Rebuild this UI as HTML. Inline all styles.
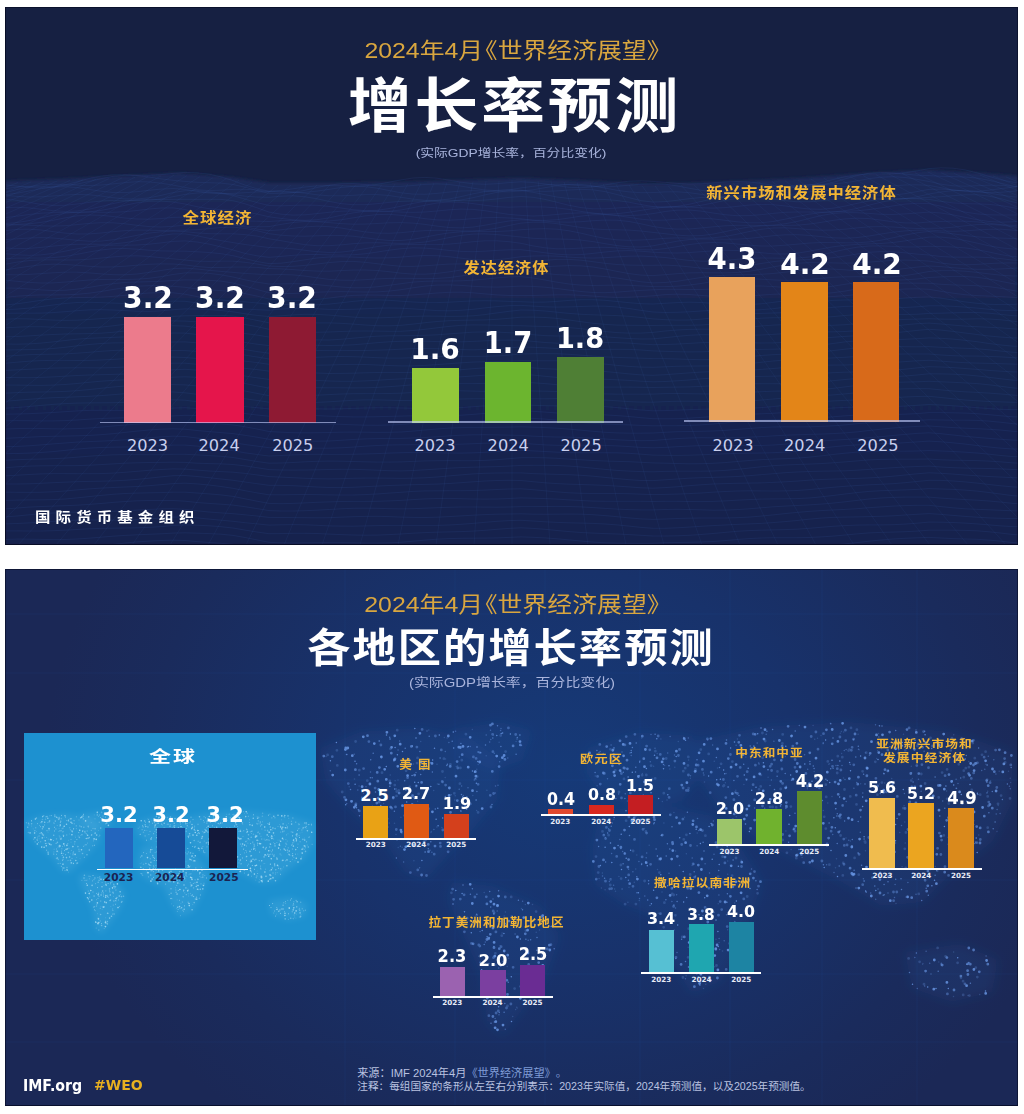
<!DOCTYPE html>
<html><head><meta charset="utf-8"><title>IMF WEO</title>
<style>
html,body{margin:0;padding:0;background:#fff;}
body{width:1024px;height:1114px;position:relative;overflow:hidden;}
.t{position:absolute;white-space:nowrap;}
.r{position:absolute;}
.panel{position:absolute;overflow:hidden;}
#p1{left:5px;top:7px;width:1013px;height:538px;background:#172043;}
#p2{left:5px;top:569px;width:1013px;height:537px;background:#1c2d5e;}
svg.bg{position:absolute;left:0;top:0;display:block;}
.panel::after{content:"";position:absolute;left:0;top:0;right:0;bottom:0;box-shadow:inset 0 0 0 1px rgba(4,8,30,0.55);pointer-events:none;}

</style></head>
<body>
<div class="panel" id="p1"><svg class="bg" id="bg1" width="1013" height="538" viewBox="0 0 1013 538">
<defs>
<linearGradient id="g1" x1="0" y1="0" x2="0" y2="1">
<stop offset="0" stop-color="#1b2a5a"/>
<stop offset="0.15" stop-color="#1a2755"/>
<stop offset="0.4" stop-color="#192550"/>
<stop offset="1" stop-color="#18234d"/>
</linearGradient>
</defs>
<rect width="1013" height="538" fill="#162042"/>
<filter id="bl1" x="-5%" y="-50%" width="110%" height="200%"><feGaussianBlur stdDeviation="1.5"/></filter>
<path d="M0,538 L0,174 L55,172 L115,169 L175,166 L225,170 L265,176 L325,176 L395,175 L455,173 L515,171 L585,174 L645,177 L715,175 L795,171 L865,166 L925,163 L975,166 L1013,169 L1013,538 Z" fill="url(#g1)" filter="url(#bl1)"/>
<g stroke="#4068b8" stroke-opacity="0.16" stroke-width="0.8" fill="none"><polyline points="0,177.8 12,179.1 24,180.4 36,181.0 48,180.2 60,177.9 72,174.8 84,171.5 96,169.1 108,167.9 120,167.7 132,168.1 144,168.3 156,167.7 168,166.4 180,165.4 192,165.8 204,167.2 216,169.9 228,173.6 240,178.1 252,181.8 264,184.1 276,183.4 288,181.8 300,180.0 312,178.9 324,178.6 336,178.8 348,179.1 360,178.7 372,177.4 384,175.2 396,172.9 408,171.0 420,170.4 432,171.2 444,173.1 456,175.2 468,176.8 480,177.3 492,176.7 504,175.6 516,174.8 528,175.5 540,177.0 552,178.8 564,180.3 576,180.7 588,179.9 600,178.0 612,175.8 624,174.2 636,173.8 648,174.4 660,175.3 672,176.4 684,177.1 696,176.8 708,176.0 720,175.0 732,174.4 744,175.0 756,176.4 768,178.3 780,179.7 792,179.9 804,178.4 816,175.7 828,172.5 840,169.7 852,167.9 864,167.0 876,166.9 888,166.7 900,165.7 912,163.9 924,161.6 936,160.8 948,161.2 960,162.9 972,165.8 984,169.4 996,172.8 1008,175.2 1020,175.7"/><polyline points="0,181.6 12,180.1 24,179.3 36,179.3 48,179.3 60,178.7 72,177.1 84,174.5 96,171.7 108,169.4 120,168.2 132,168.6 144,170.0 156,171.9 168,173.3 180,174.4 192,175.3 204,175.7 216,176.1 228,177.5 240,180.2 252,183.5 264,186.4 276,186.7 288,185.6 300,183.3 312,180.5 324,178.2 336,176.7 348,176.6 360,177.5 372,178.7 384,179.4 396,179.4 408,178.5 420,177.4 432,176.9 444,177.5 456,179.1 468,181.2 480,183.0 492,183.6 504,182.9 516,180.9 528,179.3 540,177.9 552,177.3 564,177.7 576,178.7 588,179.6 600,179.9 612,179.3 624,178.2 636,177.2 648,176.9 660,177.2 672,178.9 684,181.2 696,183.3 708,184.6 720,184.4 732,183.2 744,181.6 756,180.3 768,179.8 780,179.9 792,180.2 804,179.8 816,178.2 828,175.4 840,171.9 852,168.6 864,166.2 876,165.4 888,165.9 900,167.1 912,168.2 924,168.6 936,169.3 948,169.6 960,170.0 972,171.1 984,173.3 996,176.2 1008,179.1 1020,180.7"/><polyline points="0,185.7 12,182.6 24,179.7 36,177.8 48,177.2 60,177.5 72,178.2 84,178.5 96,178.0 108,176.9 120,175.6 132,174.7 144,174.9 156,176.2 168,178.1 180,180.4 192,182.7 204,183.6 216,183.2 228,182.4 240,182.3 252,183.0 264,184.6 276,185.1 288,185.5 300,185.3 312,184.1 324,182.4 336,180.5 348,179.4 360,179.6 372,181.2 384,183.5 396,185.8 408,187.1 420,187.3 432,186.4 444,185.1 456,184.0 468,183.7 480,184.1 492,184.7 504,184.8 516,184.0 528,182.8 540,180.7 552,178.7 564,177.4 576,177.5 588,178.8 600,181.1 612,183.3 624,184.9 636,185.7 648,185.6 660,184.9 672,184.8 684,185.7 696,187.3 708,189.1 720,190.1 732,189.6 744,187.8 756,184.9 768,181.9 780,179.5 792,178.1 804,177.5 816,177.3 828,176.9 840,175.8 852,173.9 864,171.7 876,170.2 888,169.7 900,170.5 912,172.4 924,174.5 936,177.2 948,178.8 960,179.2 972,178.7 984,178.2 996,178.4 1008,179.3 1020,180.2"/><polyline points="0,187.7 12,186.2 24,184.0 36,181.7 48,180.1 60,179.7 72,180.6 84,182.4 96,184.2 108,185.5 120,185.6 132,184.7 144,183.3 156,182.1 168,181.5 180,182.4 192,184.4 204,186.1 216,186.7 228,186.4 240,185.7 252,184.9 264,184.8 276,184.2 288,184.8 300,186.2 312,187.8 324,188.8 336,188.8 348,188.3 360,187.6 372,187.6 384,188.5 396,190.3 408,192.1 420,193.3 432,193.4 444,192.0 456,189.6 468,186.8 480,184.6 492,183.3 504,182.9 516,183.2 528,184.1 540,184.4 552,183.9 564,183.0 576,182.4 588,182.8 600,184.6 612,187.5 624,190.7 636,193.6 648,195.1 660,194.6 672,193.3 684,191.7 696,190.5 708,190.1 720,190.2 732,190.2 744,189.7 756,188.1 768,185.5 780,182.4 792,179.8 804,178.0 816,177.5 828,178.3 840,179.5 852,180.4 864,180.5 876,179.9 888,178.9 900,178.0 912,177.8 924,178.4 936,180.7 948,183.0 960,184.3 972,184.3 984,183.2 996,181.6 1008,180.2 1020,179.1"/><polyline points="0,188.4 12,189.4 24,190.0 36,189.8 48,189.0 60,188.0 72,187.4 84,187.8 96,189.0 108,190.7 120,191.9 132,192.0 144,190.8 156,188.4 168,185.6 180,183.7 192,183.7 204,184.6 216,186.0 228,187.6 240,189.2 252,190.0 264,190.3 276,189.2 288,188.8 300,189.8 312,191.8 324,194.4 336,196.6 348,197.7 360,197.7 372,196.7 384,195.4 396,194.4 408,193.9 420,194.1 432,194.4 444,194.2 456,193.0 468,190.7 480,187.9 492,185.3 504,183.6 516,183.4 528,185.3 540,187.7 552,190.0 564,191.5 576,192.2 588,192.3 600,192.5 612,193.5 624,195.2 636,197.6 648,199.6 660,200.1 672,199.4 684,197.3 696,194.5 708,191.8 720,189.8 732,188.7 744,188.6 756,188.8 768,188.8 780,188.0 792,186.6 804,184.8 816,183.5 828,183.2 840,184.1 852,185.7 864,187.3 876,188.4 888,188.2 900,186.7 912,184.6 924,182.4 936,182.1 948,182.8 960,183.9 972,185.0 984,185.6 996,185.3 1008,184.3 1020,182.6"/><polyline points="0,192.0 12,193.4 24,195.4 36,197.4 48,198.4 60,198.3 72,197.0 84,195.4 96,194.0 108,193.4 120,193.4 132,193.5 144,193.3 156,192.0 168,189.7 180,187.4 192,186.0 204,185.5 216,186.3 228,188.6 240,192.1 252,195.6 264,198.5 276,198.8 288,198.4 300,198.1 312,198.3 324,199.4 336,201.0 348,202.7 360,203.6 372,203.3 384,201.6 396,199.2 408,196.4 420,194.3 432,193.3 444,193.2 456,193.6 468,193.7 480,193.1 492,191.9 504,190.4 516,189.5 528,190.3 540,192.4 552,195.3 564,198.3 576,200.6 588,201.8 600,201.8 612,201.0 624,200.2 636,199.9 648,200.1 660,200.2 672,200.3 684,199.8 696,198.3 708,196.0 720,193.4 732,191.3 744,190.3 756,190.7 768,192.0 780,193.6 792,194.8 804,194.8 816,193.8 828,192.4 840,191.2 852,190.7 864,190.9 876,191.7 888,192.1 900,191.6 912,189.8 924,187.0 936,185.0 948,183.6 960,183.3 972,184.2 984,186.0 996,188.1 1008,189.8 1020,190.2"/><polyline points="0,200.6 12,200.3 24,200.9 36,202.2 48,203.7 60,204.4 72,204.0 84,202.2 96,199.5 108,196.6 120,194.2 132,192.9 144,192.4 156,192.5 168,192.4 180,192.3 192,192.4 204,192.3 216,192.4 228,193.7 240,196.8 252,200.8 264,205.1 276,207.2 288,208.1 300,207.8 312,206.6 324,205.3 336,204.2 348,203.9 360,204.1 372,204.5 384,204.2 396,203.0 408,200.7 420,198.2 432,196.0 444,195.0 456,195.3 468,196.6 480,198.3 492,199.7 504,200.2 516,199.8 528,199.9 540,200.0 552,200.9 564,202.4 576,204.4 588,206.1 600,207.0 612,206.7 624,205.3 636,203.4 648,201.6 660,200.0 672,199.6 684,200.0 696,200.8 708,201.1 720,200.6 732,199.4 744,198.1 756,197.4 768,197.7 780,198.9 792,200.7 804,202.0 816,202.3 828,201.2 840,199.1 852,196.4 864,193.9 876,192.4 888,191.7 900,191.6 912,191.2 924,190.3 936,189.7 948,188.7 960,187.8 972,187.7 984,189.1 996,191.7 1008,195.0 1020,197.6"/><polyline points="0,210.6 12,209.2 24,207.5 36,206.2 48,205.6 60,205.5 72,205.5 84,204.9 96,203.4 108,201.1 120,198.3 132,195.8 144,194.3 156,194.1 168,195.0 180,197.0 192,199.7 204,201.7 216,202.7 228,203.5 240,204.9 252,207.0 264,209.8 276,211.4 288,212.8 300,213.3 312,212.7 324,210.9 336,208.3 348,205.9 360,204.4 372,203.9 384,204.4 396,205.1 408,205.4 420,205.0 432,204.0 444,202.8 456,202.1 468,202.4 480,203.7 492,205.6 504,207.4 516,208.4 528,209.0 540,208.5 552,207.4 564,206.3 576,205.9 588,206.3 600,207.3 612,208.2 624,208.5 636,208.0 648,206.6 660,204.5 672,203.2 684,203.0 696,204.1 708,206.0 720,207.7 732,208.7 744,208.6 756,207.7 768,206.4 780,205.3 792,205.0 804,205.0 816,205.2 828,205.0 840,203.7 852,201.4 864,198.2 876,195.2 888,192.9 900,191.7 912,191.7 924,192.4 936,194.4 948,195.9 960,196.6 972,196.9 984,197.4 996,198.6 1008,200.7 1020,203.0"/><polyline points="0,216.5 12,215.6 24,213.6 36,210.9 48,208.3 60,206.2 72,205.2 84,205.0 96,205.3 108,205.3 120,204.7 132,203.5 144,202.0 156,201.0 168,200.9 180,202.5 192,205.7 204,208.9 216,211.4 228,212.9 240,213.9 252,214.2 264,214.5 276,213.7 288,213.5 300,213.9 312,214.2 324,214.0 336,212.8 348,210.9 360,208.9 372,207.6 384,207.3 396,208.3 408,209.9 420,211.7 432,212.9 444,213.2 456,212.6 468,211.6 480,210.7 492,210.5 504,211.0 516,211.8 528,213.1 540,213.4 552,212.7 564,211.0 576,209.1 588,207.8 600,207.6 612,208.6 624,210.3 636,212.2 648,213.3 660,213.1 672,212.3 684,211.5 696,211.2 708,211.9 720,213.3 732,214.8 744,215.8 756,215.8 768,214.5 780,212.2 792,209.7 804,207.2 816,205.6 828,204.8 840,204.4 852,203.8 864,202.6 876,200.9 888,198.9 900,197.1 912,196.3 924,196.6 936,199.2 948,202.3 960,205.1 972,206.9 984,207.8 996,208.0 1008,208.0 1020,207.8"/><polyline points="0,217.4 12,217.3 24,216.8 36,215.4 48,213.3 60,210.9 72,208.9 84,208.0 96,208.3 108,209.5 120,211.0 132,212.0 144,212.2 156,211.6 168,210.4 180,210.1 192,211.2 204,213.0 216,215.2 228,217.3 240,219.1 252,219.8 264,219.6 276,217.4 288,215.5 300,214.5 312,214.7 324,215.6 336,216.6 348,217.2 360,217.1 372,216.5 384,215.8 396,215.6 408,216.1 420,217.4 432,219.1 444,220.5 456,220.9 468,220.1 480,218.2 492,216.0 504,214.0 516,212.8 528,213.3 540,214.2 552,215.0 564,215.2 576,214.7 588,213.7 600,213.1 612,213.2 624,214.5 636,216.8 648,219.5 660,221.2 672,222.1 684,222.0 696,221.0 708,219.8 720,218.8 732,218.3 744,218.3 756,218.5 768,218.1 780,216.8 792,214.5 804,211.5 816,208.6 828,206.5 840,205.6 852,205.7 864,206.4 876,207.3 888,207.5 900,206.9 912,206.0 924,205.1 936,206.0 948,207.9 960,210.3 972,212.7 984,214.5 996,215.2 1008,214.8 1020,213.1"/><polyline points="0,218.3 12,217.8 24,218.2 36,218.8 48,219.1 60,218.7 72,217.6 84,216.4 96,215.7 108,215.8 120,216.8 132,218.3 144,219.6 156,220.0 168,219.3 180,218.1 192,217.4 204,216.7 216,216.8 228,217.8 240,220.0 252,222.1 264,223.7 276,222.8 288,221.3 300,219.9 312,219.2 324,219.7 336,221.0 348,223.0 360,224.9 372,226.1 384,226.3 396,225.7 408,224.5 420,223.6 432,223.3 444,223.5 456,223.9 468,223.9 480,223.0 492,221.1 504,218.5 516,216.1 528,215.2 540,215.4 552,216.7 564,218.6 576,220.5 588,221.9 600,222.6 612,222.8 624,223.1 636,224.0 648,225.4 660,226.7 672,228.1 684,228.9 696,228.6 708,227.1 720,224.7 732,222.1 744,220.0 756,218.9 768,218.5 780,218.4 792,218.2 804,217.1 816,215.4 828,213.4 840,211.9 852,211.2 864,211.6 876,213.1 888,214.8 900,215.9 912,216.0 924,215.0 936,214.5 948,214.1 960,214.2 972,214.9 984,216.2 996,217.6 1008,218.4 1020,217.7"/><polyline points="0,223.7 12,222.4 24,222.2 36,223.0 48,224.6 60,226.1 72,227.0 84,226.9 96,226.0 108,224.7 120,223.6 132,223.1 144,223.2 156,223.5 168,223.4 180,223.1 192,222.7 204,221.6 216,220.5 228,220.1 240,221.4 252,223.7 264,226.7 276,228.2 288,229.0 300,229.2 312,228.8 324,228.4 336,228.5 348,229.2 360,230.7 372,232.3 384,233.5 396,233.5 408,232.3 420,230.1 432,227.8 444,225.9 456,224.8 468,224.5 480,224.6 492,224.5 504,223.9 516,222.7 528,222.0 540,221.7 552,222.2 564,223.8 576,226.2 588,229.0 600,231.4 612,232.8 624,233.3 636,233.0 648,232.3 660,231.3 672,230.9 684,231.1 696,231.2 708,230.8 720,229.5 732,227.2 744,224.6 756,222.3 768,221.0 780,220.8 792,221.6 804,222.6 816,223.2 828,223.0 840,222.2 852,220.9 864,219.8 876,219.6 888,220.0 900,220.9 912,221.5 924,221.3 936,221.2 948,220.2 960,218.8 972,217.6 984,217.3 996,218.1 1008,219.7 1020,220.9"/><polyline points="0,232.6 12,231.8 24,231.0 36,230.6 48,231.0 60,232.1 72,233.3 84,234.2 96,234.1 108,232.8 120,230.7 132,228.3 144,226.1 156,224.8 168,224.2 180,224.6 192,225.9 204,226.7 216,226.8 228,226.8 240,227.6 252,229.1 264,231.8 276,233.7 288,235.8 300,237.7 312,238.7 324,238.7 336,237.9 348,236.7 360,235.9 372,235.7 384,236.1 396,236.4 408,236.1 420,235.0 432,233.0 444,230.6 456,228.4 468,227.1 480,226.9 492,227.6 504,228.8 516,230.0 528,231.3 540,231.8 552,232.0 564,232.3 576,233.1 588,234.6 600,236.7 612,238.6 624,239.8 636,240.0 648,238.8 660,236.5 672,234.2 684,232.6 696,232.0 708,232.1 720,232.3 732,232.2 744,231.4 756,230.1 768,228.7 780,227.8 792,227.7 804,228.4 816,229.6 828,230.8 840,231.2 852,230.6 864,229.0 876,227.0 888,225.2 900,223.9 912,223.2 924,223.0 936,223.9 948,224.3 960,223.9 972,223.0 984,222.3 996,222.2 1008,223.2 1020,224.7"/><polyline points="0,240.9 12,241.6 24,241.4 36,240.4 48,239.1 60,238.0 72,237.3 84,237.2 96,237.3 108,236.9 120,235.7 132,233.6 144,231.1 156,228.6 168,226.9 180,226.9 192,228.8 204,231.3 216,233.6 228,235.6 240,237.5 252,239.0 264,240.5 276,240.9 288,241.8 300,243.3 312,244.7 324,245.5 336,245.1 348,243.7 360,241.7 372,239.6 384,238.1 396,237.5 408,237.4 420,237.6 432,237.6 444,237.1 456,236.0 468,234.7 480,233.8 492,233.8 504,234.7 516,236.3 528,238.9 540,240.8 552,241.8 564,241.7 576,241.1 588,240.4 600,240.3 612,240.9 624,241.8 636,242.7 648,242.9 660,241.6 672,239.7 684,237.6 696,236.1 708,235.5 720,235.9 732,237.0 744,238.2 756,239.0 768,239.0 780,238.2 792,237.2 804,236.1 816,235.5 828,235.6 840,235.8 852,235.8 864,234.9 876,233.2 888,230.8 900,228.1 912,225.8 924,224.4 936,225.3 948,226.8 960,228.5 972,229.8 984,230.6 996,231.1 1008,231.5 1020,232.0"/><polyline points="0,246.7 12,247.8 24,248.3 36,247.9 48,246.4 60,244.2 72,241.8 84,239.8 96,238.6 108,238.2 120,238.2 132,238.0 144,237.2 156,235.9 168,234.4 180,233.9 192,235.0 204,237.1 216,239.9 228,243.0 240,246.4 252,248.8 264,250.3 276,249.4 288,248.3 300,247.6 312,247.5 324,247.9 336,248.1 348,247.8 360,246.8 372,245.1 384,243.2 396,241.7 408,240.8 420,241.1 432,242.1 444,243.4 456,244.4 468,244.7 480,244.2 492,243.4 504,242.8 516,242.7 528,244.1 540,245.8 552,247.2 564,247.9 576,247.6 588,246.4 600,245.0 612,243.9 624,243.6 636,244.2 648,245.2 660,245.8 672,246.0 684,245.6 696,244.7 708,243.9 720,243.4 732,243.5 744,244.5 756,245.7 768,246.8 780,247.0 792,246.2 804,244.3 816,242.0 828,239.8 840,238.3 852,237.4 864,236.9 876,236.5 888,235.5 900,233.9 912,231.9 924,230.1 936,230.1 948,231.3 960,233.5 972,236.1 984,238.8 996,240.8 1008,242.0 1020,242.0"/><polyline points="0,251.7 12,251.2 24,251.1 36,251.1 48,250.6 60,249.4 72,247.3 84,245.0 96,243.0 108,241.7 120,241.5 132,242.2 144,243.2 156,243.9 168,244.1 180,244.2 192,244.8 204,245.5 216,246.7 228,248.7 240,251.6 252,254.5 264,256.6 276,256.2 288,254.7 300,252.8 312,251.0 324,250.0 336,249.7 348,250.1 360,250.7 372,251.0 384,250.8 396,250.1 408,249.1 420,248.5 432,248.7 444,249.7 456,251.2 468,252.5 480,253.1 492,252.7 504,251.4 516,249.7 528,249.0 540,248.8 552,249.2 564,250.1 576,250.8 588,251.1 600,250.7 612,249.9 624,249.2 636,249.1 648,249.7 660,250.5 672,252.0 684,253.4 696,254.2 708,254.3 720,253.5 732,252.3 744,251.4 756,251.0 768,251.1 780,251.3 792,251.1 804,250.0 816,247.8 828,245.1 840,242.4 852,240.2 864,239.0 876,238.9 888,239.4 900,239.9 912,239.9 924,239.3 936,239.5 948,240.0 960,240.9 972,242.6 984,245.0 996,247.6 1008,249.6 1020,250.2"/><polyline points="0,257.3 12,255.1 24,253.6 36,252.9 48,252.8 60,253.0 72,252.9 84,252.2 96,251.1 108,249.9 120,249.0 132,248.8 144,249.5 156,250.7 168,251.8 180,253.0 192,254.2 204,254.4 216,254.2 228,254.2 240,255.3 252,257.0 264,259.1 276,259.5 288,259.3 300,258.4 312,257.0 324,255.6 336,254.6 348,254.4 360,255.3 372,256.7 384,258.2 396,259.3 408,259.4 420,258.8 432,257.9 444,257.1 456,256.9 468,257.2 480,257.7 492,257.8 504,257.2 516,255.8 528,254.6 540,253.3 552,252.4 564,252.4 576,253.2 588,254.7 600,256.3 612,257.5 624,258.1 636,258.3 648,258.3 660,258.1 672,258.7 684,259.8 696,261.1 708,261.9 720,261.9 732,260.6 744,258.7 756,256.5 768,254.7 780,253.5 792,253.0 804,252.5 816,251.9 828,250.7 840,249.0 852,247.0 864,245.3 876,244.6 888,244.8 900,245.8 912,247.1 924,248.0 936,249.5 948,250.1 960,250.2 972,250.1 984,250.6 996,251.6 1008,253.1 1020,254.0"/><polyline points="0,262.9 12,261.1 24,259.3 36,257.8 48,257.2 60,257.5 72,258.3 84,259.3 96,260.0 108,259.9 120,259.2 132,258.2 144,257.3 156,256.9 168,257.0 180,257.9 192,259.5 204,260.5 216,260.5 228,260.1 240,260.1 252,260.4 264,261.6 276,261.9 288,262.6 300,263.5 312,264.1 324,264.2 336,263.6 348,263.1 360,263.0 372,263.5 384,264.7 396,266.2 408,267.1 420,267.2 432,266.4 444,264.9 456,263.0 468,261.4 480,260.4 492,260.0 504,259.9 516,259.8 528,260.0 540,259.7 552,259.1 564,258.6 576,258.9 588,260.0 600,262.0 612,264.4 624,266.6 636,268.1 648,268.6 660,267.7 672,266.7 684,265.9 696,265.7 708,265.8 720,265.9 732,265.5 744,264.3 756,262.3 768,260.0 780,257.8 792,256.3 804,255.6 816,255.6 828,255.9 840,256.2 852,255.9 864,255.1 876,254.2 888,253.4 900,253.1 912,253.4 924,254.1 936,256.0 948,257.4 960,257.8 972,257.4 984,256.6 996,256.0 1008,255.9 1020,256.0"/><polyline points="0,267.7 12,267.8 24,267.4 36,266.6 48,265.8 60,265.2 72,265.2 84,265.9 96,266.9 108,267.7 120,267.8 132,267.0 144,265.4 156,263.5 168,261.7 180,261.1 192,262.0 204,263.3 216,264.4 228,265.4 240,266.4 252,267.1 264,267.8 276,267.5 288,267.9 300,269.1 312,270.8 324,272.4 336,273.2 348,273.3 360,272.7 372,271.9 384,271.4 396,271.3 408,271.4 420,271.6 432,271.4 444,270.6 456,269.0 468,266.9 480,264.9 492,263.5 504,262.9 516,263.3 528,264.9 540,266.5 552,267.6 564,268.2 576,268.4 588,268.7 600,269.5 612,271.0 624,272.9 636,274.8 648,275.9 660,275.5 672,274.3 684,272.4 696,270.5 708,269.1 720,268.2 732,267.8 744,267.7 756,267.3 768,266.5 780,265.2 792,263.8 804,262.5 816,261.9 828,262.1 840,262.8 852,263.7 864,264.1 876,263.9 888,263.0 900,261.5 912,260.1 924,259.0 936,259.6 948,260.7 960,261.7 972,262.3 984,262.3 996,261.9 1008,261.3 1020,260.6"/><polyline points="0,273.2 12,274.3 24,275.4 36,276.0 48,275.9 60,275.1 72,274.0 84,273.0 96,272.5 108,272.4 120,272.5 132,272.2 144,271.3 156,269.7 168,267.5 180,265.9 192,265.8 204,266.4 216,267.8 228,270.0 240,272.8 252,275.2 264,277.0 276,276.9 288,276.7 300,276.8 312,277.6 324,278.8 336,280.0 348,280.8 360,280.7 372,279.8 384,278.3 396,276.7 408,275.1 420,274.3 432,274.0 444,274.0 456,273.8 468,273.2 480,272.1 492,270.9 504,269.9 516,269.6 528,271.0 540,273.0 552,275.2 564,277.0 576,278.1 588,278.5 600,278.3 612,278.1 624,278.3 636,278.9 648,279.6 660,279.6 672,279.2 684,278.1 696,276.5 708,274.6 720,273.0 732,271.9 744,271.7 756,272.2 768,272.9 780,273.4 792,273.3 804,272.5 816,271.3 828,270.3 840,269.8 852,269.7 864,269.9 876,270.2 888,269.8 900,268.6 912,266.7 924,264.5 936,263.6 948,263.6 960,264.2 972,265.4 984,266.9 996,268.2 1008,269.0 1020,268.9"/><polyline points="0,281.0 12,281.2 24,282.0 36,282.9 48,283.5 60,283.3 72,282.1 84,280.4 96,278.4 108,276.7 120,275.5 132,275.0 144,274.7 156,274.3 168,273.5 180,272.9 192,273.0 204,273.3 216,274.1 228,276.0 240,279.1 252,282.5 264,285.7 276,286.5 288,286.5 300,285.9 312,285.2 324,284.8 336,284.6 348,284.8 360,285.0 372,284.9 384,284.1 396,282.7 408,280.8 420,279.1 432,278.1 444,277.9 456,278.4 468,279.3 480,279.9 492,280.1 504,279.7 516,279.1 528,279.4 540,280.2 552,281.5 564,283.1 576,284.5 588,285.5 600,285.7 612,285.1 624,284.2 636,283.4 648,282.8 660,282.3 672,282.3 684,282.5 696,282.5 708,282.0 720,281.1 732,279.9 744,279.1 756,279.0 768,279.5 780,280.5 792,281.3 804,281.4 816,280.7 828,279.2 840,277.3 852,275.6 864,274.2 876,273.6 888,273.2 900,272.8 912,272.0 924,270.5 936,269.9 948,269.4 960,269.5 972,270.3 984,272.0 996,274.4 1008,276.7 1020,278.1"/><polyline points="0,290.3 12,289.2 24,288.4 36,287.9 48,287.9 60,287.8 72,287.3 84,286.2 96,284.5 108,282.5 120,280.6 132,279.2 144,278.7 156,278.8 168,279.3 180,280.3 192,281.9 204,282.9 216,283.6 228,284.6 240,286.6 252,289.1 264,292.0 276,293.1 288,293.7 300,293.4 312,292.5 324,291.1 336,289.5 348,288.4 360,288.0 372,288.1 384,288.4 396,288.5 408,287.9 420,287.0 432,286.0 444,285.3 456,285.2 468,285.8 480,286.9 492,287.9 504,288.5 516,288.5 528,288.5 540,288.2 552,287.8 564,287.8 576,288.3 588,289.1 600,289.9 612,290.4 624,290.2 636,289.6 648,288.8 660,287.6 672,287.2 684,287.5 696,288.4 708,289.4 720,289.9 732,289.7 744,289.0 756,288.1 768,287.3 780,286.9 792,287.0 804,287.0 816,286.7 828,285.7 840,284.1 852,281.8 864,279.4 876,277.6 888,276.5 900,276.1 912,276.2 924,276.3 936,277.3 948,277.9 960,278.3 972,278.7 984,279.7 996,281.3 1008,283.5 1020,285.3"/><polyline points="0,298.0 12,296.8 24,295.1 36,293.3 48,291.9 60,291.0 72,290.6 84,290.4 96,290.1 108,289.4 120,288.3 132,287.0 144,286.0 156,285.6 168,285.8 180,287.2 192,289.6 204,291.7 216,293.0 228,293.9 240,294.9 252,295.9 264,297.3 276,297.4 288,297.6 300,297.9 312,297.8 324,297.1 336,295.8 348,294.4 360,293.3 372,292.9 384,293.3 396,294.2 408,295.0 420,295.6 432,295.6 444,295.2 456,294.5 468,293.9 480,293.7 492,293.9 504,294.4 516,294.7 528,295.2 540,295.1 552,294.4 564,293.4 576,292.7 588,292.7 600,293.3 612,294.5 624,295.7 636,296.7 648,297.0 660,296.3 672,295.6 684,295.2 696,295.5 708,296.3 720,297.2 732,297.7 744,297.6 756,296.8 768,295.4 780,293.7 792,292.2 804,290.9 816,290.1 828,289.5 840,288.7 852,287.6 864,286.0 876,284.4 888,282.9 900,282.0 912,281.8 924,282.3 936,284.3 948,286.2 960,287.7 972,288.6 984,289.1 996,289.6 1008,290.3 1020,290.9"/><polyline points="0,302.6 12,302.1 24,301.1 36,299.6 48,298.0 60,296.5 72,295.5 84,295.3 96,295.6 108,296.1 120,296.5 132,296.3 144,295.7 156,294.9 168,294.1 180,294.3 192,295.9 204,297.7 216,299.4 228,300.7 240,302.0 252,302.7 264,303.2 276,302.1 288,301.4 300,301.4 312,301.8 324,302.4 336,302.5 348,302.3 360,301.8 372,301.2 384,301.0 396,301.2 408,301.9 420,302.8 432,303.6 444,303.8 456,303.3 468,302.3 480,300.9 492,299.6 504,298.7 516,298.4 528,299.1 540,299.8 552,300.1 564,299.9 576,299.5 588,299.1 600,299.2 612,300.0 624,301.5 636,303.4 648,305.0 660,305.5 672,305.3 684,304.8 696,304.0 708,303.4 720,303.1 732,303.0 744,303.0 756,302.7 768,301.7 780,300.2 792,298.3 804,296.2 816,294.4 828,293.4 840,293.0 852,292.9 864,292.8 876,292.6 888,292.0 900,291.1 912,290.3 924,289.9 936,291.2 948,293.0 960,294.9 972,296.3 984,297.3 996,297.6 1008,297.4 1020,296.6"/><polyline points="0,306.3 12,306.2 24,306.2 36,306.1 48,305.6 60,304.7 72,303.7 84,302.9 96,302.7 108,303.0 120,303.6 132,304.2 144,304.4 156,303.9 168,302.7 180,301.9 192,302.1 204,302.6 216,303.5 228,304.8 240,306.8 252,308.4 264,309.6 276,308.8 288,307.9 300,307.3 312,307.4 324,308.1 336,309.1 348,310.1 360,310.8 372,310.9 384,310.5 396,310.0 408,309.4 420,309.1 432,309.2 444,309.4 456,309.3 468,308.8 480,307.6 492,305.9 504,304.3 516,303.0 528,303.2 540,304.0 552,305.2 564,306.4 576,307.3 588,307.8 600,308.2 612,308.6 624,309.3 636,310.5 648,311.9 660,312.7 672,313.1 684,313.0 696,312.2 708,310.9 720,309.3 732,307.9 744,306.9 756,306.4 768,306.0 780,305.6 792,304.7 804,303.3 816,301.7 828,300.3 840,299.4 852,299.2 864,299.5 876,300.1 888,300.6 900,300.5 912,299.8 924,298.8 936,298.8 948,299.3 960,300.1 972,301.1 984,302.3 996,303.3 1008,303.6 1020,303.0"/><polyline points="0,312.3 12,311.7 24,311.9 36,312.5 48,313.1 60,313.4 72,313.2 84,312.5 96,311.6 108,310.8 120,310.3 132,310.2 144,310.2 156,310.0 168,309.4 180,308.8 192,308.6 204,308.4 216,308.4 228,309.1 240,311.1 252,313.4 264,315.8 276,316.4 288,316.4 300,316.1 312,315.9 324,315.9 336,316.3 348,317.1 360,318.0 372,318.7 384,318.8 396,318.3 408,317.1 420,315.7 432,314.5 444,313.7 456,313.3 468,313.1 480,312.9 492,312.3 504,311.3 516,310.2 528,310.1 540,310.5 552,311.4 564,313.0 576,314.7 588,316.3 600,317.4 612,318.1 624,318.3 636,318.4 648,318.5 660,318.3 672,318.3 684,318.3 696,318.0 708,317.2 720,315.8 732,314.0 744,312.4 756,311.2 768,310.7 780,310.7 792,311.0 804,310.9 816,310.5 828,309.6 840,308.5 852,307.6 864,306.9 876,307.0 888,307.3 900,307.5 912,307.3 924,306.4 936,306.2 948,305.8 960,305.5 972,305.5 984,306.2 996,307.4 1008,308.7 1020,309.3"/><polyline points="0,320.9 12,320.2 24,319.7 36,319.7 48,320.2 60,320.7 72,321.0 84,320.8 96,320.1 108,318.8 120,317.3 132,315.9 144,314.9 156,314.3 168,313.9 180,314.1 192,314.8 204,315.3 216,315.5 228,316.0 240,317.5 252,319.6 264,322.3 276,323.6 288,324.6 300,325.2 312,325.3 324,325.0 336,324.5 348,324.1 360,324.0 372,324.1 384,324.3 396,324.3 408,323.5 420,322.3 432,320.8 444,319.4 456,318.3 468,317.9 480,318.0 492,318.3 504,318.6 516,318.7 528,319.2 540,319.5 552,319.9 564,320.6 576,321.7 588,323.1 600,324.5 612,325.6 624,326.1 636,326.1 648,325.4 660,324.0 672,323.0 684,322.4 696,322.2 708,322.2 720,321.9 732,321.1 744,320.1 756,319.0 768,318.1 780,317.6 792,317.8 804,318.1 816,318.3 828,318.3 840,317.7 852,316.6 864,315.1 876,313.9 888,313.0 900,312.4 912,312.1 924,311.7 936,312.1 948,312.3 960,312.1 972,311.8 984,312.0 996,312.8 1008,314.2 1020,315.4"/><polyline points="0,329.8 12,329.5 24,328.9 36,328.1 48,327.5 60,327.0 72,326.8 84,326.6 96,326.2 108,325.3 120,324.0 132,322.4 144,320.8 156,319.5 168,318.7 180,319.1 192,320.7 204,322.3 216,323.6 228,324.8 240,326.5 252,328.1 264,330.0 276,330.7 288,331.5 300,332.4 312,332.9 324,333.0 336,332.3 348,331.2 360,330.1 372,329.2 384,328.8 396,328.7 408,328.6 420,328.3 432,327.8 444,326.9 456,326.0 468,325.2 480,324.9 492,325.1 504,325.7 516,326.4 528,327.7 540,328.6 552,329.0 564,329.0 576,329.0 588,329.2 600,329.8 612,330.7 624,331.5 636,332.0 648,331.9 660,330.7 672,329.4 684,328.3 696,327.7 708,327.7 720,327.9 732,328.2 744,328.3 756,328.0 768,327.4 780,326.6 792,325.9 804,325.3 816,325.0 828,324.8 840,324.5 852,323.7 864,322.4 876,320.9 888,319.3 900,317.8 912,316.7 924,316.1 936,317.0 948,318.1 960,319.1 972,319.7 984,320.3 996,320.9 1008,321.8 1020,322.6"/><polyline points="0,337.0 12,337.2 24,336.9 36,336.1 48,334.9 60,333.5 72,332.2 84,331.3 96,330.8 108,330.4 120,329.9 132,329.2 144,328.2 156,327.0 168,326.0 180,326.1 192,327.5 204,329.3 216,331.3 228,333.2 240,335.4 252,337.2 264,338.6 276,338.3 288,338.0 300,338.0 312,338.3 324,338.5 336,338.3 348,337.8 360,336.8 372,335.7 384,334.8 396,334.3 408,334.0 420,334.2 432,334.6 444,334.8 456,334.8 468,334.4 480,333.8 492,333.3 504,333.1 516,333.2 528,334.4 540,335.5 552,336.2 564,336.4 576,336.2 588,335.8 600,335.5 612,335.6 624,336.1 636,337.0 648,337.7 660,337.5 672,337.1 684,336.4 696,335.7 708,335.3 720,335.2 732,335.3 744,335.7 756,336.0 768,335.9 780,335.3 792,334.3 804,332.9 816,331.4 828,330.3 840,329.4 852,328.7 864,328.0 876,327.2 888,326.0 900,324.7 912,323.4 924,322.3 936,323.1 948,324.4 960,326.0 972,327.5 984,329.0 996,330.1 1008,330.9 1020,331.1"/><polyline points="0,343.0 12,342.8 24,342.6 36,342.3 48,341.5 60,340.3 72,338.8 84,337.5 96,336.5 108,335.9 120,335.8 132,335.9 144,335.9 156,335.6 168,335.0 180,334.9 192,335.8 204,336.9 216,338.3 228,340.1 240,342.5 252,344.6 264,346.2 276,345.7 288,344.9 300,344.0 312,343.5 324,343.4 336,343.4 348,343.5 360,343.5 372,343.2 384,342.8 396,342.2 408,341.6 420,341.5 432,341.7 444,342.2 456,342.6 468,342.8 480,342.5 492,341.8 504,340.9 516,340.0 528,340.3 540,340.8 552,341.5 564,342.1 576,342.5 588,342.5 600,342.4 612,342.3 624,342.4 636,343.0 648,343.9 660,344.3 672,344.7 684,344.9 696,344.8 708,344.4 720,343.7 732,343.0 744,342.6 756,342.4 768,342.2 780,341.9 792,341.3 804,339.9 816,338.2 828,336.5 840,334.9 852,333.8 864,333.1 876,332.9 888,332.7 900,332.3 912,331.7 924,330.9 936,331.3 948,332.1 960,333.3 972,334.7 984,336.5 996,338.0 1008,339.2 1020,339.3"/><polyline points="0,349.3 12,348.4 24,347.7 36,347.4 48,347.2 60,346.9 72,346.2 84,345.3 96,344.3 108,343.5 120,343.1 132,343.0 144,343.2 156,343.4 168,343.4 180,343.6 192,344.4 204,344.9 216,345.4 228,346.3 240,348.1 252,350.0 264,352.0 276,352.0 288,351.6 300,351.0 312,350.3 324,349.8 336,349.5 348,349.7 360,350.1 372,350.7 384,351.1 396,351.1 408,350.7 420,350.1 432,349.6 444,349.3 456,349.3 468,349.4 480,349.3 492,348.9 504,348.1 516,347.0 528,346.7 540,346.6 552,346.7 564,347.3 576,348.2 588,349.1 600,349.9 612,350.4 624,350.8 636,351.2 648,351.6 660,351.6 672,352.0 684,352.4 696,352.7 708,352.6 720,352.0 732,350.9 744,349.7 756,348.5 768,347.7 780,347.1 792,346.7 804,345.9 816,344.9 828,343.6 840,342.2 852,340.8 864,339.8 876,339.5 888,339.5 900,339.7 912,339.8 924,339.6 936,340.3 948,340.8 960,341.3 972,341.8 984,342.8 996,344.1 1008,345.3 1020,345.8"/><polyline points="0,356.3 12,355.2 24,354.2 36,353.6 48,353.4 60,353.4 72,353.5 84,353.4 96,353.0 108,352.4 120,351.7 132,351.0 144,350.5 156,350.2 168,350.1 180,350.5 192,351.5 204,352.2 216,352.5 228,353.0 240,354.1 252,355.6 264,357.3 276,357.7 288,358.1 300,358.2 312,358.2 324,358.0 336,357.6 348,357.4 360,357.5 372,358.0 384,358.5 396,358.9 408,358.9 420,358.4 432,357.6 444,356.7 456,355.8 468,355.1 480,354.7 492,354.5 504,354.1 516,353.7 528,353.8 540,353.8 552,353.8 564,354.1 576,354.8 588,355.8 600,357.1 612,358.4 624,359.4 636,360.1 648,360.3 660,359.8 672,359.3 684,359.1 696,359.0 708,358.9 720,358.6 732,357.8 744,356.7 756,355.3 768,354.0 780,353.0 792,352.3 804,351.8 816,351.4 828,350.9 840,350.3 852,349.4 864,348.4 876,347.7 888,347.2 900,347.0 912,347.0 924,347.0 936,348.0 948,348.7 960,349.0 972,349.1 984,349.4 996,349.9 1008,350.7 1020,351.1"/><polyline points="0,363.4 12,362.9 24,362.3 36,361.7 48,361.1 60,360.9 72,360.8 84,360.8 96,360.9 108,360.6 120,360.0 132,359.1 144,358.1 156,357.0 168,356.2 180,356.2 192,357.3 204,358.3 216,359.2 228,360.0 240,361.3 252,362.6 264,364.1 276,364.3 288,364.8 300,365.4 312,366.0 324,366.5 336,366.4 348,366.2 360,365.8 372,365.5 384,365.4 396,365.5 408,365.4 420,365.2 432,364.7 444,363.8 456,362.7 468,361.7 480,360.8 492,360.2 504,360.0 516,360.1 528,360.9 540,361.7 552,362.2 564,362.5 576,362.9 588,363.6 600,364.5 612,365.7 624,366.9 636,367.9 648,368.3 660,367.7 672,366.8 684,365.9 696,365.1 708,364.6 720,364.2 732,363.7 744,363.2 756,362.4 768,361.5 780,360.5 792,359.6 804,358.8 816,358.3 828,358.1 840,358.0 852,357.6 864,357.0 876,356.4 888,355.5 900,354.6 912,353.8 924,353.3 936,354.1 948,355.0 960,355.7 972,356.1 984,356.4 996,356.7 1008,357.1 1020,357.3"/><polyline points="0,370.4 12,370.6 24,370.7 36,370.4 48,369.9 60,369.2 72,368.5 84,368.0 96,367.7 108,367.4 120,367.0 132,366.4 144,365.4 156,364.1 168,362.8 180,362.3 192,363.1 204,364.2 216,365.5 228,367.0 240,369.0 252,370.8 264,372.4 276,372.5 288,372.5 300,372.8 312,373.4 324,374.0 336,374.3 348,374.3 360,373.9 372,373.3 384,372.5 396,371.9 408,371.3 420,370.9 432,370.6 444,370.3 456,369.8 468,369.0 480,368.2 492,367.5 504,367.0 516,367.0 528,368.1 540,369.3 552,370.4 564,371.2 576,371.7 588,372.0 600,372.3 612,372.8 624,373.4 636,374.2 648,374.8 660,374.5 672,373.8 684,373.0 696,371.9 708,371.0 720,370.3 732,369.7 744,369.5 756,369.4 768,369.2 780,368.8 792,368.2 804,367.3 816,366.4 828,365.7 840,365.2 852,364.9 864,364.5 876,364.0 888,363.3 900,362.2 912,360.9 924,359.7 936,360.0 948,360.6 960,361.5 972,362.4 984,363.4 996,364.2 1008,364.9 1020,365.0"/><polyline points="0,378.0 12,378.1 24,378.3 36,378.4 48,378.1 60,377.5 72,376.5 84,375.3 96,374.2 108,373.4 120,372.8 132,372.3 144,371.8 156,371.1 168,370.2 180,369.8 192,370.3 204,371.2 216,372.3 228,374.0 240,376.5 252,378.9 264,381.1 276,381.3 288,381.1 300,380.9 312,380.7 324,380.8 336,380.8 348,380.9 360,380.8 372,380.4 384,379.7 396,378.8 408,377.8 420,377.0 432,376.6 444,376.5 456,376.6 468,376.6 480,376.4 492,376.0 504,375.5 516,375.1 528,375.8 540,376.6 552,377.7 564,378.7 576,379.5 588,379.9 600,380.1 612,380.1 624,380.1 636,380.3 648,380.5 660,380.3 672,380.1 684,379.9 696,379.4 708,378.8 720,378.0 732,377.2 744,376.8 756,376.7 768,376.7 780,376.8 792,376.7 804,376.0 816,375.0 828,373.7 840,372.5 852,371.5 864,370.7 876,370.2 888,369.7 900,369.0 912,368.0 924,366.8 936,366.9 948,367.2 960,367.8 972,368.9 984,370.3 996,371.8 1008,373.2 1020,373.7"/><polyline points="0,386.2 12,385.6 24,385.2 36,385.0 48,384.8 60,384.4 72,383.7 84,382.6 96,381.3 108,380.0 120,379.0 132,378.3 144,378.0 156,377.8 168,377.6 180,377.9 192,378.9 204,379.7 216,380.6 228,381.9 240,384.0 252,386.4 264,388.7 276,389.2 288,389.2 300,388.8 312,388.2 324,387.6 336,387.0 348,386.7 360,386.6 372,386.6 384,386.5 396,386.2 408,385.5 420,384.8 432,384.1 444,383.8 456,383.8 468,384.1 480,384.4 492,384.5 504,384.3 516,383.8 528,384.0 540,384.2 552,384.5 564,385.1 576,385.7 588,386.4 600,386.9 612,387.2 624,387.2 636,387.2 648,387.1 660,386.6 672,386.5 684,386.7 696,386.9 708,387.0 720,386.7 732,386.1 744,385.3 756,384.7 768,384.2 780,384.0 792,383.8 804,383.4 816,382.6 828,381.4 840,379.9 852,378.4 864,377.0 876,376.1 888,375.5 900,375.1 912,374.8 924,374.3 936,374.8 948,375.3 960,375.9 972,376.6 984,377.8 996,379.3 1008,380.9 1020,381.9"/><polyline points="0,394.3 12,393.3 24,392.3 36,391.4 48,390.7 60,390.3 72,389.8 84,389.3 96,388.6 108,387.7 120,386.7 132,385.9 144,385.3 156,385.0 168,385.0 180,385.8 192,387.3 204,388.5 216,389.4 228,390.3 240,391.8 252,393.4 264,395.2 276,395.6 288,395.7 300,395.7 312,395.4 324,394.8 336,394.0 348,393.3 360,392.9 372,392.9 384,393.2 396,393.5 408,393.6 420,393.4 432,393.0 444,392.5 456,392.0 468,391.7 480,391.7 492,391.8 504,391.7 516,391.5 528,391.8 540,391.8 552,391.6 564,391.5 576,391.7 588,392.2 600,393.0 612,393.8 624,394.6 636,395.1 648,395.2 660,394.6 672,394.3 684,394.2 696,394.4 708,394.7 720,394.9 732,394.6 744,394.0 756,393.1 768,392.0 780,391.0 792,390.2 804,389.4 816,388.7 828,387.9 840,386.9 852,385.7 864,384.3 876,383.1 888,382.3 900,381.8 912,381.6 924,381.7 936,382.9 948,384.0 960,384.8 972,385.4 984,386.1 996,387.0 1008,388.1 1020,388.8"/><polyline points="0,401.2 12,400.5 24,399.5 36,398.4 48,397.4 60,396.6 72,396.1 84,395.9 96,395.8 108,395.7 120,395.3 132,394.7 144,394.0 156,393.3 168,392.8 180,393.2 192,394.7 204,396.1 216,397.2 228,398.2 240,399.6 252,400.7 264,401.9 276,401.6 288,401.5 300,401.7 312,401.9 324,402.0 336,401.8 348,401.4 360,401.0 372,400.7 384,400.7 396,401.0 408,401.3 420,401.6 432,401.6 444,401.2 456,400.6 468,399.7 480,398.9 492,398.3 504,397.9 516,397.7 528,398.3 540,398.7 552,398.9 564,398.8 576,398.8 588,399.0 600,399.6 612,400.6 624,401.8 636,403.0 648,403.8 660,403.6 672,403.2 684,402.7 696,402.3 708,402.0 720,401.9 732,401.7 744,401.3 756,400.6 768,399.6 780,398.3 792,397.0 804,395.7 816,394.7 828,393.9 840,393.4 852,392.9 864,392.2 876,391.5 888,390.8 900,390.0 912,389.5 924,389.3 936,390.5 948,391.8 960,393.0 972,393.8 984,394.5 996,394.9 1008,395.3 1020,395.3"/><polyline points="0,407.2 12,407.0 24,406.7 36,406.1 48,405.5 60,404.7 72,403.9 84,403.4 96,403.3 108,403.4 120,403.4 132,403.3 144,402.8 156,402.1 168,401.1 180,400.7 192,401.5 204,402.4 216,403.5 228,404.8 240,406.5 252,408.0 264,409.2 276,408.8 288,408.4 300,408.3 312,408.6 324,409.2 336,409.6 348,409.9 360,409.9 372,409.7 384,409.4 396,409.1 408,408.8 420,408.7 432,408.7 444,408.6 456,408.2 468,407.4 480,406.4 492,405.3 504,404.3 516,403.8 528,404.3 540,405.1 552,406.0 564,406.6 576,407.1 588,407.5 600,407.9 612,408.6 624,409.5 636,410.7 648,411.7 660,411.8 672,411.7 684,411.2 696,410.4 708,409.5 720,408.7 732,407.9 744,407.3 756,406.8 768,406.3 780,405.5 792,404.5 804,403.3 816,402.0 828,401.0 840,400.4 852,400.1 864,400.0 876,399.9 888,399.7 900,399.1 912,398.3 924,397.5 936,398.0 948,398.8 960,399.7 972,400.7 984,401.6 996,402.3 1008,402.7 1020,402.4"/><polyline points="0,413.8 12,413.6 24,413.7 36,413.9 48,413.9 60,413.6 72,413.0 84,412.2 96,411.5 108,411.1 120,410.8 132,410.6 144,410.3 156,409.8 168,408.9 180,408.3 192,408.6 204,408.9 216,409.6 228,410.8 240,412.8 252,414.9 264,416.9 276,417.0 288,416.8 300,416.6 312,416.6 324,416.9 336,417.3 348,417.8 360,418.2 372,418.3 384,418.0 396,417.5 408,416.5 420,415.7 432,415.1 444,414.7 456,414.4 468,414.1 480,413.5 492,412.8 504,411.9 516,411.1 528,411.4 540,412.1 552,413.2 564,414.3 576,415.5 588,416.4 600,417.0 612,417.5 624,417.9 636,418.4 648,418.8 660,418.7 672,418.7 684,418.4 696,417.9 708,417.0 720,415.9 732,414.6 744,413.6 756,413.0 768,412.6 780,412.5 792,412.2 804,411.6 816,410.7 828,409.8 840,408.8 852,408.1 864,407.6 876,407.6 888,407.5 900,407.2 912,406.6 924,405.6 936,405.6 948,405.8 960,406.1 972,406.7 984,407.7 996,408.8 1008,409.8 1020,410.0"/><polyline points="0,422.1 12,421.6 24,421.4 36,421.5 48,421.8 60,421.9 72,421.6 84,421.0 96,420.1 108,419.0 120,418.0 132,417.1 144,416.5 156,416.1 168,415.5 180,415.5 192,416.1 204,416.5 216,417.0 228,417.9 240,419.8 252,422.0 264,424.5 276,425.2 288,425.7 300,425.8 312,425.7 324,425.5 336,425.2 348,425.1 360,425.2 372,425.4 384,425.3 396,425.0 408,424.1 420,423.0 432,422.0 444,421.1 456,420.6 468,420.4 480,420.4 492,420.3 504,420.1 516,419.8 528,420.2 540,420.6 552,421.2 564,422.1 576,423.2 588,424.3 600,425.3 612,425.9 624,426.2 636,426.2 648,426.0 660,425.3 672,424.7 684,424.5 696,424.3 708,424.0 720,423.4 732,422.4 744,421.5 756,420.6 768,420.0 780,419.8 792,419.9 804,419.8 816,419.4 828,418.8 840,417.9 852,416.7 864,415.6 876,414.8 888,414.3 900,413.9 912,413.4 924,412.8 936,413.0 948,413.2 960,413.2 972,413.4 984,414.1 996,415.3 1008,416.7 1020,417.6"/><polyline points="0,431.3 12,430.8 24,430.2 36,429.6 48,429.3 60,429.1 72,428.8 84,428.4 96,427.7 108,426.7 120,425.4 132,424.1 144,423.0 156,422.2 168,421.8 180,422.2 192,423.5 204,424.6 216,425.6 228,426.6 240,428.3 252,430.2 264,432.3 276,433.0 288,433.6 300,434.1 312,434.2 324,434.0 336,433.3 348,432.5 360,431.9 372,431.6 384,431.4 396,431.4 408,431.0 420,430.5 432,429.8 444,428.9 456,428.2 468,427.8 480,427.7 492,427.9 504,428.2 516,428.4 528,429.2 540,429.7 552,430.0 564,430.2 576,430.6 588,431.2 600,432.0 612,432.8 624,433.4 636,433.7 648,433.5 660,432.5 672,431.6 684,431.0 696,430.7 708,430.8 720,430.8 732,430.6 744,430.2 756,429.6 768,428.9 780,428.2 792,427.8 804,427.4 816,427.1 828,426.6 840,425.9 852,424.9 864,423.5 876,422.2 888,421.0 900,420.1 912,419.4 924,419.0 936,419.8 948,420.6 960,421.2 972,421.7 984,422.3 996,423.1 1008,424.3 1020,425.2"/><polyline points="0,439.7 12,439.4 24,438.8 36,437.9 48,436.9 60,436.0 72,435.1 84,434.6 96,434.1 108,433.6 120,432.8 132,431.9 144,430.8 156,429.9 168,429.2 180,429.5 192,431.0 204,432.6 216,434.2 228,435.7 240,437.5 252,439.1 264,440.7 276,440.7 288,440.7 300,440.9 312,441.2 324,441.2 336,440.8 348,440.1 360,439.2 372,438.5 384,438.0 396,437.8 408,437.7 420,437.8 432,437.8 444,437.6 456,437.2 468,436.7 480,436.2 492,436.0 504,435.9 516,436.1 528,437.1 540,437.9 552,438.3 564,438.4 576,438.2 588,438.2 600,438.4 612,438.9 624,439.6 636,440.4 648,440.8 660,440.4 672,439.7 684,439.1 696,438.6 708,438.4 720,438.5 732,438.6 744,438.6 756,438.5 768,438.0 780,437.2 792,436.2 804,435.0 816,434.0 828,433.2 840,432.5 852,431.7 864,430.7 876,429.7 888,428.5 900,427.4 912,426.4 924,425.8 936,426.7 948,428.0 960,429.3 972,430.4 984,431.4 996,432.3 1008,433.1 1020,433.5"/><polyline points="0,446.7 12,446.5 24,446.1 36,445.5 48,444.6 60,443.4 72,442.1 84,441.1 96,440.5 108,440.2 120,440.0 132,439.8 144,439.4 156,438.8 168,438.1 180,438.1 192,439.1 204,440.5 216,442.0 228,443.7 240,445.8 252,447.5 264,449.0 276,448.5 288,447.9 300,447.5 312,447.3 324,447.4 336,447.4 348,447.3 360,447.0 372,446.6 384,446.1 396,445.7 408,445.4 420,445.4 432,445.7 444,446.0 456,446.1 468,445.8 480,445.3 492,444.6 504,443.8 516,443.3 528,443.9 540,444.5 552,445.2 564,445.6 576,445.7 588,445.7 600,445.7 612,445.8 624,446.3 636,447.2 648,448.1 660,448.3 672,448.4 684,448.2 696,447.8 708,447.3 720,446.8 732,446.4 744,446.2 756,446.0 768,445.7 780,445.1 792,444.2 804,442.8 816,441.2 828,439.8 840,438.7 852,437.9 864,437.3 876,436.9 888,436.4 900,435.7 912,434.9 924,434.1 936,434.8 948,435.8 960,437.1 972,438.5 984,440.0 996,441.2 1008,442.0 1020,442.0"/><polyline points="0,453.3 12,452.7 24,452.3 36,452.1 48,451.7 60,451.1 72,450.2 84,449.2 96,448.4 108,447.8 120,447.6 132,447.6 144,447.7 156,447.7 168,447.3 180,447.3 192,447.9 204,448.6 216,449.3 228,450.5 240,452.5 252,454.5 264,456.2 276,456.0 288,455.5 300,454.8 312,454.3 324,454.1 336,454.2 348,454.5 360,454.8 372,455.1 384,455.1 396,454.9 408,454.4 420,453.9 432,453.7 444,453.6 456,453.7 468,453.7 480,453.4 492,452.7 504,451.7 516,450.7 528,450.6 540,450.8 552,451.3 564,452.1 576,452.8 588,453.5 600,454.0 612,454.4 624,454.7 636,455.3 648,455.9 660,456.2 672,456.5 684,456.8 696,456.7 708,456.3 720,455.6 732,454.5 744,453.5 756,452.7 768,452.1 780,451.7 792,451.1 804,450.2 816,448.9 828,447.5 840,446.2 852,445.1 864,444.4 876,444.2 888,444.2 900,444.2 912,444.0 924,443.5 936,444.0 948,444.5 960,445.2 972,446.0 984,447.2 996,448.5 1008,449.6 1020,449.8"/><polyline points="0,460.8 12,459.8 24,459.1 36,458.8 48,458.7 60,458.7 72,458.6 84,458.2 96,457.6 108,456.9 120,456.2 132,455.8 144,455.5 156,455.4 168,455.2 180,455.4 192,456.2 204,456.6 216,456.9 228,457.5 240,458.9 252,460.7 264,462.6 276,463.0 288,463.1 300,463.0 312,462.8 324,462.5 336,462.3 348,462.3 360,462.7 372,463.2 384,463.7 396,463.9 408,463.5 420,462.8 432,462.0 444,461.2 456,460.6 468,460.2 480,459.9 492,459.6 504,459.1 516,458.4 528,458.3 540,458.3 552,458.5 564,459.1 576,460.0 588,461.2 600,462.4 612,463.4 624,464.1 636,464.6 648,464.8 660,464.4 672,464.2 684,464.2 696,464.2 708,464.0 720,463.4 732,462.4 744,461.1 756,459.8 768,458.7 780,458.0 792,457.5 804,457.1 816,456.6 828,455.8 840,454.9 852,453.9 864,452.9 876,452.4 888,452.2 900,452.2 912,452.2 924,452.0 936,452.8 948,453.2 960,453.4 972,453.6 984,454.1 996,454.9 1008,455.9 1020,456.4"/><polyline points="0,468.9 12,468.2 24,467.5 36,466.9 48,466.6 60,466.6 72,466.7 84,466.7 96,466.6 108,466.1 120,465.3 132,464.3 144,463.3 156,462.5 168,461.9 180,462.1 192,463.1 204,464.0 216,464.6 228,465.2 240,466.4 252,467.9 264,469.6 276,470.1 288,470.7 300,471.3 312,471.7 324,471.9 336,471.7 348,471.3 360,471.1 372,471.1 384,471.2 396,471.4 408,471.2 420,470.8 432,470.0 444,468.9 456,467.9 468,466.9 480,466.3 492,466.0 504,465.9 516,465.9 528,466.6 540,467.0 552,467.4 564,467.7 576,468.3 588,469.2 600,470.4 612,471.6 624,472.7 636,473.5 648,473.6 660,472.8 672,472.0 684,471.2 696,470.7 708,470.4 720,470.0 732,469.5 744,468.7 756,467.7 768,466.7 780,465.7 792,465.0 804,464.5 816,464.2 828,464.0 840,463.8 852,463.2 864,462.4 876,461.5 888,460.7 900,460.0 912,459.5 924,459.1 936,460.0 948,460.7 960,461.1 972,461.3 984,461.5 996,461.9 1008,462.5 1020,462.9"/><polyline points="0,477.0 12,477.0 24,476.8 36,476.3 48,475.7 60,475.2 72,474.7 84,474.4 96,474.2 108,473.9 120,473.3 132,472.4 144,471.2 156,469.9 168,468.7 180,468.5 192,469.5 204,470.7 216,472.0 228,473.3 240,475.0 252,476.7 264,478.3 276,478.4 288,478.7 300,479.3 312,480.0 324,480.5 336,480.6 348,480.3 360,479.7 372,479.1 384,478.5 396,478.1 408,477.7 420,477.4 432,477.1 444,476.5 456,475.7 468,474.8 480,474.0 492,473.5 504,473.3 516,473.5 528,474.7 540,475.8 552,476.6 564,477.2 576,477.5 588,477.9 600,478.4 612,479.1 624,479.9 636,480.8 648,481.2 660,480.6 672,479.8 684,478.7 696,477.8 708,477.0 720,476.6 732,476.3 744,476.1 756,475.9 768,475.4 780,474.8 792,474.1 804,473.2 816,472.5 828,472.1 840,471.8 852,471.4 864,470.9 876,470.2 888,469.2 900,468.0 912,466.8 924,465.8 936,466.3 948,467.1 960,468.0 972,468.8 984,469.5 996,470.1 1008,470.7 1020,470.9"/><polyline points="0,485.1 12,485.3 24,485.4 36,485.3 48,484.8 60,484.0 72,482.9 84,481.9 96,481.1 108,480.5 120,480.0 132,479.5 144,478.7 156,477.7 168,476.6 180,476.2 192,476.9 204,478.0 216,479.5 228,481.3 240,483.7 252,485.9 264,487.8 276,487.8 288,487.6 300,487.5 312,487.6 324,487.9 336,488.0 348,488.0 360,487.6 372,487.0 384,486.1 396,485.3 408,484.4 420,483.9 432,483.8 444,483.7 456,483.7 468,483.5 480,483.1 492,482.5 504,482.0 516,481.8 528,482.7 540,483.8 552,484.9 564,485.8 576,486.3 588,486.5 600,486.5 612,486.5 624,486.7 636,487.2 648,487.6 660,487.4 672,487.1 684,486.6 696,486.0 708,485.2 720,484.5 732,484.0 744,483.8 756,483.9 768,484.0 780,483.9 792,483.5 804,482.6 816,481.4 828,480.3 840,479.3 852,478.5 864,477.8 876,477.3 888,476.7 900,475.7 912,474.5 924,473.3 936,473.4 948,474.0 960,474.9 972,476.1 984,477.5 996,478.8 1008,479.9 1020,480.3"/><polyline points="0,493.4 12,493.1 24,492.9 36,492.8 48,492.6 60,492.0 72,490.9 84,489.6 96,488.4 108,487.3 120,486.5 132,486.1 144,485.8 156,485.6 168,485.2 180,485.2 192,486.0 204,486.9 216,487.9 228,489.4 240,491.8 252,494.2 264,496.4 276,496.7 288,496.4 300,495.9 312,495.3 324,494.9 336,494.5 348,494.4 360,494.4 372,494.3 384,493.9 396,493.4 408,492.6 420,491.9 432,491.5 444,491.4 456,491.7 468,492.0 480,492.1 492,492.0 504,491.5 516,490.9 528,491.2 540,491.6 552,492.1 564,492.9 576,493.5 588,494.1 600,494.3 612,494.3 624,494.3 636,494.3 648,494.5 660,494.3 672,494.3 684,494.5 696,494.6 708,494.4 720,493.9 732,493.2 744,492.6 756,492.1 768,491.9 780,491.8 792,491.6 804,491.0 816,489.9 828,488.5 840,487.0 852,485.6 864,484.4 876,483.7 888,483.3 900,482.9 912,482.4 924,481.6 936,482.0 948,482.4 960,483.1 972,484.1 984,485.5 996,487.1 1008,488.7 1020,489.5"/><polyline points="0,502.0 12,501.0 24,500.1 36,499.5 48,499.1 60,498.7 72,498.2 84,497.4 96,496.5 108,495.4 120,494.5 132,493.8 144,493.5 156,493.5 168,493.5 180,494.2 192,495.5 204,496.4 216,497.2 228,498.1 240,499.7 252,501.6 264,503.6 276,504.0 288,504.0 300,503.7 312,503.2 324,502.5 336,501.8 348,501.3 360,501.2 372,501.3 384,501.7 396,501.9 408,501.7 420,501.2 432,500.7 444,500.3 456,500.0 468,500.0 480,500.1 492,500.2 504,500.0 516,499.6 528,499.6 540,499.5 552,499.4 564,499.5 576,499.9 588,500.6 600,501.4 612,502.1 624,502.6 636,502.9 648,502.9 660,502.5 672,502.3 684,502.5 696,502.8 708,503.2 720,503.1 732,502.6 744,501.8 756,500.8 768,499.8 780,499.1 792,498.5 804,497.9 816,497.1 828,496.1 840,494.8 852,493.4 864,492.0 876,491.0 888,490.4 900,490.1 912,490.1 924,490.1 936,491.1 948,491.9 960,492.6 972,493.2 984,494.0 996,495.1 1008,496.4 1020,497.2"/><polyline points="0,509.9 12,509.0 24,507.8 36,506.8 48,506.0 60,505.4 72,505.1 84,505.0 96,504.8 108,504.4 120,503.8 132,503.1 144,502.4 156,501.9 168,501.7 180,502.3 192,503.8 204,505.0 216,505.9 228,506.7 240,507.8 252,509.0 264,510.4 276,510.5 288,510.6 300,510.7 312,510.8 324,510.7 336,510.2 348,509.7 360,509.4 372,509.3 384,509.6 396,510.1 408,510.4 420,510.5 432,510.2 444,509.6 456,508.9 468,508.2 480,507.6 492,507.2 504,507.0 516,506.8 528,507.2 540,507.3 552,507.2 564,507.1 576,507.2 588,507.7 600,508.6 612,509.7 624,510.9 636,511.9 648,512.4 660,512.0 672,511.5 684,511.2 696,511.0 708,511.0 720,511.0 732,510.7 744,510.1 756,509.1 768,507.9 780,506.6 792,505.4 804,504.4 816,503.6 828,503.0 840,502.4 852,501.7 864,500.7 876,499.9 888,499.1 900,498.6 912,498.3 924,498.3 936,499.6 948,500.8 960,501.8 972,502.3 984,502.8 996,503.3 1008,503.8 1020,504.1"/><polyline points="0,516.9 12,516.5 24,515.9 36,515.2 48,514.4 60,513.7 72,513.1 84,512.9 96,513.0 108,513.1 120,513.0 132,512.6 144,511.9 156,511.0 168,510.1 180,509.9 192,510.9 204,512.1 216,513.2 228,514.3 240,515.7 252,516.9 264,518.1 276,517.8 288,517.6 300,517.8 312,518.3 324,518.9 336,519.1 348,519.2 360,518.9 372,518.6 384,518.4 396,518.4 408,518.4 420,518.4 432,518.4 444,518.0 456,517.3 468,516.4 480,515.3 492,514.3 504,513.6 516,513.3 528,514.0 540,514.8 552,515.4 564,515.8 576,516.1 588,516.4 600,517.0 612,517.9 624,519.1 636,520.4 648,521.3 660,521.3 672,520.8 684,520.1 696,519.3 708,518.6 720,518.0 732,517.4 744,516.9 756,516.4 768,515.6 780,514.6 792,513.5 804,512.2 816,511.1 828,510.4 840,510.1 852,509.9 864,509.6 876,509.3 888,508.8 900,508.0 912,507.3 924,506.6 936,507.4 948,508.4 960,509.4 972,510.2 984,510.9 996,511.3 1008,511.6 1020,511.3"/><polyline points="0,523.9 12,523.9 24,524.0 36,524.0 48,523.7 60,523.2 72,522.5 84,521.8 96,521.4 108,521.2 120,521.0 132,520.8 144,520.4 156,519.6 168,518.4 180,517.8 192,518.2 204,518.8 216,519.7 228,521.0 240,523.1 252,525.0 264,526.7 276,526.6 288,526.3 300,526.3 312,526.5 324,527.1 336,527.6 348,528.0 360,528.2 372,528.1 384,527.6 396,527.0 408,526.2 420,525.6 432,525.2 444,524.9 456,524.6 468,524.1 480,523.3 492,522.3 504,521.4 516,520.8 528,521.4 540,522.3 552,523.5 564,524.6 576,525.5 588,526.1 600,526.6 612,527.0 624,527.6 636,528.3 648,529.0 660,529.0 672,528.8 684,528.3 696,527.5 708,526.5 720,525.4 732,524.3 744,523.6 756,523.2 768,522.9 780,522.6 792,522.2 804,521.3 816,520.3 828,519.3 840,518.6 852,518.1 864,517.9 876,517.9 888,517.7 900,517.1 912,516.2 924,515.1 936,515.2 948,515.5 960,516.1 972,516.9 984,517.9 996,518.9 1008,519.6 1020,519.6"/><polyline points="0,532.4 12,532.1 24,532.2 36,532.4 48,532.6 60,532.5 72,532.0 84,531.2 96,530.2 108,529.2 120,528.4 132,527.8 144,527.3 156,526.8 168,526.1 180,525.8 192,526.2 204,526.6 216,527.2 228,528.4 240,530.5 252,532.9 264,535.3 276,535.9 288,536.0 300,535.9 312,535.8 324,535.7 336,535.7 348,535.9 360,536.1 372,536.1 384,535.9 396,535.3 408,534.2 420,533.1 432,532.2 444,531.6 456,531.3 468,531.2 480,531.1 492,530.9 504,530.4 516,529.9 528,530.3 540,530.9 552,531.8 564,532.9 576,534.0 588,535.1 600,535.8 612,536.2 624,536.3 636,536.4 648,536.3 660,535.8 672,535.5 684,535.3 696,535.0 708,534.5 720,533.6 732,532.5 744,531.6 756,531.0 768,530.7 780,530.7 792,530.7 804,530.5 816,529.9 828,529.1 840,528.0 852,526.9 864,525.9 876,525.4 888,525.1 900,524.7 912,524.1 924,523.2 936,523.2 948,523.2 960,523.4 972,523.8 984,524.8 996,526.1 1008,527.5 1020,528.3"/><polyline points="0,542.1 12,541.5 24,541.0 36,540.7 48,540.6 60,540.5 72,540.2 84,539.6 96,538.6 108,537.4 120,536.1 132,534.9 144,534.1 156,533.5 168,533.2 180,533.5 192,534.6 204,535.5 216,536.3 228,537.3 240,539.2 252,541.3 264,543.7 276,544.5 288,545.0 300,545.2 312,545.1 324,544.6 336,544.0 348,543.4 360,543.0 372,542.9 384,542.8 396,542.7 408,542.1 420,541.3 432,540.4 444,539.6 456,539.1 468,538.9 480,539.1 492,539.4 504,539.6 516,539.6 528,540.1 540,540.4 552,540.7 564,541.2 576,541.8 588,542.6 600,543.4 612,544.1 624,544.4 636,544.5 648,544.1 660,543.2 672,542.5 684,542.2 696,542.1 708,542.2 720,542.1 732,541.7 744,541.0 756,540.3 768,539.7 780,539.2 792,539.0 804,538.8 816,538.5 828,537.9 840,536.9 852,535.6 864,534.2 876,533.0 888,532.0 900,531.3 912,530.8 924,530.4 936,531.0 948,531.6 960,532.0 972,532.3 984,533.1 996,534.2 1008,535.6 1020,536.7"/><polyline points="0,551.4 12,550.9 24,550.1 36,549.1 48,548.3 60,547.6 72,547.0 84,546.5 96,546.0 108,545.2 120,544.2 132,543.1 144,542.1 156,541.3 168,540.8 180,541.4 192,543.0 204,544.6 216,545.9 228,547.1 240,548.8 252,550.4 264,552.1 276,552.4 288,552.6 300,552.9 312,553.0 324,552.8 336,552.2 348,551.3 360,550.5 372,549.9 384,549.7 396,549.7 408,549.7 420,549.7 432,549.5 444,549.0 456,548.5 468,548.0 480,547.7 492,547.7 504,547.9 516,548.2 528,549.0 540,549.5 552,549.6 564,549.6 576,549.5 588,549.6 600,550.1 612,550.8 624,551.6 636,552.2 648,552.4 660,551.7 672,551.0 684,550.4 696,550.2 708,550.3 720,550.5 732,550.6 744,550.5 756,550.0 768,549.3 780,548.4 792,547.5 804,546.6 816,545.8 828,545.1 840,544.4 852,543.5 864,542.2 876,541.0 888,539.8 900,538.7 912,538.0 924,537.6 936,538.7 948,539.9 960,541.1 972,541.9 984,542.7 996,543.6 1008,544.5 1020,545.1"/></g>
<g stroke="#4068b8" stroke-opacity="0.12" stroke-width="0.8"><line x1="-13" y1="176.0" x2="-1013" y2="538"/><line x1="0" y1="176.0" x2="-975" y2="538"/><line x1="13" y1="175.5" x2="-937" y2="538"/><line x1="26" y1="175.1" x2="-899" y2="538"/><line x1="39" y1="174.6" x2="-861" y2="538"/><line x1="52" y1="174.1" x2="-823" y2="538"/><line x1="65" y1="173.5" x2="-785" y2="538"/><line x1="78" y1="172.8" x2="-747" y2="538"/><line x1="91" y1="172.2" x2="-709" y2="538"/><line x1="104" y1="171.6" x2="-671" y2="538"/><line x1="117" y1="170.9" x2="-633" y2="538"/><line x1="130" y1="170.2" x2="-595" y2="538"/><line x1="143" y1="169.6" x2="-557" y2="538"/><line x1="156" y1="168.9" x2="-519" y2="538"/><line x1="169" y1="168.3" x2="-481" y2="538"/><line x1="182" y1="168.6" x2="-443" y2="538"/><line x1="195" y1="169.6" x2="-405" y2="538"/><line x1="208" y1="170.6" x2="-367" y2="538"/><line x1="221" y1="171.7" x2="-329" y2="538"/><line x1="234" y1="173.3" x2="-291" y2="538"/><line x1="247" y1="175.3" x2="-253" y2="538"/><line x1="260" y1="177.2" x2="-215" y2="538"/><line x1="273" y1="178.0" x2="-177" y2="538"/><line x1="286" y1="178.0" x2="-139" y2="538"/><line x1="299" y1="178.0" x2="-101" y2="538"/><line x1="312" y1="178.0" x2="-63" y2="538"/><line x1="325" y1="178.0" x2="-25" y2="538"/><line x1="338" y1="177.8" x2="13" y2="538"/><line x1="351" y1="177.6" x2="51" y2="538"/><line x1="364" y1="177.4" x2="89" y2="538"/><line x1="377" y1="177.3" x2="127" y2="538"/><line x1="390" y1="177.1" x2="165" y2="538"/><line x1="403" y1="176.7" x2="203" y2="538"/><line x1="416" y1="176.3" x2="241" y2="538"/><line x1="429" y1="175.9" x2="279" y2="538"/><line x1="442" y1="175.4" x2="317" y2="538"/><line x1="455" y1="175.0" x2="355" y2="538"/><line x1="468" y1="174.6" x2="393" y2="538"/><line x1="481" y1="174.1" x2="431" y2="538"/><line x1="494" y1="173.7" x2="469" y2="538"/><line x1="507" y1="173.3" x2="507" y2="538"/><line x1="520" y1="173.2" x2="545" y2="538"/><line x1="533" y1="173.8" x2="583" y2="538"/><line x1="546" y1="174.3" x2="621" y2="538"/><line x1="559" y1="174.9" x2="659" y2="538"/><line x1="572" y1="175.4" x2="697" y2="538"/><line x1="585" y1="176.0" x2="735" y2="538"/><line x1="598" y1="176.7" x2="773" y2="538"/><line x1="611" y1="177.3" x2="811" y2="538"/><line x1="624" y1="177.9" x2="849" y2="538"/><line x1="637" y1="178.6" x2="887" y2="538"/><line x1="650" y1="178.9" x2="925" y2="538"/><line x1="663" y1="178.5" x2="963" y2="538"/><line x1="676" y1="178.1" x2="1001" y2="538"/><line x1="689" y1="177.7" x2="1039" y2="538"/><line x1="702" y1="177.4" x2="1077" y2="538"/><line x1="715" y1="177.0" x2="1115" y2="538"/><line x1="728" y1="176.3" x2="1153" y2="538"/><line x1="741" y1="175.7" x2="1191" y2="538"/><line x1="754" y1="175.1" x2="1229" y2="538"/><line x1="767" y1="174.4" x2="1267" y2="538"/><line x1="780" y1="173.8" x2="1305" y2="538"/><line x1="793" y1="173.1" x2="1343" y2="538"/><line x1="806" y1="172.2" x2="1381" y2="538"/><line x1="819" y1="171.3" x2="1419" y2="538"/><line x1="832" y1="170.4" x2="1457" y2="538"/><line x1="845" y1="169.4" x2="1495" y2="538"/><line x1="858" y1="168.5" x2="1533" y2="538"/><line x1="871" y1="167.7" x2="1571" y2="538"/><line x1="884" y1="167.1" x2="1609" y2="538"/><line x1="897" y1="166.4" x2="1647" y2="538"/><line x1="910" y1="165.8" x2="1685" y2="538"/><line x1="923" y1="165.1" x2="1723" y2="538"/><line x1="936" y1="165.7" x2="1761" y2="538"/><line x1="949" y1="166.4" x2="1799" y2="538"/><line x1="962" y1="167.2" x2="1837" y2="538"/><line x1="975" y1="168.0" x2="1875" y2="538"/><line x1="988" y1="169.0" x2="1913" y2="538"/><line x1="1001" y1="170.1" x2="1951" y2="538"/><line x1="1014" y1="171.0" x2="1989" y2="538"/><line x1="1027" y1="171.0" x2="2027" y2="538"/></g>
<rect x="0" y="537" width="1013" height="1" fill="#0d1432"/>
<rect x="0" y="0" width="1" height="538" fill="#0d1432"/>
</svg></div>
<div class="panel" id="p2"><svg class="bg" id="bg2" width="1013" height="537" viewBox="0 0 1013 537">
<defs>
<radialGradient id="g2" gradientUnits="userSpaceOnUse" cx="560" cy="200" r="520" gradientTransform="translate(560 200) scale(1 0.85) translate(-560 -200)">
<stop offset="0" stop-color="#163a78"/>
<stop offset="0.45" stop-color="#18326b"/>
<stop offset="0.8" stop-color="#1a2b5c"/>
<stop offset="1" stop-color="#1b2856"/>
</radialGradient>
</defs>
<rect width="1013" height="537" fill="url(#g2)"/>
<g stroke="#2d57a6" stroke-opacity="0.12" stroke-width="1"><line x1="340" y1="0" x2="340" y2="537"/><line x1="450" y1="0" x2="450" y2="537"/><line x1="540" y1="0" x2="540" y2="537"/><line x1="635" y1="0" x2="635" y2="537"/><line x1="725" y1="0" x2="725" y2="537"/><line x1="817" y1="0" x2="817" y2="537"/><line x1="912" y1="0" x2="912" y2="537"/><line x1="0" y1="45" x2="1013" y2="45"/><line x1="0" y1="104" x2="1013" y2="104"/><line x1="0" y1="211" x2="1013" y2="211"/><line x1="0" y1="311" x2="1013" y2="311"/><line x1="0" y1="405" x2="1013" y2="405"/><line x1="0" y1="473" x2="1013" y2="473"/></g>
<filter id="bl2"><feGaussianBlur stdDeviation="0.45"/></filter>
<filter id="bl3" x="-10%" y="-10%" width="120%" height="120%"><feGaussianBlur stdDeviation="6"/></filter>
<g fill="#3f78d0" fill-opacity="0.10" filter="url(#bl3)"><polygon points="315.0,179.0 355.0,163.0 415.0,159.0 465.0,169.0 495.0,191.0 492.0,231.0 467.0,261.0 440.0,289.0 420.0,311.0 400.0,303.0 380.0,273.0 347.0,243.0 321.0,213.0"/><polygon points="447.0,161.0 495.0,153.0 527.0,162.0 517.0,191.0 487.0,201.0 457.0,187.0"/><polygon points="447.0,313.0 487.0,317.0 535.0,337.0 555.0,367.0 541.0,406.0 517.0,441.0 497.0,467.0 482.0,451.0 477.0,407.0 457.0,363.0 444.0,333.0"/><polygon points="583.0,179.0 635.0,163.0 687.0,167.0 697.0,201.0 677.0,231.0 635.0,237.0 597.0,227.0 581.0,203.0"/><polygon points="595.0,243.0 655.0,237.0 707.0,247.0 737.0,281.0 757.0,313.0 741.0,361.0 717.0,411.0 687.0,425.0 667.0,393.0 647.0,346.0 620.0,336.0 591.0,316.0 587.0,281.0"/><polygon points="687.0,173.0 755.0,158.0 845.0,153.0 945.0,163.0 1007.0,183.0 1007.0,233.0 987.0,273.0 947.0,303.0 917.0,333.0 877.0,337.0 837.0,313.0 797.0,293.0 757.0,273.0 717.0,243.0 697.0,213.0"/><polygon points="900.0,383.0 955.0,375.0 993.0,391.0 987.0,423.0 947.0,433.0 907.0,419.0"/></g>
<g filter="url(#bl2)"><g stroke="#6a9ae8" stroke-linecap="round" fill="none"><path d="M479.2 323.4h0M442.1 169.1h0M822.8 233.9h0M830.5 298.7h0M1003.5 202.2h0M873.5 164.5h0M928.5 282.5h0M657.4 232.6h0M670.6 281.9h0M891.0 334.6h0M899.9 176.8h0M845.4 272.0h0M610.5 322.2h0M681.4 284.7h0M719.8 267.9h0M644.1 215.8h0M874.7 157.1h0M519.1 381.3h0M381.3 270.4h0M412.6 232.3h0M874.0 307.5h0M653.3 344.3h0M481.2 186.8h0M440.5 190.1h0M831.5 289.8h0M993.2 236.5h0M687.1 296.5h0M385.3 205.9h0M455.1 268.0h0M720.4 213.7h0M962.9 426.5h0M802.4 219.8h0M436.9 258.5h0M520.4 335.4h0M692.2 263.9h0M644.2 276.2h0M763.1 208.2h0M451.3 197.5h0M373.2 244.4h0M871.6 189.4h0M960.9 266.9h0M630.7 300.0h0M378.6 234.4h0M670.9 316.4h0M382.2 221.2h0M662.0 231.1h0M389.5 254.2h0M664.9 200.0h0M925.3 300.7h0M431.9 257.9h0M594.1 309.5h0M855.6 214.7h0M500.4 343.0h0M781.2 216.9h0M900.2 274.1h0M639.5 259.4h0M412.0 261.1h0M699.5 213.0h0M872.6 181.7h0M948.7 165.8h0M652.5 300.5h0M797.1 288.5h0M713.2 334.7h0M969.0 251.8h0M1005.6 213.6h0M721.4 204.5h0M714.1 373.5h0M467.4 160.6h0M823.7 195.3h0M393.0 211.0h0M967.2 287.3h0M899.3 185.6h0M637.4 204.6h0M948.6 383.0h0M711.0 370.2h0M361.4 250.7h0M679.5 248.2h0M596.4 319.0h0M968.4 228.3h0M753.0 224.3h0M963.8 192.4h0M388.7 192.3h0M899.1 236.7h0M868.7 297.9h0M453.7 256.6h0M354.1 217.1h0M344.2 217.8h0M700.8 415.3h0M786.4 165.9h0M838.7 163.1h0M608.8 250.6h0M502.2 397.6h0M722.6 360.8h0M488.5 166.2h0M949.6 280.8h0M668.9 243.5h0M648.6 197.2h0M970.4 272.7h0M709.7 397.8h0M982.3 223.5h0M898.5 165.2h0M432.0 195.3h0M644.9 241.7h0M919.8 310.4h0M933.8 392.9h0M864.6 257.2h0M473.2 195.5h0M767.6 233.1h0M659.2 370.0h0M452.5 196.9h0M600.1 320.8h0M722.7 305.2h0M497.1 364.0h0M612.8 188.9h0M882.6 297.0h0M391.0 265.4h0M927.2 241.6h0M894.8 263.5h0M657.0 322.9h0M498.1 423.6h0M402.6 262.7h0M869.5 231.5h0M798.6 270.7h0M487.5 412.2h0M818.1 174.8h0M634.3 331.4h0M950.4 285.5h0M321.1 187.4h0M915.7 263.6h0M992.0 262.6h0M962.3 262.2h0M613.9 307.6h0M681.1 406.7h0M404.1 239.2h0M879.7 213.9h0M423.8 161.0h0M669.3 360.9h0M942.9 275.2h0M824.6 194.8h0M699.0 358.5h0M732.4 170.0h0M786.1 280.5h0M1005.2 209.2h0M397.2 278.2h0M622.9 333.2h0M979.1 247.3h0M358.5 224.4h0M738.9 215.6h0M426.3 262.6h0M736.1 291.3h0M982.7 222.2h0M906.7 203.7h0M402.7 222.9h0M780.9 261.9h0M512.1 439.1h0M864.7 299.1h0M709.3 192.2h0M904.2 190.7h0M534.5 360.9h0M725.9 316.1h0M795.1 222.9h0M467.8 226.5h0M376.0 250.3h0M390.1 211.7h0M527.5 335.4h0M729.5 357.8h0M907.4 209.5h0M383.3 258.1h0M994.2 202.3h0M874.2 214.9h0M897.1 297.8h0M636.7 169.1h0M897.1 173.6h0M876.6 179.8h0M827.0 227.4h0M622.4 232.1h0M900.8 327.9h0M511.7 438.2h0M449.8 231.0h0M904.5 178.7h0M769.2 253.6h0M731.2 247.8h0M974.7 425.4h0M531.2 363.3h0M808.1 156.5h0M841.0 268.9h0M722.7 292.1h0M507.7 447.6h0M471.6 241.4h0M958.0 188.3h0M804.9 231.5h0M717.5 382.1h0M471.8 200.2h0M624.0 318.3h0M917.6 395.3h0M495.0 376.7h0M419.6 226.3h0M503.6 389.2h0M673.3 172.4h0M718.1 239.8h0M609.6 319.9h0M825.4 154.3h0M910.1 295.3h0M511.1 172.4h0M440.2 208.4h0M499.2 346.9h0M349.5 209.9h0M809.2 202.4h0M784.6 276.0h0M426.0 263.5h0M494.1 173.3h0M740.8 188.1h0M432.4 215.0h0M384.3 253.9h0M948.5 427.6h0M655.9 169.9h0M597.4 303.9h0M408.5 194.9h0M860.3 183.8h0M683.6 190.9h0M639.3 229.8h0M631.8 285.9h0M629.3 313.2h0M395.9 248.2h0M683.2 378.2h0M888.1 244.2h0M853.1 165.3h0M730.8 221.2h0M899.8 253.0h0M516.5 339.4h0M780.4 187.4h0M917.5 256.1h0M419.6 244.5h0M450.2 226.7h0M396.9 264.5h0M838.5 209.0h0M590.9 310.8h0M930.3 297.6h0M812.5 169.2h0M860.5 281.7h0M836.4 162.5h0M951.7 219.5h0M836.6 184.5h0M729.6 334.1h0M980.8 195.3h0M415.7 172.5h0M854.2 180.8h0M460.1 236.7h0M901.6 189.1h0M393.2 278.4h0M669.8 198.3h0M973.8 266.0h0M652.2 184.4h0M592.1 216.8h0M685.4 209.3h0M816.0 166.6h0M408.9 291.7h0M818.3 241.6h0M868.2 256.5h0M598.8 265.5h0M481.9 221.2h0M985.5 211.7h0M473.6 387.3h0M837.2 236.3h0M809.7 170.2h0M439.4 168.4h0M428.7 221.4h0M886.7 209.5h0M659.1 372.7h0M659.6 196.5h0M658.9 254.1h0M941.6 222.0h0M906.3 197.2h0M698.5 419.5h0M917.9 394.6h0M835.3 164.2h0M738.6 184.1h0M510.6 440.4h0M712.5 199.1h0M605.8 309.8h0M590.3 207.1h0" stroke-width="1.5" stroke-opacity="0.25"/><path d="M983.3 187.3h0M690.7 306.9h0M361.0 217.8h0M992.1 240.6h0M594.5 254.2h0M369.0 230.8h0M636.7 294.6h0M763.1 233.3h0M484.7 173.1h0M523.2 371.3h0M365.5 203.1h0M516.5 176.5h0M853.5 180.2h0M879.8 272.1h0M603.6 259.8h0M740.7 359.3h0M493.0 216.3h0M459.0 347.7h0M512.0 170.0h0M398.6 293.1h0M498.0 392.6h0M981.9 224.0h0M634.9 191.9h0M639.8 327.1h0M485.8 170.5h0M913.5 210.2h0M821.6 295.7h0M645.0 336.4h0M716.2 258.0h0M349.2 185.2h0M613.7 224.9h0M951.1 210.2h0M902.9 313.4h0M845.2 195.6h0M481.2 166.1h0M595.2 182.6h0M896.5 256.4h0M411.0 203.5h0M700.1 294.8h0M698.3 350.0h0M620.3 224.8h0M990.9 205.0h0M916.1 222.2h0M937.7 232.1h0M714.6 380.5h0M749.1 177.6h0M492.2 342.1h0M496.0 159.4h0M598.2 184.6h0M428.9 260.4h0M490.5 217.1h0M514.6 358.6h0M463.0 218.8h0M864.4 186.3h0M863.6 221.7h0M890.5 274.1h0M926.0 404.9h0M867.7 296.7h0M909.6 181.0h0M617.0 183.0h0M988.8 190.8h0M969.4 274.6h0M909.8 388.4h0M488.0 329.9h0M662.7 184.0h0M873.8 168.0h0M641.7 284.1h0M757.7 230.7h0M816.3 267.5h0M634.5 329.5h0M601.8 244.8h0M848.9 219.3h0M674.5 296.4h0M745.7 189.2h0M325.3 201.7h0M495.5 385.4h0M389.0 191.1h0M623.6 300.2h0M669.5 186.1h0M646.0 165.5h0M440.3 182.5h0M899.4 224.5h0M698.9 206.0h0M489.3 184.2h0M476.0 183.8h0M1004.4 217.2h0M650.0 179.2h0M873.0 320.1h0M797.8 224.0h0M768.9 172.2h0M782.1 238.2h0M500.3 460.2h0M925.8 257.4h0M955.7 296.4h0M488.5 418.4h0M979.8 200.3h0M582.8 186.6h0M627.9 302.7h0M883.0 323.9h0M916.9 170.1h0M490.8 412.9h0M484.5 368.5h0M754.1 195.0h0M341.7 234.4h0M742.0 184.2h0M919.7 416.9h0M480.3 373.1h0M948.9 272.4h0M392.0 270.9h0M490.3 223.9h0M886.4 238.7h0M915.2 263.0h0M634.3 206.5h0M962.0 259.7h0M522.0 383.9h0M456.9 249.6h0M597.5 307.1h0M670.5 339.1h0M517.6 332.3h0M439.1 239.5h0M456.6 217.1h0M906.3 288.8h0M704.5 304.0h0M664.0 304.2h0M450.0 239.4h0M865.7 323.9h0M829.0 303.6h0M608.6 316.3h0M917.3 187.0h0M720.6 312.6h0M394.6 172.1h0M731.1 176.2h0M787.1 166.3h0M746.5 300.0h0M426.9 283.2h0M698.4 204.1h0M454.4 188.0h0M875.4 287.4h0M495.6 161.6h0M446.1 225.7h0M858.4 309.8h0M475.1 362.5h0M671.6 325.8h0M936.3 394.2h0M799.6 185.8h0M851.7 213.5h0M485.5 161.2h0M490.8 396.0h0M839.3 181.5h0M680.4 409.7h0M827.7 265.6h0M527.8 424.4h0M625.0 183.9h0M968.8 255.5h0M841.2 232.5h0M606.1 176.1h0M502.8 189.0h0M766.4 211.0h0M911.0 325.2h0M379.9 222.8h0M692.5 249.5h0M494.0 445.8h0M470.4 209.4h0M709.0 285.3h0M708.4 252.0h0M889.5 328.6h0M443.9 173.6h0M465.3 177.5h0M702.7 171.1h0M831.0 196.5h0M765.0 216.4h0M953.0 214.5h0M693.6 261.5h0M687.2 289.1h0M606.6 284.5h0M672.0 383.6h0M692.1 276.7h0M995.1 244.4h0M875.3 276.5h0M494.6 192.7h0M466.9 357.0h0M602.5 209.8h0M923.3 185.0h0M425.0 281.2h0M395.4 277.2h0M645.3 345.3h0M617.6 282.6h0M822.0 277.3h0M976.7 201.4h0M698.0 346.6h0M981.1 387.1h0M841.1 180.4h0M729.8 352.4h0M691.8 405.0h0M837.0 196.6h0M1005.3 219.7h0M749.6 239.0h0M753.7 194.0h0M484.0 394.6h0M688.9 295.1h0M685.5 206.8h0M600.4 268.5h0M808.9 224.4h0M903.6 220.4h0M393.1 180.9h0M633.9 292.4h0M469.3 210.9h0M919.1 182.3h0M490.1 449.6h0M626.2 186.6h0M491.9 418.2h0M391.1 220.1h0M422.0 161.9h0M641.2 288.7h0M911.0 161.0h0M752.2 174.1h0M619.6 284.1h0M797.5 206.5h0M878.7 204.3h0M991.2 244.9h0M450.6 162.2h0M870.7 330.2h0M970.8 273.8h0M414.6 298.7h0M840.0 210.6h0M754.5 184.8h0M510.1 365.1h0M870.5 155.7h0M946.8 227.5h0M645.3 192.8h0M721.5 345.7h0M920.8 292.6h0M707.6 176.1h0M890.1 315.4h0M407.7 240.8h0M752.0 258.7h0M843.8 271.3h0M617.1 320.0h0M614.8 270.6h0M352.8 220.9h0M341.4 185.5h0M728.6 340.5h0M408.0 260.9h0M802.7 200.3h0M665.1 167.4h0M714.1 369.5h0M912.3 419.5h0M719.2 371.7h0M683.3 169.0h0M759.7 239.3h0M855.3 263.3h0M678.7 168.4h0M440.8 228.7h0M857.8 224.0h0M458.4 226.5h0M377.7 267.6h0M924.7 394.2h0M731.5 354.7h0M761.2 165.2h0M713.9 325.9h0M493.7 398.9h0M454.2 220.3h0M968.6 244.3h0M666.9 332.6h0M693.9 408.6h0M794.3 156.4h0M758.2 224.9h0M643.5 230.7h0M604.4 312.6h0M423.7 220.2h0M594.0 183.4h0M921.1 382.3h0M961.8 251.8h0M607.4 253.9h0M456.0 242.4h0" stroke-width="1.5" stroke-opacity="0.43"/><path d="M767.6 160.6h0M465.4 325.3h0M966.1 279.4h0M650.1 165.2h0M865.5 296.6h0M487.0 235.6h0M745.2 176.9h0M354.5 246.7h0M606.2 257.2h0M793.8 280.6h0M495.9 177.4h0M440.3 227.5h0M834.2 297.1h0M761.9 162.3h0M602.6 263.9h0M610.9 229.6h0M860.0 215.1h0M883.4 201.5h0M503.3 413.3h0M456.5 225.4h0M495.8 397.2h0M676.6 370.2h0M471.7 345.2h0M493.8 355.0h0M972.8 225.5h0M672.1 332.5h0M973.6 179.1h0M733.8 254.5h0M615.8 202.7h0M692.0 190.7h0M690.3 379.9h0M1006.2 198.5h0M817.4 231.6h0M772.1 207.3h0M643.6 314.7h0M615.9 279.6h0M771.0 261.4h0M825.7 199.7h0M911.4 384.1h0M877.7 232.3h0M866.5 292.3h0M987.3 222.4h0M875.3 224.6h0M897.2 176.5h0M623.4 311.3h0M965.1 285.6h0M639.7 241.6h0M499.8 434.6h0M661.2 287.0h0M890.7 310.3h0M525.6 370.8h0M877.0 157.1h0M493.6 321.8h0M939.8 239.3h0M831.9 247.1h0M896.0 309.8h0M874.5 174.4h0M341.9 185.6h0M500.3 354.4h0M458.0 316.0h0M882.3 279.9h0M943.4 268.3h0M406.0 238.0h0M467.4 319.7h0M752.1 320.6h0M887.8 292.5h0M884.9 177.8h0M788.2 260.8h0M408.2 228.2h0M990.1 253.1h0M425.2 193.7h0M904.5 403.4h0M353.3 240.7h0M662.4 274.8h0M471.9 325.2h0M664.8 280.1h0M618.3 203.2h0M354.1 205.9h0M853.2 252.6h0M856.6 296.2h0M858.6 205.3h0M809.1 199.6h0M365.7 190.8h0M414.9 182.6h0M591.9 181.5h0M399.7 211.7h0M859.1 270.0h0M531.8 381.2h0M632.0 323.7h0M916.7 331.5h0M640.6 293.0h0M981.9 213.2h0M549.2 379.7h0M619.9 229.4h0M808.3 197.0h0M738.3 364.6h0M499.1 443.3h0M517.5 340.7h0M757.7 264.0h0M636.6 295.5h0M947.2 211.9h0M492.5 156.7h0M959.0 190.6h0M590.1 203.5h0M668.9 335.9h0M828.1 199.2h0M813.7 206.3h0M832.3 244.7h0M748.8 177.1h0M630.5 202.9h0M769.5 220.6h0M599.6 309.3h0M710.7 318.9h0M345.5 220.5h0M453.8 354.5h0M424.2 167.2h0M960.7 265.2h0M513.4 331.3h0M879.2 325.7h0M590.6 195.2h0M790.2 161.9h0M660.9 330.7h0M934.8 246.9h0M822.3 211.6h0M441.8 196.4h0M658.5 195.5h0M486.0 454.3h0M430.3 240.1h0M839.6 252.0h0M868.2 274.9h0M425.8 272.8h0M698.1 273.3h0M708.9 343.2h0M670.8 389.5h0M890.7 161.6h0M953.2 267.7h0M490.5 415.1h0M869.0 296.1h0M512.3 168.4h0M930.1 306.2h0M433.9 215.2h0M997.4 230.6h0M851.0 319.1h0M471.9 222.5h0M495.2 352.4h0M721.5 171.1h0M356.9 228.3h0M384.7 168.3h0M656.2 266.6h0M896.5 320.5h0M874.4 156.7h0M694.9 416.3h0M955.7 209.0h0M648.7 254.8h0M722.4 324.8h0M680.5 392.4h0M923.3 326.3h0M462.5 178.0h0M744.4 312.1h0M878.2 326.2h0M626.2 181.5h0M479.2 375.5h0M356.8 220.9h0M442.4 195.2h0M983.9 243.8h0M919.7 162.2h0M728.9 211.6h0M627.4 178.4h0M488.9 377.6h0M780.2 204.5h0M855.7 248.1h0M535.7 383.3h0M520.9 370.2h0M376.2 187.5h0M657.0 354.7h0M893.7 180.8h0M447.2 172.3h0M786.5 211.2h0M728.1 290.9h0M631.2 173.9h0M368.8 262.6h0M593.6 277.6h0M875.7 243.2h0M944.9 170.4h0M379.9 226.8h0M642.7 330.9h0M804.9 192.6h0M818.2 174.1h0M618.1 294.8h0M965.4 414.2h0M667.0 257.8h0M879.1 315.4h0M750.9 311.8h0M614.3 187.9h0M485.7 337.9h0M790.0 244.2h0M834.9 262.0h0M849.1 301.2h0M656.0 361.6h0M389.4 242.2h0M869.8 317.1h0M525.3 407.6h0M455.9 174.5h0M848.4 170.7h0M714.5 198.6h0M423.3 279.7h0M631.8 307.8h0M368.2 184.3h0M876.8 288.8h0M391.4 289.1h0M697.9 398.9h0M735.2 183.6h0M370.5 223.0h0M444.8 259.9h0M365.4 208.8h0M682.4 243.3h0M738.7 195.3h0M951.2 219.3h0M875.2 178.3h0M820.9 210.2h0M490.1 409.1h0M708.1 319.8h0M480.5 176.0h0M461.6 240.2h0M832.9 196.4h0M484.7 322.4h0M427.4 203.0h0M400.2 179.2h0M532.0 368.5h0M609.0 178.7h0M649.3 253.7h0M624.5 266.4h0M850.8 187.9h0M493.8 327.2h0M930.1 207.9h0M933.2 402.2h0M769.2 255.2h0M477.6 401.5h0M415.7 205.4h0M651.1 279.9h0M511.1 185.2h0M815.8 262.3h0M828.0 169.1h0M351.6 194.7h0M908.1 212.9h0M824.1 253.9h0M1002.4 215.1h0M404.7 244.5h0M783.6 273.2h0M630.8 198.2h0M892.1 249.5h0M689.2 302.7h0M435.1 188.9h0M487.8 169.1h0M832.2 274.4h0M699.0 282.0h0M825.8 154.8h0M455.8 241.7h0M609.2 248.5h0M853.3 177.3h0M494.3 443.4h0M489.4 453.0h0M926.7 179.4h0M921.2 319.3h0M367.2 208.8h0M730.8 223.7h0M713.7 301.5h0M377.2 259.6h0M643.6 311.7h0M988.2 259.8h0M818.4 295.7h0M733.9 226.5h0M711.4 188.6h0M847.3 270.6h0M961.3 186.6h0M722.2 277.6h0M883.0 312.7h0M600.6 292.9h0" stroke-width="1.5" stroke-opacity="0.62"/><path d="M634.6 193.1h0M733.4 297.2h0M469.5 202.9h0M429.5 179.2h0M820.6 170.9h0M662.7 316.8h0M855.6 186.9h0M972.4 224.3h0M857.6 228.0h0M752.7 164.7h0M475.1 393.2h0M498.9 364.5h0M642.5 234.5h0M427.6 191.0h0M879.0 204.7h0M457.6 227.9h0M461.8 228.1h0M529.1 414.8h0M658.5 199.7h0M964.9 247.9h0M648.6 321.2h0M496.2 164.6h0M963.9 262.6h0M972.2 283.6h0M448.7 179.1h0M889.7 190.5h0M664.0 196.8h0M715.9 258.5h0M819.2 298.5h0M644.7 233.8h0M472.8 192.4h0M629.1 242.4h0M639.1 236.1h0M964.8 248.4h0M381.3 197.6h0M659.9 313.5h0M642.0 229.7h0M965.0 215.6h0M922.1 291.8h0M628.0 251.5h0M620.8 308.6h0M448.3 163.0h0M719.8 204.8h0M731.4 332.0h0M834.8 191.9h0M746.7 221.2h0M907.5 415.2h0M498.9 350.4h0M385.0 170.0h0M546.1 357.4h0M890.6 255.4h0M444.4 232.4h0M785.6 206.0h0M723.1 217.9h0M844.6 193.5h0M409.7 213.3h0M757.6 272.5h0M982.1 195.9h0M706.1 254.4h0M375.5 262.9h0M459.8 238.0h0M784.0 255.2h0M921.2 256.8h0M744.4 262.4h0M381.5 166.0h0M397.5 182.6h0M717.2 276.4h0M384.9 217.2h0M432.8 239.2h0M910.0 171.3h0M754.2 263.8h0M751.0 218.2h0M695.4 274.6h0M403.9 251.2h0M433.1 256.8h0M725.6 178.9h0M956.3 225.4h0M703.6 206.9h0M409.8 159.6h0M799.8 194.9h0M411.0 169.0h0M467.5 201.9h0M776.0 258.8h0M805.2 284.7h0M671.2 187.4h0M711.7 210.7h0M413.3 213.5h0M860.6 322.1h0M903.7 259.1h0M653.6 229.5h0M963.9 393.4h0M382.3 230.1h0M491.5 401.9h0M594.8 193.0h0M834.6 227.9h0M873.0 190.4h0M939.4 257.5h0M466.3 363.8h0M773.6 179.8h0M340.7 235.7h0M859.1 311.9h0M694.0 345.7h0M824.7 213.4h0M772.6 274.1h0M651.8 169.7h0M652.4 286.9h0M940.9 216.9h0M434.3 166.1h0M616.2 265.2h0M931.7 301.0h0M832.5 307.4h0M473.1 183.0h0M721.9 333.3h0M680.5 171.2h0M729.1 363.2h0M890.5 271.8h0M633.4 323.8h0M909.8 292.3h0M683.8 373.8h0M420.1 283.0h0M886.1 263.2h0M711.0 351.1h0M861.2 323.1h0M515.4 370.0h0M758.5 252.4h0M450.8 321.6h0M761.5 259.0h0M402.2 276.5h0M980.5 422.0h0M505.4 164.9h0M619.7 245.9h0M948.7 216.0h0M459.5 342.8h0M490.0 424.2h0M740.5 255.0h0M961.7 232.2h0M403.7 220.7h0M476.5 400.8h0M683.5 397.9h0M953.7 295.5h0M743.2 199.3h0M904.9 244.8h0M471.4 214.3h0M686.3 367.0h0M642.3 296.7h0M926.9 316.7h0M914.7 253.6h0M374.2 171.9h0M351.5 238.8h0M691.2 260.3h0M624.3 257.5h0M646.0 223.7h0M425.8 217.6h0M389.7 219.9h0M668.6 317.1h0M961.8 395.2h0M437.7 248.9h0M805.0 194.9h0M776.1 235.5h0M482.1 367.7h0M701.4 383.7h0M910.9 306.8h0M971.2 269.0h0M827.0 191.3h0M325.4 191.8h0M714.2 295.4h0M392.4 185.8h0M441.3 250.1h0M641.2 253.7h0M666.9 350.9h0M497.6 164.0h0M401.9 225.8h0M898.3 220.4h0M712.9 362.6h0M431.1 250.2h0M929.5 311.3h0M875.0 244.8h0M859.1 267.7h0M331.4 173.6h0M890.7 180.6h0M693.2 408.0h0M655.8 305.8h0M463.4 177.5h0M401.7 233.1h0M931.4 172.1h0M699.8 313.9h0M667.3 319.1h0M616.5 300.4h0M621.0 241.7h0M646.4 334.7h0M830.3 258.7h0M448.0 335.1h0M506.5 452.6h0M678.6 332.9h0M739.3 205.9h0M845.5 201.8h0M826.0 281.6h0M674.7 268.8h0M870.8 321.6h0M922.7 418.1h0M729.5 172.9h0M797.5 237.1h0M637.2 234.4h0M799.4 266.8h0M375.8 236.6h0M641.4 199.6h0M707.2 290.2h0M672.7 356.1h0M960.2 190.1h0M699.7 328.7h0M411.5 216.7h0M758.4 193.8h0M908.7 276.1h0M943.3 419.4h0M869.9 275.3h0M600.1 278.3h0M920.1 165.7h0M745.0 319.6h0M684.9 264.4h0M373.9 221.4h0M853.1 283.9h0M952.6 248.9h0M407.4 177.1h0M457.1 324.5h0M472.0 178.0h0M407.1 206.4h0M847.0 277.1h0M715.4 210.2h0M621.2 289.2h0M613.1 276.5h0M952.7 388.8h0M506.3 407.7h0M662.8 225.7h0M605.5 274.0h0M931.0 419.5h0M713.3 377.6h0M681.7 328.4h0M775.5 237.1h0M477.2 361.4h0M807.0 212.2h0M471.1 231.1h0M718.7 237.3h0M904.3 262.7h0M493.6 437.8h0M638.2 226.3h0M948.8 280.4h0M828.9 248.7h0M904.1 260.6h0M857.6 237.6h0M606.8 293.6h0M685.5 338.9h0M350.1 215.2h0M626.2 183.4h0M763.0 200.8h0M488.9 345.1h0M501.3 355.9h0M781.5 218.3h0M690.9 202.1h0M475.1 183.8h0M415.3 246.7h0M623.1 208.1h0M678.2 302.6h0M959.0 258.9h0M830.8 239.8h0M350.0 192.3h0M491.8 166.4h0M780.9 238.9h0M718.6 200.9h0M884.4 275.6h0M595.4 296.4h0M625.6 281.2h0M627.3 203.3h0M447.5 265.2h0M923.4 239.3h0M409.4 229.4h0M629.6 222.2h0M416.9 291.5h0M784.7 246.5h0M514.9 166.0h0M756.0 158.9h0M906.0 262.4h0M401.4 236.2h0M460.0 236.9h0M780.8 177.3h0M462.0 258.7h0M741.6 210.7h0M614.1 195.4h0M649.5 186.2h0M704.1 257.5h0M390.1 178.6h0M897.2 173.6h0M695.5 411.5h0" stroke-width="1.5" stroke-opacity="0.80"/><path d="M460.9 165.2h0M456.8 191.2h0M952.6 393.8h0M900.8 299.0h0M646.1 196.7h0M500.2 409.3h0M495.7 166.5h0M331.9 181.3h0M683.6 219.2h0M943.8 234.5h0M771.2 238.3h0M591.0 287.6h0M677.2 367.9h0M660.3 365.3h0M977.0 185.8h0M537.3 386.7h0M754.1 220.3h0M597.5 262.4h0M531.1 342.6h0M969.8 189.2h0M757.4 164.0h0M886.3 222.2h0M859.9 272.7h0M903.6 389.4h0M713.9 233.6h0M963.9 198.2h0M861.2 183.7h0M683.1 388.3h0M474.6 183.4h0M900.9 263.5h0M606.5 244.3h0M822.8 192.4h0M506.8 347.4h0M637.1 206.2h0M337.2 223.0h0M785.9 237.6h0M640.9 262.4h0M934.8 183.5h0M680.2 199.2h0M918.4 245.1h0M966.8 220.8h0M496.8 366.7h0M712.1 278.1h0M700.4 266.7h0M374.8 259.3h0M354.3 201.2h0M964.4 426.6h0M993.0 234.8h0M947.0 169.2h0M967.8 174.0h0M533.9 400.2h0M621.1 251.7h0M835.3 248.8h0M350.6 172.5h0M661.2 189.5h0M647.0 210.2h0M765.1 237.8h0M906.2 211.6h0M845.3 227.4h0M377.0 203.7h0M942.1 229.8h0M958.8 208.2h0M730.3 223.4h0M471.7 346.3h0M950.9 187.3h0M838.2 293.9h0M777.7 270.9h0M996.1 226.6h0M677.9 408.5h0M1005.0 229.4h0M913.8 324.9h0M898.3 239.2h0M837.3 188.2h0M658.8 224.2h0M707.4 359.4h0M925.5 168.8h0M945.4 241.1h0M752.4 183.2h0M683.7 359.7h0M630.9 335.1h0M932.6 378.9h0M839.5 220.5h0M949.2 192.4h0M650.2 209.4h0M437.8 213.1h0M332.3 196.4h0M982.7 227.4h0M605.3 316.0h0M899.8 279.8h0M837.8 306.4h0M686.1 401.1h0M401.1 201.8h0M900.3 181.4h0M703.7 184.9h0M605.5 310.5h0M809.5 228.7h0M528.0 351.9h0M391.7 222.5h0M490.4 384.3h0M724.0 282.0h0M449.3 224.3h0M757.6 188.8h0M438.9 189.7h0M958.2 425.9h0M610.3 201.4h0M1000.2 193.5h0M742.2 327.5h0M982.7 258.7h0M916.3 205.0h0M959.7 173.1h0M879.9 259.8h0M620.1 335.2h0M691.8 359.2h0M630.8 246.6h0M958.1 412.2h0M654.4 303.6h0M824.4 295.7h0M843.6 181.6h0M716.1 194.8h0M980.6 182.7h0M862.0 206.4h0M413.6 224.8h0M619.0 209.9h0M769.1 257.2h0M502.5 436.9h0M473.1 243.4h0M791.3 289.2h0M920.1 214.5h0M975.2 225.7h0M719.0 216.5h0M711.5 396.5h0M851.9 160.7h0M912.4 176.9h0M713.0 274.8h0M650.4 182.2h0M690.5 200.5h0M772.5 202.5h0M455.4 198.9h0M872.4 225.7h0M820.8 215.7h0M717.6 287.7h0M437.5 202.5h0M718.4 217.1h0M685.2 305.5h0M639.6 312.0h0M322.6 185.9h0M616.1 309.6h0M832.2 204.0h0M958.8 201.7h0M392.2 161.2h0M896.0 189.0h0M970.8 398.7h0M374.9 263.2h0M615.9 296.0h0M832.8 187.2h0M454.9 214.7h0M667.2 325.0h0M404.7 217.9h0M767.6 237.9h0M851.5 235.4h0M777.7 165.4h0M445.4 195.5h0M695.8 180.6h0M470.5 209.9h0M846.0 158.9h0M970.7 194.5h0M914.6 392.8h0M509.6 419.6h0M724.3 314.6h0M593.2 303.6h0M678.3 202.2h0M603.7 251.1h0M953.8 195.3h0M412.0 194.1h0M384.8 211.9h0M464.1 232.2h0M781.9 283.8h0M844.4 180.6h0M472.6 351.7h0M472.2 207.6h0M605.4 180.3h0M588.4 292.8h0M731.0 289.0h0M853.8 305.7h0M695.0 412.8h0M393.7 221.5h0M614.0 223.0h0M668.7 326.0h0M857.6 202.3h0M876.9 213.6h0M835.6 266.5h0M760.2 172.0h0M860.3 273.5h0M506.2 327.9h0M945.7 181.4h0M682.9 196.4h0M520.9 361.6h0M815.1 251.9h0M659.4 333.7h0M694.7 317.4h0M603.6 266.2h0M933.7 228.5h0M919.0 415.2h0M755.7 217.4h0M727.4 192.6h0M870.3 192.8h0M982.1 210.6h0M809.4 268.3h0M741.4 210.3h0M972.3 408.1h0M820.8 259.6h0M936.3 395.6h0M389.8 216.1h0M733.7 370.3h0M657.0 315.4h0M391.5 226.9h0M914.4 278.6h0M654.2 290.2h0M362.3 211.7h0M446.4 323.8h0M755.9 205.9h0M937.1 203.6h0M683.3 187.9h0M775.7 220.0h0M713.2 307.7h0M960.8 199.2h0M641.3 206.0h0M956.0 408.8h0M942.1 200.4h0M500.6 182.6h0M678.8 270.4h0M727.7 377.6h0M872.0 294.2h0M908.1 263.1h0M412.5 188.9h0M404.6 246.2h0M849.6 288.9h0M777.4 174.5h0M874.4 238.8h0M926.7 247.5h0M468.2 354.2h0M704.8 412.2h0M821.2 227.9h0M796.9 266.5h0M628.1 282.0h0M819.2 247.8h0M670.4 346.3h0M385.5 179.8h0M727.1 306.6h0M893.6 191.8h0M440.2 259.6h0M932.2 301.8h0M658.7 358.3h0M608.5 180.1h0M422.0 265.5h0M752.6 324.3h0M493.4 351.7h0M681.4 265.8h0M938.8 266.4h0M940.6 387.3h0" stroke-width="2.8" stroke-opacity="0.25"/><path d="M604.7 319.8h0M669.9 192.1h0M473.1 215.3h0M604.5 261.5h0M799.4 224.8h0M896.8 176.8h0M628.0 317.3h0M940.6 188.5h0M487.9 182.7h0M834.9 168.0h0M683.4 206.0h0M697.4 200.4h0M777.7 265.5h0M488.5 388.7h0M655.7 289.3h0M485.3 226.3h0M490.9 362.9h0M815.0 259.2h0M904.1 158.9h0M447.6 320.1h0M882.8 181.1h0M660.4 377.3h0M488.6 224.5h0M440.6 216.1h0M763.1 268.8h0M742.2 202.7h0M637.1 287.9h0M685.5 276.5h0M453.5 348.1h0M716.7 340.6h0M600.5 312.2h0M943.6 306.4h0M429.2 285.2h0M948.3 282.2h0M676.7 275.5h0M386.8 239.2h0M748.2 165.0h0M861.8 206.9h0M757.5 237.0h0M664.1 228.4h0M459.4 362.8h0M705.2 223.7h0M934.4 264.1h0M391.3 260.5h0M827.5 197.3h0M846.4 181.3h0M738.8 329.9h0M966.6 277.7h0M874.5 284.1h0M605.9 189.2h0M411.2 217.0h0M806.2 167.5h0M718.3 237.1h0M493.3 441.9h0M599.4 204.5h0M374.0 233.2h0M697.4 261.6h0M683.1 221.5h0M523.7 395.5h0M766.2 273.8h0M702.4 169.9h0M857.7 315.7h0M505.9 435.0h0M854.1 285.3h0M927.6 177.0h0M606.6 319.6h0M489.0 343.7h0M668.6 337.4h0M802.8 284.3h0M935.9 285.5h0M923.0 185.5h0M704.4 408.2h0M491.1 444.0h0M626.1 220.1h0M462.1 349.2h0M501.5 439.0h0M503.4 158.9h0M688.1 295.0h0M591.3 310.1h0M681.4 221.4h0M710.8 380.5h0M1005.8 195.9h0M375.9 176.0h0M645.6 295.3h0M900.0 239.5h0M527.9 402.7h0M736.5 297.5h0M623.7 305.9h0M765.2 197.3h0M868.1 289.7h0M966.3 209.4h0M465.3 234.9h0M802.2 243.4h0M810.9 209.1h0M545.9 375.7h0M822.1 275.0h0M753.5 317.2h0M769.4 190.8h0M840.4 161.2h0M964.9 172.1h0M835.9 201.0h0M873.0 174.4h0M436.3 180.9h0M629.9 165.3h0M920.0 285.3h0M902.9 260.5h0M595.3 215.1h0M388.2 229.1h0M999.6 189.6h0M487.6 165.3h0M486.0 238.0h0M842.1 276.0h0M435.2 274.1h0M722.2 357.6h0M483.9 446.7h0M916.9 195.7h0M772.9 271.9h0M985.1 213.7h0M664.3 219.7h0M405.4 303.6h0M665.3 245.8h0M872.6 217.0h0M979.1 188.2h0M957.4 242.6h0M735.2 198.4h0M508.1 398.3h0M621.2 167.6h0M818.5 164.7h0M839.0 295.3h0M749.7 230.9h0M904.8 232.9h0M777.6 214.4h0M370.1 254.8h0M673.4 186.5h0M655.3 185.4h0M700.1 338.4h0M619.9 175.9h0M913.2 174.9h0M902.6 288.3h0M402.6 208.7h0M593.9 297.5h0M851.2 226.2h0M888.5 323.0h0M918.6 162.6h0M682.8 319.4h0M863.8 268.5h0M542.2 380.0h0M968.4 171.3h0M766.6 201.5h0M469.9 328.0h0M601.4 258.4h0M594.8 175.4h0M840.7 171.7h0M975.3 270.5h0M948.7 282.4h0M848.6 170.2h0M800.9 204.5h0M917.7 178.3h0M488.3 420.5h0M790.1 190.5h0M674.5 180.4h0M742.9 346.7h0M452.8 199.0h0M718.4 210.5h0M629.5 270.4h0M666.8 319.5h0M460.4 254.5h0M339.5 228.3h0M776.9 200.0h0M415.5 237.4h0M370.1 219.1h0M399.8 246.6h0M728.7 339.2h0M641.6 177.1h0M837.7 236.5h0M876.2 291.6h0M826.1 262.2h0M848.8 195.8h0M644.8 180.8h0M346.3 232.3h0M870.9 209.3h0M711.0 273.6h0M923.9 184.6h0M390.5 237.9h0M748.1 215.7h0M481.3 327.8h0M757.6 251.3h0M677.9 250.1h0M616.5 228.9h0M327.3 187.7h0M838.8 270.1h0M766.6 195.2h0M500.3 328.0h0M655.4 344.7h0M420.8 270.4h0M893.5 184.1h0M653.2 167.0h0M875.7 281.8h0M705.8 387.5h0M867.4 308.8h0M924.5 265.9h0M847.1 178.3h0M592.6 207.4h0M749.5 302.6h0M609.3 187.2h0M936.6 271.1h0M724.8 374.4h0M638.0 260.3h0M611.7 287.4h0M923.5 198.7h0M411.9 178.1h0M940.1 206.7h0M671.0 388.3h0M678.1 219.0h0M421.5 306.5h0M471.1 189.4h0M891.8 323.0h0M790.0 198.3h0M787.8 177.1h0M907.7 239.6h0M435.5 277.4h0M657.7 310.2h0M990.6 181.1h0M711.4 315.4h0M798.7 293.7h0M376.6 242.4h0M719.9 293.9h0M816.9 292.0h0M468.4 187.9h0M920.1 311.3h0M810.9 163.0h0M734.5 166.3h0M885.8 235.2h0M483.6 369.9h0M814.4 218.9h0M790.0 262.2h0M376.8 221.6h0M881.4 222.9h0M496.1 377.7h0M689.7 308.2h0M991.8 218.5h0M447.9 251.6h0M600.6 269.6h0M732.4 224.5h0M892.3 227.4h0M888.6 331.7h0M968.7 203.9h0M488.2 341.9h0M726.5 314.3h0M720.8 228.6h0M693.1 196.2h0M725.4 185.5h0M358.6 199.6h0M702.6 373.7h0M598.8 266.2h0M792.3 285.9h0M660.0 352.6h0M905.8 219.8h0M713.5 346.2h0M972.4 193.8h0M459.1 325.8h0M417.1 160.4h0M623.9 247.9h0M746.6 179.3h0M703.9 319.2h0M957.3 234.6h0M839.3 276.4h0M869.0 282.8h0M616.4 204.6h0M641.6 264.1h0M363.9 172.6h0M443.1 282.8h0M519.0 424.6h0M448.6 330.3h0M715.2 332.6h0M625.3 223.9h0M423.4 239.7h0M466.5 374.4h0M798.5 249.6h0M940.0 297.7h0M728.9 230.7h0M813.0 180.2h0M412.8 300.9h0M510.7 165.5h0M732.5 207.3h0M437.8 261.0h0M983.8 233.1h0M343.3 214.6h0M983.5 236.9h0M473.8 376.0h0M419.0 272.8h0M417.8 248.4h0M354.3 241.9h0M959.9 414.8h0M942.4 424.9h0M430.4 167.0h0M350.9 234.9h0M811.0 245.1h0M932.6 279.3h0M631.3 253.2h0M731.0 379.1h0M455.3 330.1h0M971.7 273.7h0M536.1 348.0h0M437.2 212.5h0M878.3 274.4h0M911.8 196.6h0M750.4 196.2h0M474.8 377.0h0M721.2 400.4h0M832.3 199.7h0" stroke-width="2.8" stroke-opacity="0.43"/><path d="M745.2 304.8h0M367.5 238.1h0M456.2 263.9h0M830.1 213.1h0M877.0 185.7h0M406.4 177.4h0M423.5 282.7h0M975.0 274.0h0M494.1 197.6h0M657.2 266.1h0M362.5 166.7h0M430.0 277.1h0M941.7 251.3h0M494.3 379.7h0M777.1 177.2h0M882.9 201.9h0M834.5 247.1h0M718.9 313.4h0M422.7 245.0h0M749.6 251.1h0M515.9 417.4h0M884.6 163.1h0M974.3 402.8h0M502.5 425.4h0M852.8 215.2h0M445.2 197.4h0M651.9 328.8h0M371.8 234.1h0M968.5 196.0h0M804.8 293.3h0M485.5 156.2h0M672.3 287.3h0M769.8 242.6h0M855.5 241.1h0M667.7 274.8h0M492.5 336.8h0M913.8 204.6h0M403.8 190.4h0M815.7 241.3h0M809.4 269.3h0M671.5 248.6h0M684.1 373.4h0M922.8 316.8h0M941.9 388.6h0M702.1 349.4h0M373.1 229.2h0M965.3 395.2h0M688.1 251.8h0M909.3 180.2h0M691.2 196.0h0M909.8 217.9h0M407.9 259.9h0M826.9 258.3h0M629.2 248.9h0M989.3 202.7h0M372.2 203.4h0M994.4 180.8h0M944.0 205.6h0M874.9 310.6h0M1006.4 186.5h0M979.3 247.2h0M921.7 322.2h0M963.6 204.6h0M423.3 275.4h0M533.7 393.6h0M705.9 169.6h0M1000.1 183.7h0M792.3 194.5h0M956.7 170.0h0M649.5 250.7h0M524.8 406.4h0M388.3 228.3h0M827.2 174.8h0M906.8 217.8h0M755.5 312.7h0M598.5 290.9h0M504.0 352.1h0M970.5 194.5h0M619.8 284.6h0M781.3 233.6h0M601.7 177.6h0M417.9 268.5h0M544.3 376.2h0M906.7 328.7h0M515.3 175.9h0M622.4 199.8h0M720.0 288.1h0M920.6 402.1h0M456.5 351.4h0M987.3 239.2h0M937.2 396.1h0M802.5 217.0h0M487.9 447.5h0M679.3 367.9h0M809.6 246.1h0M949.0 421.0h0M727.8 251.0h0M618.9 198.9h0M721.0 174.4h0M723.3 189.6h0M933.2 175.3h0M967.4 279.2h0M750.1 165.3h0M833.7 263.1h0M318.8 187.1h0M847.9 305.9h0M748.4 309.1h0M390.0 189.8h0M982.8 395.2h0M615.9 278.2h0M939.7 303.2h0M917.6 262.9h0M608.6 185.6h0M452.3 231.6h0M691.5 257.9h0M962.8 394.8h0M741.7 246.3h0M658.3 189.8h0M910.9 234.0h0M783.1 157.3h0M394.1 224.1h0M876.9 277.3h0M483.6 369.2h0M706.2 203.2h0M963.8 379.0h0M407.5 226.6h0M487.3 202.4h0M623.6 290.6h0M460.0 248.6h0M385.6 238.1h0M482.1 410.3h0M962.9 405.5h0M833.2 225.3h0M968.6 381.0h0M615.0 171.8h0M865.2 184.3h0M481.9 370.5h0M791.9 174.3h0M615.2 215.3h0M622.9 298.1h0M961.0 276.2h0M445.5 243.3h0M489.0 378.7h0M729.2 244.9h0M494.5 432.1h0M487.4 154.9h0M733.8 173.3h0M971.7 257.6h0M624.7 314.7h0M902.0 160.6h0M619.5 261.1h0M853.4 208.2h0M784.6 266.8h0M887.8 214.6h0M707.3 256.0h0M955.9 407.1h0M667.5 273.4h0M501.9 411.3h0M485.3 365.3h0M726.2 274.7h0M875.0 324.0h0M676.1 395.4h0M482.3 429.2h0M835.4 245.8h0M776.3 191.3h0M639.4 212.9h0M984.9 235.5h0M745.6 259.4h0M637.1 240.6h0M804.8 183.8h0M962.6 401.7h0M789.1 259.8h0M894.2 245.3h0M499.9 190.4h0M933.4 216.5h0M983.2 216.7h0M619.4 199.2h0M796.4 285.4h0M386.3 184.2h0M955.0 188.3h0M382.0 249.8h0M861.9 199.0h0M452.1 192.6h0M416.6 306.0h0M775.8 212.3h0M372.8 212.2h0M409.7 206.1h0M588.3 292.3h0M689.4 417.7h0M520.3 364.8h0M622.0 191.2h0M702.8 353.0h0M481.9 334.9h0M806.9 262.7h0M652.0 188.8h0M418.0 258.9h0M649.0 248.2h0M607.4 196.8h0M811.9 252.4h0M416.6 213.4h0M738.0 185.7h0M457.2 185.7h0M682.3 317.9h0M638.8 189.7h0M591.9 271.1h0M954.6 290.2h0M922.8 297.6h0M905.8 204.5h0M350.4 200.7h0M931.8 285.3h0M712.2 215.2h0M781.4 237.2h0M727.9 317.8h0M794.5 224.1h0M468.1 374.8h0M637.3 167.2h0M508.1 176.9h0M823.6 269.1h0M372.0 255.0h0M883.6 307.6h0M850.0 165.0h0M922.9 302.0h0M346.7 232.3h0M693.9 323.6h0M693.3 296.1h0M712.4 409.0h0M725.4 327.3h0M743.7 310.6h0M845.1 299.2h0M676.8 216.1h0M598.3 204.0h0M983.4 262.9h0M880.0 200.7h0M975.2 258.9h0M821.4 160.8h0M920.3 248.8h0M374.4 198.6h0M981.7 211.6h0" stroke-width="2.8" stroke-opacity="0.62"/><path d="M358.3 167.8h0M800.0 158.1h0M400.9 220.2h0M870.9 269.4h0M967.1 172.1h0M463.2 198.2h0M804.4 214.7h0M489.8 387.2h0M696.9 290.0h0M399.5 280.6h0M961.6 416.7h0M455.8 257.3h0M890.7 172.5h0M769.1 271.2h0M389.8 166.8h0M696.7 349.2h0M835.2 211.4h0M837.6 154.3h0M327.7 206.1h0M811.0 189.2h0M758.2 221.8h0M980.6 191.8h0M685.8 319.6h0M618.6 186.8h0M674.5 254.2h0M515.0 172.6h0M902.6 327.9h0M502.7 386.2h0M695.6 260.7h0M915.9 217.1h0M697.4 342.0h0M853.8 319.1h0M679.2 169.6h0M418.4 200.0h0M941.9 413.4h0M815.1 211.3h0M786.5 167.1h0M710.8 379.7h0M465.2 315.3h0M625.0 174.4h0M369.8 246.1h0M396.3 262.8h0M491.7 187.1h0M749.1 207.9h0M969.0 242.9h0M922.3 290.1h0M721.2 239.4h0M467.5 221.7h0M695.8 370.7h0M791.5 286.4h0M494.4 421.9h0M522.6 361.2h0M954.6 222.9h0M866.5 172.7h0M402.6 206.6h0M451.0 207.2h0M389.4 190.9h0M490.1 458.8h0M726.1 198.2h0M881.1 278.3h0M416.1 192.9h0M934.3 176.5h0M340.9 230.8h0M839.1 229.6h0M854.6 270.1h0M713.4 216.1h0M969.1 201.6h0M811.8 217.5h0M735.9 176.3h0M730.9 312.8h0M618.2 175.4h0M444.1 226.5h0M493.5 327.1h0M474.7 193.0h0M361.6 254.6h0M635.4 251.2h0M734.6 234.2h0M977.6 238.5h0M488.0 359.0h0M397.5 236.7h0M726.2 296.8h0M861.5 298.1h0M695.9 405.2h0M615.1 201.6h0M765.2 230.4h0M833.5 214.9h0M453.8 178.2h0M458.0 177.4h0M470.9 207.2h0M818.3 254.3h0M810.7 230.2h0M369.2 240.1h0M340.4 180.6h0M731.1 195.6h0M515.3 429.3h0M640.4 180.5h0M723.1 381.1h0M774.4 171.5h0M340.3 201.0h0M791.7 202.5h0M584.5 183.9h0M928.2 227.0h0M712.9 400.9h0M968.9 400.5h0M477.2 239.6h0M939.3 220.2h0M723.2 284.1h0M928.8 420.2h0M452.6 262.3h0M935.1 216.4h0M759.0 170.1h0M822.3 203.2h0M485.8 332.6h0M866.3 327.0h0M523.3 334.1h0M518.8 348.6h0M340.8 179.0h0M712.5 179.9h0M357.1 217.7h0M489.1 373.4h0M489.0 335.2h0M860.0 189.0h0M890.6 179.7h0M671.4 182.2h0M790.7 257.1h0M641.2 293.7h0M882.8 216.5h0M392.8 197.3h0M754.7 204.8h0M934.0 241.2h0M499.1 186.5h0M965.7 194.5h0M844.3 209.6h0M827.2 160.5h0M646.1 230.2h0M946.6 212.5h0M427.4 242.8h0M862.3 199.3h0M830.6 234.2h0M758.9 197.6h0M913.4 238.9h0M877.5 165.8h0M422.7 236.8h0M700.2 395.7h0M694.6 414.5h0M467.3 334.5h0M492.5 336.4h0M490.8 452.7h0M492.5 460.8h0M720.1 333.0h0M400.8 277.8h0M987.5 200.0h0M443.3 167.0h0M885.3 331.7h0M414.9 164.3h0M991.1 222.0h0M696.4 300.5h0M843.5 249.2h0M655.4 290.1h0M626.8 251.8h0M712.1 376.0h0M465.2 168.3h0M875.1 304.1h0M832.9 172.4h0M736.8 293.2h0M936.0 267.2h0M628.7 243.3h0M981.6 391.5h0M405.8 195.3h0M699.2 175.4h0M609.5 279.1h0M929.3 391.0h0M952.0 190.6h0M666.7 290.1h0M499.2 382.0h0M878.5 223.2h0M665.1 326.4h0M607.8 181.3h0M744.0 236.8h0M497.4 188.7h0M765.8 249.9h0M544.8 381.0h0M807.4 292.0h0M914.0 274.7h0M787.9 210.2h0M385.2 214.2h0M444.4 219.0h0M809.2 224.0h0M917.6 260.6h0M408.8 276.0h0M687.8 255.5h0M547.9 357.1h0M846.8 278.0h0M692.0 363.5h0M798.8 266.0h0M871.5 165.9h0M407.2 235.7h0M889.3 282.9h0M964.6 206.3h0M840.8 286.5h0M702.2 326.8h0M801.7 268.9h0M639.5 197.7h0M386.6 178.3h0M427.0 194.4h0M741.9 240.1h0M482.4 388.2h0M522.9 384.0h0M379.7 200.3h0M512.4 368.0h0M847.1 250.7h0M698.5 192.2h0M861.2 231.8h0M455.3 178.5h0M633.4 207.5h0M679.0 194.4h0M681.9 213.7h0M849.0 305.2h0M395.9 261.1h0M632.4 310.1h0M489.3 408.4h0M498.0 456.1h0M846.8 304.5h0M878.7 221.2h0M381.3 210.4h0M608.9 203.2h0M657.1 192.9h0M736.1 323.8h0M938.7 165.1h0M349.3 238.3h0M342.8 179.0h0M381.9 163.3h0M350.7 236.6h0M537.7 346.7h0M667.8 281.6h0M765.7 254.9h0M609.6 206.6h0M998.9 194.9h0M727.4 224.7h0M395.2 175.2h0M470.3 202.7h0M911.3 163.4h0M920.8 173.8h0M372.1 242.0h0M537.8 396.4h0M690.1 202.4h0M980.7 424.4h0M997.8 202.9h0M739.3 250.1h0M780.7 218.8h0M943.7 248.7h0M680.6 273.7h0M373.8 220.5h0M364.9 215.0h0M760.0 160.7h0M879.0 239.7h0M369.3 174.6h0M873.8 183.6h0M931.4 314.7h0M347.3 186.7h0M795.1 198.0h0M694.1 183.8h0M376.4 188.0h0M709.8 386.6h0M705.4 411.3h0" stroke-width="2.8" stroke-opacity="0.80"/></g></g>
<rect x="19" y="164" width="292" height="207" fill="#1d91d0"/>
<filter id="bl4" x="-10%" y="-10%" width="120%" height="120%"><feGaussianBlur stdDeviation="3"/></filter>
<g fill="#bfe8fb" fill-opacity="0.10" filter="url(#bl4)"><polygon points="20.8,252.7 37.4,246.5 62.3,244.9 83.1,248.8 95.5,257.3 94.3,272.9 83.9,284.5 72.7,295.4 64.4,303.9 56.1,300.8 47.8,289.2 34.1,277.5 23.3,265.9"/><polygon points="75.6,245.7 95.5,242.6 108.8,246.1 104.7,257.3 92.2,261.2 79.8,255.8"/><polygon points="75.6,304.7 92.2,306.2 112.1,314.0 120.4,325.6 114.6,340.8 104.7,354.3 96.4,364.4 90.1,358.2 88.1,341.1 79.8,324.1 74.4,312.4"/><polygon points="132.1,252.7 153.6,246.5 175.2,248.0 179.4,261.2 171.1,272.9 153.6,275.2 137.9,271.3 131.2,262.0"/><polygon points="137.0,277.5 161.9,275.2 183.5,279.1 196.0,292.3 204.3,304.7 197.6,323.3 187.7,342.7 175.2,348.1 166.9,335.7 158.6,317.5 147.4,313.6 135.4,305.8 133.7,292.3"/><polygon points="175.2,250.4 203.4,244.5 240.8,242.6 282.3,246.5 308.0,254.2 308.0,273.6 299.7,289.2 283.1,300.8 270.7,312.4 254.1,314.0 237.5,304.7 220.9,296.9 204.3,289.2 187.7,277.5 179.4,265.9"/><polygon points="263.6,331.8 286.4,328.7 302.2,334.9 299.7,347.4 283.1,351.2 266.5,345.8"/></g>
<g stroke="#a6dcf6" stroke-linecap="round" fill="none"><path d="M79.7 276.1h0M287.5 290.3h0M177.6 293.9h0M209.2 283.7h0M294.8 259.3h0M291.3 345.1h0M34.2 269.8h0M293.3 254.6h0M223.2 285.6h0M151.2 272.6h0M184.6 289.5h0M49.7 254.7h0M221.0 295.0h0M295.9 290.5h0M75.4 266.4h0M187.8 335.5h0M155.3 288.6h0M304.6 255.5h0M144.6 256.0h0M171.4 339.3h0M141.9 261.4h0M238.8 279.4h0M294.5 255.4h0M177.6 258.4h0M290.9 349.1h0M55.0 269.9h0M274.4 271.2h0M273.0 271.1h0M287.8 336.3h0M283.0 264.8h0M291.8 338.3h0M43.0 263.2h0M70.2 267.1h0M154.0 248.4h0M149.1 288.7h0M213.1 280.1h0M97.2 340.3h0M134.7 258.1h0M267.7 280.9h0M58.2 265.6h0M215.5 262.0h0M235.4 295.0h0M253.4 271.4h0M208.5 277.8h0M31.5 262.6h0M181.0 292.8h0M146.8 251.9h0M231.6 263.3h0M247.7 273.9h0M185.5 297.0h0M232.2 243.6h0M218.2 266.8h0M180.8 311.9h0M64.3 265.0h0M275.4 258.0h0M272.4 303.7h0M53.7 262.6h0M62.4 291.7h0M54.4 278.5h0M252.1 302.0h0M182.5 251.2h0M135.2 294.6h0M63.5 303.1h0M239.5 301.3h0M168.3 271.7h0M165.5 313.0h0M237.8 255.6h0M53.3 277.8h0M105.8 337.4h0M295.0 264.0h0M82.1 311.1h0M142.9 249.8h0M62.0 300.0h0M103.7 344.3h0M224.4 284.9h0M115.6 325.6h0M260.5 279.8h0M275.7 256.7h0M295.2 343.1h0M172.9 266.7h0M38.1 257.5h0M174.7 311.7h0M250.8 311.2h0M276.4 250.8h0M174.5 302.9h0M197.8 315.9h0M278.6 298.0h0M92.6 344.7h0M269.3 266.3h0M146.8 278.2h0M267.4 299.5h0M149.2 258.9h0M259.8 294.6h0M115.3 322.9h0M167.7 283.2h0M89.2 245.9h0M73.4 282.2h0M84.2 280.2h0M199.9 260.8h0M166.7 334.9h0M239.7 244.3h0M187.8 302.0h0M28.2 259.9h0M230.6 255.6h0M174.4 314.7h0M197.1 262.1h0M95.9 337.3h0M52.9 278.7h0M236.9 262.3h0M183.6 327.0h0M175.9 334.3h0M84.6 323.8h0M54.1 259.6h0M252.3 273.3h0M53.2 250.2h0M279.9 248.7h0M208.6 286.3h0M253.2 254.2h0M195.2 272.8h0M222.2 262.0h0M279.0 279.9h0M228.0 263.9h0M173.2 248.5h0M99.3 357.2h0M190.2 313.9h0M147.1 311.0h0M74.8 256.4h0M299.3 269.1h0M75.1 289.7h0M141.4 301.4h0M65.3 284.8h0M70.5 268.5h0M199.1 315.3h0M32.9 267.7h0M83.3 258.4h0M274.7 255.5h0M69.2 251.9h0M276.1 301.1h0M108.4 327.4h0M294.1 254.9h0M42.3 283.0h0M93.6 261.4h0M102.9 326.8h0M93.1 325.9h0M297.0 263.2h0M26.6 257.1h0M292.8 285.1h0M242.0 271.4h0M221.8 245.3h0M148.2 291.4h0M86.2 253.7h0M164.0 300.8h0M83.0 330.0h0M136.7 294.0h0M277.0 299.9h0M148.5 288.5h0M44.7 246.8h0M211.7 264.3h0M268.6 264.8h0M63.6 271.3h0M283.6 254.4h0M206.6 251.1h0M241.0 288.1h0M289.5 348.0h0M278.1 258.0h0M53.0 283.0h0M100.7 348.8h0M290.0 291.8h0M155.0 266.9h0M296.0 345.6h0M207.2 252.0h0M268.5 273.6h0M271.7 345.1h0M167.2 329.8h0M298.5 276.8h0M172.2 330.9h0M254.7 310.6h0M98.9 316.4h0M183.9 258.0h0M79.5 311.4h0M183.9 305.8h0M63.4 291.5h0M44.0 253.7h0M224.2 245.0h0M258.9 294.6h0M196.4 298.4h0M105.2 248.2h0M71.7 288.4h0M301.5 259.1h0M273.5 297.2h0M152.2 283.6h0M66.0 273.2h0" stroke-width="0.9" stroke-opacity="0.30"/><path d="M246.6 307.2h0M198.7 308.1h0M260.4 300.2h0M63.9 252.3h0M213.9 245.3h0M84.4 309.8h0M269.2 285.6h0M57.4 277.4h0M96.9 249.3h0M270.8 303.7h0M107.5 340.0h0M169.6 283.0h0M265.9 278.0h0M34.7 256.4h0M178.6 322.6h0M102.7 326.2h0M268.8 344.0h0M38.0 266.4h0M150.1 283.6h0M276.1 286.1h0M76.9 311.4h0M189.8 313.9h0M289.1 346.0h0M222.8 259.0h0M246.3 264.5h0M85.2 307.6h0M199.2 272.1h0M186.1 304.8h0M170.6 318.8h0M61.7 251.5h0M294.6 339.3h0M181.5 300.1h0M168.7 336.8h0M271.9 273.5h0M96.4 323.9h0M187.4 325.5h0M174.7 285.6h0M78.9 258.5h0M48.9 283.0h0M232.6 257.5h0M276.6 260.6h0M238.5 242.7h0M224.4 270.7h0M217.6 284.3h0M270.3 305.1h0M280.4 277.3h0M205.9 259.9h0M73.2 267.0h0M175.6 346.7h0M136.1 298.4h0M57.3 263.0h0M259.7 286.5h0M293.0 275.1h0M289.1 338.5h0M302.2 276.1h0M83.7 330.7h0M155.3 262.2h0M29.8 263.4h0M32.7 269.0h0M261.2 286.7h0M264.6 271.2h0M233.6 262.3h0M175.5 295.8h0M242.9 274.2h0M258.5 278.1h0M281.7 256.2h0M228.9 266.0h0M166.2 291.9h0M177.5 281.9h0M66.3 281.4h0M182.9 320.1h0M49.1 280.2h0M157.2 260.0h0M82.5 274.1h0M296.7 288.1h0M141.4 284.5h0M227.6 270.5h0M42.8 253.6h0M90.0 249.8h0M284.6 285.7h0M197.9 277.5h0M157.6 255.9h0M199.0 314.2h0M153.9 274.5h0M267.2 261.1h0M281.4 265.9h0M81.5 285.8h0M170.4 300.1h0M145.8 296.5h0M224.1 245.3h0M186.1 326.2h0M224.9 279.6h0M134.9 265.5h0M143.5 250.5h0M211.3 280.4h0M183.2 324.8h0M218.1 289.2h0M282.2 272.1h0M288.9 288.3h0M143.9 265.5h0M58.6 284.6h0M52.2 256.6h0M283.3 350.4h0M181.9 307.5h0M133.2 259.3h0M218.1 274.3h0M99.2 359.6h0M35.5 257.5h0M245.4 301.5h0M156.8 260.9h0M160.0 296.3h0M33.5 273.5h0M268.7 270.0h0M66.6 265.8h0M199.8 306.5h0M221.7 258.6h0M90.4 341.7h0M172.3 342.4h0M166.1 269.0h0M69.7 275.0h0M228.9 245.2h0M265.1 281.8h0M173.3 305.6h0M239.5 304.1h0M194.2 281.5h0M179.8 323.9h0M256.9 260.0h0M249.7 277.4h0M256.0 267.3h0M227.9 245.5h0M282.8 331.4h0M197.6 307.8h0M150.9 296.5h0M191.3 316.0h0M35.7 257.9h0M252.2 247.8h0M259.1 270.1h0M66.9 265.7h0M244.8 270.8h0M161.0 269.4h0M43.2 270.1h0M233.3 290.6h0M271.3 340.5h0M264.9 245.2h0M164.3 265.0h0M41.7 268.4h0M91.2 359.1h0M168.2 289.1h0M196.1 308.5h0M185.3 324.4h0M59.0 275.0h0M273.0 257.5h0M94.0 267.7h0M98.6 325.8h0M234.9 292.0h0M214.6 255.0h0M178.4 342.6h0M135.8 304.4h0M207.2 265.9h0M303.9 268.5h0M68.4 260.6h0M39.1 268.2h0M186.8 287.7h0M88.4 271.9h0M189.6 259.0h0M68.7 282.6h0M205.1 258.7h0M194.9 307.4h0M71.3 259.7h0M54.2 266.9h0M56.4 269.1h0M91.6 330.7h0M280.7 334.3h0M244.4 250.8h0M280.9 270.6h0M74.0 251.0h0M61.5 255.4h0M185.6 252.3h0M160.6 273.8h0M149.9 262.5h0M97.1 313.5h0M212.1 278.9h0M103.7 328.4h0M238.0 267.4h0M287.6 266.8h0M257.4 252.8h0M164.0 284.2h0M197.6 308.5h0M93.5 247.3h0M239.4 283.9h0M265.8 268.2h0M188.0 301.5h0M160.0 294.3h0M188.2 292.1h0M283.8 249.3h0" stroke-width="0.9" stroke-opacity="0.48"/><path d="M48.6 271.6h0M298.0 279.2h0M81.5 264.9h0M148.4 296.9h0M297.9 259.7h0M111.0 331.9h0M291.4 269.9h0M140.6 253.2h0M262.3 261.3h0M57.1 259.7h0M51.5 280.0h0M114.3 337.4h0M294.1 340.2h0M307.1 275.3h0M203.6 270.0h0M182.7 254.7h0M182.3 321.6h0M200.0 260.3h0M241.6 283.1h0M171.0 293.5h0M265.0 301.7h0M274.6 274.4h0M165.6 271.8h0M55.2 294.4h0M162.8 298.0h0M234.7 302.7h0M160.3 276.5h0M24.0 255.9h0M105.8 330.8h0M30.1 272.9h0M265.3 294.9h0M185.9 315.8h0M81.0 311.4h0M26.7 252.1h0M93.0 329.4h0M98.0 247.1h0M175.6 255.1h0M63.4 250.8h0M246.4 303.0h0M279.5 342.7h0M255.5 299.2h0M288.2 276.6h0M151.4 291.5h0M292.0 267.6h0M272.2 340.7h0M40.3 274.6h0M286.3 252.3h0M86.8 265.5h0M290.9 265.8h0M196.0 314.9h0M214.0 292.3h0M78.9 258.0h0M292.6 278.5h0M278.2 270.7h0M304.2 267.9h0M288.5 334.6h0M51.6 285.3h0M105.4 314.8h0M291.2 272.4h0M71.3 247.8h0M202.0 277.9h0M192.8 264.5h0M90.7 314.7h0M100.9 321.9h0M107.9 341.4h0M200.6 248.8h0M160.3 282.3h0M110.7 331.5h0M38.8 246.6h0M287.1 275.5h0M88.7 338.1h0M255.1 254.8h0M37.7 259.8h0M263.6 267.4h0M77.5 262.6h0M231.7 294.2h0M104.4 321.8h0M32.5 254.6h0M248.9 278.0h0M53.1 294.6h0M149.0 298.0h0M306.4 255.2h0M213.8 281.2h0M245.2 292.7h0M156.3 267.9h0M235.3 285.5h0M242.4 296.8h0M293.9 255.7h0M138.6 283.6h0M26.5 251.6h0M283.2 278.9h0M199.9 283.7h0M269.4 342.0h0M290.5 285.2h0M250.4 281.2h0M173.9 306.7h0M222.3 266.5h0M167.3 267.4h0M78.7 277.3h0M194.5 264.6h0M39.6 256.0h0M286.7 276.3h0M286.5 329.7h0M266.9 248.9h0M110.6 335.3h0M173.1 340.5h0M179.1 285.4h0M55.0 257.2h0M241.7 263.6h0M198.4 251.6h0M282.4 257.8h0M300.5 341.2h0M286.2 262.9h0M299.1 280.3h0M207.5 256.8h0M76.5 247.7h0M183.6 321.1h0M163.7 250.4h0M298.5 258.8h0M275.6 280.8h0M67.0 289.4h0M144.1 295.8h0M280.5 332.6h0M241.4 277.0h0M66.0 270.4h0M100.7 254.8h0M180.6 253.1h0M190.1 261.6h0M172.8 280.6h0M187.7 277.5h0M189.7 257.2h0M260.9 286.2h0M205.1 281.6h0M263.1 312.4h0M135.5 265.3h0M198.9 283.3h0M71.9 270.5h0M262.9 254.6h0M244.3 253.6h0M95.4 248.5h0M107.7 345.1h0M108.2 336.1h0M246.4 280.3h0M295.1 344.3h0M271.4 340.3h0M28.8 270.2h0M234.0 293.9h0M69.0 251.6h0M87.4 311.9h0M255.7 297.1h0M135.7 288.1h0M59.5 276.8h0M252.9 263.7h0M279.4 280.3h0M162.9 261.1h0M171.8 316.4h0M86.2 261.4h0M94.4 246.0h0M187.0 316.1h0M54.7 261.9h0M271.8 338.5h0M89.0 310.7h0M197.9 262.7h0M143.4 307.9h0M257.5 308.1h0M137.1 260.7h0M95.2 339.3h0M84.8 328.1h0M188.4 327.4h0M217.5 253.9h0M301.3 257.4h0M230.7 280.4h0M83.2 322.1h0M193.6 261.5h0M69.2 254.8h0M163.4 270.7h0M88.0 323.0h0M79.3 288.3h0M145.0 262.4h0M167.1 251.5h0M188.9 288.5h0M245.5 287.0h0M306.5 256.0h0M226.0 269.9h0M230.6 250.7h0M91.6 324.4h0M253.2 263.0h0M213.2 278.0h0M60.4 248.1h0M56.6 282.2h0M174.4 331.3h0M263.0 262.2h0M247.2 262.1h0M228.1 270.4h0M188.0 250.6h0M63.0 251.7h0M92.2 245.2h0M176.5 288.9h0M113.6 331.0h0M252.7 304.5h0M169.6 296.5h0M175.5 307.3h0M56.9 279.8h0M188.8 327.6h0M271.8 288.6h0M275.8 263.1h0M183.3 283.0h0M296.9 261.0h0M94.2 253.2h0M240.9 281.5h0M91.8 335.9h0M161.5 298.4h0M288.9 332.8h0M44.1 261.0h0M243.3 247.3h0M219.5 260.8h0M188.3 314.5h0M74.9 257.2h0M295.4 348.1h0M206.8 286.4h0M168.6 257.1h0M211.0 276.7h0" stroke-width="0.9" stroke-opacity="0.67"/><path d="M267.7 334.6h0M227.3 293.3h0M160.1 278.8h0M145.6 293.2h0M285.4 331.1h0M143.4 295.1h0M158.9 282.0h0M211.6 269.9h0M78.5 245.3h0M149.5 289.4h0M60.7 285.7h0M264.5 278.0h0M117.0 332.4h0M230.4 252.6h0M174.9 302.4h0M105.5 250.1h0M205.4 252.3h0M157.5 251.9h0M107.6 319.3h0M303.3 255.6h0M161.3 265.4h0M254.2 291.7h0M183.4 268.6h0M252.4 276.1h0M89.6 340.9h0M137.6 256.8h0M250.4 266.3h0M155.4 246.9h0M250.1 268.0h0M56.3 297.3h0M172.9 313.4h0M108.2 324.2h0M73.8 263.6h0M226.6 271.9h0M168.7 252.3h0M209.1 264.2h0M159.6 278.6h0M201.6 309.0h0M245.7 274.6h0M157.0 290.3h0M68.4 294.6h0M181.3 259.4h0M150.3 255.9h0M210.6 271.2h0M247.3 296.5h0M287.7 266.9h0M62.0 298.4h0M195.3 326.0h0M158.7 249.1h0M295.8 333.2h0M254.7 283.1h0M255.6 257.0h0M270.7 347.1h0M182.7 321.6h0M41.7 281.2h0M149.3 253.7h0M263.5 246.2h0M56.6 246.4h0M139.8 261.4h0M158.9 281.0h0M57.4 291.3h0M180.2 252.9h0M246.2 291.7h0M216.5 258.8h0M50.9 260.0h0M237.6 289.0h0M160.7 315.1h0M266.0 338.6h0M198.5 282.0h0M182.1 284.9h0M62.8 274.8h0M246.7 262.3h0M98.7 327.2h0M90.5 352.8h0M170.2 262.1h0M81.5 314.6h0M287.2 342.8h0M194.5 279.8h0M103.1 314.5h0M251.9 307.0h0M158.1 276.9h0M294.5 268.5h0M167.0 262.8h0M165.0 293.7h0M175.0 277.6h0M292.4 261.4h0M209.1 289.4h0M301.7 272.8h0M156.6 255.1h0M275.5 344.4h0M100.7 352.2h0M54.2 248.3h0M97.9 338.0h0M291.1 331.4h0M59.6 281.6h0M158.0 272.5h0M171.8 325.1h0M264.2 285.8h0M264.6 336.5h0M241.5 260.2h0M173.5 296.3h0M236.9 277.1h0M287.9 249.0h0M183.1 333.2h0M267.5 281.1h0M147.0 280.6h0M273.4 299.3h0M231.7 246.0h0M265.3 295.4h0M260.6 307.2h0M249.8 279.4h0M185.7 308.6h0M227.5 261.7h0M156.4 306.3h0M209.7 251.9h0M148.7 264.7h0M46.2 246.6h0M100.3 248.1h0M83.6 329.7h0M217.7 250.0h0M173.2 321.5h0M146.7 268.6h0M208.2 246.4h0M287.7 284.7h0M177.9 253.4h0M252.7 274.3h0M186.0 248.2h0M188.0 284.3h0M248.4 245.8h0M144.2 252.3h0M96.6 354.6h0M55.3 253.6h0M241.6 291.4h0M149.3 291.4h0M36.0 253.7h0M201.9 254.1h0M141.4 271.2h0M179.6 336.9h0M182.8 279.5h0M41.0 247.8h0M136.8 304.8h0M210.5 246.1h0M48.9 254.0h0M48.8 285.1h0M49.5 258.3h0M268.0 304.0h0M51.1 274.4h0M236.2 294.8h0M35.0 264.4h0M290.8 253.2h0M272.4 340.1h0M223.7 266.9h0M57.2 286.4h0M267.2 298.8h0M169.8 256.6h0M68.2 294.2h0M167.0 307.2h0M30.8 258.8h0M63.6 251.7h0M107.1 312.8h0M275.4 305.3h0M89.6 276.3h0M89.3 337.8h0M71.2 256.9h0M92.5 318.6h0M194.5 304.9h0M62.4 301.2h0M94.0 327.3h0M198.9 263.8h0M68.0 285.8h0M42.0 261.7h0M147.7 254.2h0M201.8 258.7h0M164.2 325.6h0M160.5 305.2h0M154.8 286.3h0M105.9 313.6h0M254.8 264.8h0M32.2 271.3h0M180.3 250.5h0M68.7 259.5h0M88.0 306.5h0M57.4 301.0h0M238.5 280.3h0M288.8 270.6h0M79.8 262.9h0M148.6 308.4h0M104.9 322.9h0M285.2 292.5h0M264.7 253.9h0M249.5 300.3h0M49.6 262.0h0M234.1 248.4h0M173.7 306.6h0M254.1 313.0h0M148.3 302.7h0M232.9 260.1h0M249.7 291.0h0M29.9 261.7h0M283.6 344.8h0M58.5 267.4h0M206.4 279.0h0M179.4 286.8h0M181.2 325.7h0M301.1 253.5h0M249.0 275.2h0" stroke-width="0.9" stroke-opacity="0.85"/><path d="M298.0 258.5h0M94.7 266.2h0M35.6 272.8h0M300.4 278.8h0M193.0 255.4h0M245.7 293.1h0M145.3 289.8h0M98.3 323.9h0M211.6 248.5h0M34.1 267.0h0M63.9 279.2h0M256.5 309.3h0M233.0 268.4h0M80.3 264.0h0M164.3 290.5h0M37.2 259.7h0M263.2 271.0h0M153.1 297.9h0M96.6 243.4h0M204.7 261.4h0M185.1 305.0h0M83.1 269.2h0M95.7 332.1h0M151.9 282.8h0M185.0 253.7h0M110.9 321.1h0M161.4 267.3h0M194.4 329.4h0M218.2 250.7h0M90.3 263.8h0M225.3 248.9h0M51.5 289.5h0M54.5 276.2h0M220.0 268.4h0M177.4 333.1h0M293.6 259.8h0M170.9 296.0h0M288.5 335.9h0M137.6 306.3h0M280.9 274.4h0M251.4 308.6h0M224.1 288.9h0M238.7 261.8h0M151.2 301.3h0M265.2 274.8h0M181.7 300.8h0M197.9 305.9h0M94.7 307.8h0M185.4 313.7h0M218.6 250.2h0M23.4 263.5h0M21.5 253.8h0M226.5 259.5h0M73.9 280.4h0M45.7 270.6h0M215.8 267.5h0M282.6 283.2h0M58.2 262.6h0M258.5 278.6h0M247.8 273.1h0M245.9 302.3h0M182.5 298.5h0M288.3 349.6h0M80.0 262.3h0M163.8 297.0h0M162.4 248.5h0M190.8 299.0h0M245.5 262.8h0M155.4 270.3h0M106.4 249.8h0M64.7 258.7h0M161.7 308.5h0M260.3 271.3h0M243.5 295.2h0M94.7 309.3h0M235.3 261.2h0M294.5 348.0h0M178.3 252.0h0M101.1 334.0h0M281.5 275.4h0M71.7 294.4h0M44.2 252.7h0M178.9 287.4h0M177.9 341.2h0M199.1 247.7h0M37.5 250.5h0M235.5 275.1h0M74.6 282.2h0M251.8 254.6h0M58.1 290.4h0M43.4 274.3h0M138.5 295.2h0M218.6 270.1h0M279.1 262.1h0M65.1 250.0h0M60.0 301.5h0M163.3 255.3h0M213.3 247.3h0M92.3 246.2h0M298.7 341.7h0M175.1 339.5h0M246.1 291.1h0M252.6 255.0h0M279.2 247.7h0M269.9 248.7h0M100.4 312.9h0M181.3 262.4h0M138.5 263.2h0M165.8 311.9h0M162.3 255.2h0M190.1 310.8h0M95.2 352.0h0M199.3 253.3h0M210.5 253.2h0M93.1 349.3h0M51.5 269.9h0M207.0 244.8h0M239.2 301.2h0M82.3 285.8h0M152.0 258.6h0M294.1 266.6h0M278.7 333.7h0M295.1 272.8h0M205.2 268.1h0M109.7 318.9h0M284.8 286.3h0M148.3 288.3h0M260.1 261.2h0M280.6 291.8h0M65.5 260.8h0M289.0 272.7h0M168.0 298.5h0M59.4 299.0h0M140.1 266.9h0M87.7 276.8h0M248.5 265.2h0M277.4 260.8h0M253.3 251.9h0M146.4 293.4h0M275.1 285.0h0M170.9 261.3h0M287.5 280.1h0M88.0 259.5h0M56.3 249.6h0M153.4 271.6h0M78.4 249.9h0M229.2 246.4h0M55.0 268.0h0M170.8 321.0h0M253.7 248.4h0M249.4 276.4h0M265.4 285.2h0M193.2 272.3h0M52.9 248.9h0M156.8 286.5h0M151.7 278.0h0M53.3 290.4h0M58.1 295.1h0M172.8 270.4h0M184.8 266.8h0M165.2 255.8h0M257.4 311.4h0M205.1 279.6h0M188.6 318.9h0M93.8 361.1h0M242.3 260.9h0M58.1 259.1h0M32.1 270.6h0M213.5 291.2h0M266.7 282.7h0M91.4 337.2h0M297.3 339.7h0M193.5 320.5h0M242.2 244.3h0M138.2 257.9h0M257.4 247.2h0M195.8 250.2h0M61.7 266.0h0M186.0 317.3h0M84.0 307.3h0M256.7 270.1h0M277.2 291.8h0M287.7 273.9h0M92.9 308.6h0M255.9 300.1h0M163.4 293.2h0M151.1 255.0h0M257.6 244.3h0M267.5 285.4h0M82.2 262.0h0M267.9 308.3h0M40.5 250.3h0M49.8 245.9h0M152.1 266.3h0" stroke-width="1.6" stroke-opacity="0.30"/><path d="M99.3 244.9h0M72.5 294.0h0M224.9 259.1h0M74.4 268.4h0M191.5 328.2h0M178.3 251.4h0M63.4 283.5h0M173.4 258.6h0M187.1 326.8h0M300.3 258.4h0M82.9 269.3h0M263.9 263.2h0M191.6 330.0h0M279.1 280.1h0M258.1 278.2h0M246.2 268.3h0M50.3 252.1h0M68.2 284.0h0M270.1 259.6h0M96.6 356.5h0M95.7 259.1h0M165.5 248.0h0M159.8 259.3h0M135.7 298.2h0M270.8 300.8h0M190.1 277.5h0M208.6 249.2h0M144.7 296.1h0M86.5 266.3h0M147.7 286.6h0M99.1 337.9h0M153.6 249.0h0M280.2 349.9h0M48.7 266.2h0M44.6 251.9h0M145.4 283.0h0M155.7 269.0h0M265.8 306.6h0M42.0 247.5h0M180.9 318.9h0M161.0 279.6h0M65.5 291.4h0M259.1 287.9h0M171.1 323.2h0M250.9 290.4h0M181.0 306.1h0M116.5 333.2h0M165.1 286.5h0M282.1 258.9h0M202.9 263.1h0M158.2 264.2h0M155.9 307.8h0M295.0 343.7h0M269.8 274.8h0M77.7 261.9h0M118.5 327.2h0M107.9 323.2h0M300.5 282.4h0M178.2 327.7h0M172.4 325.0h0M229.6 257.1h0M144.7 299.3h0M102.4 354.9h0M89.9 309.0h0M274.9 341.0h0M49.9 247.4h0M167.9 259.2h0M139.6 251.9h0M22.7 258.3h0M243.5 265.8h0M93.2 313.3h0M116.4 327.6h0M278.1 336.3h0M190.4 330.1h0M189.7 278.3h0M278.1 254.9h0M283.0 246.9h0M261.8 270.8h0M102.5 327.6h0M52.4 273.4h0M166.0 319.8h0M166.1 324.3h0M201.4 273.9h0M31.4 249.1h0M217.0 288.0h0M173.7 279.8h0M182.3 256.7h0M228.5 269.7h0M276.5 340.0h0M185.5 283.9h0M79.4 306.3h0M149.9 257.9h0M146.1 301.7h0M152.4 313.7h0M213.0 290.1h0M264.6 310.2h0M291.7 337.8h0M93.5 324.3h0M111.9 328.6h0M190.0 291.9h0M169.2 254.2h0M285.7 349.2h0M179.6 308.1h0M140.9 294.5h0M262.8 285.4h0M261.4 307.2h0M79.0 309.1h0M202.1 252.2h0M231.6 255.6h0M72.9 277.6h0M300.1 277.2h0M260.5 280.0h0M162.6 262.6h0M77.5 284.5h0M223.4 274.5h0M26.6 254.8h0M83.7 247.9h0M157.5 301.2h0M295.7 347.2h0M142.9 258.0h0M151.4 247.4h0M275.5 299.7h0M53.9 250.4h0M155.2 265.6h0M210.1 279.7h0M189.2 271.5h0M220.9 275.7h0M158.9 259.2h0M90.1 264.4h0M84.3 268.6h0M76.9 265.8h0M145.7 306.0h0M151.8 268.8h0M186.5 291.0h0M150.4 299.9h0M56.0 261.7h0M76.3 257.8h0M81.0 275.8h0M174.1 304.6h0M23.6 254.2h0M219.6 263.5h0M297.9 270.4h0M228.1 273.5h0M84.3 281.1h0M165.0 257.4h0M38.5 266.1h0M299.6 254.0h0M69.9 272.8h0M228.0 263.6h0M95.6 345.5h0M190.0 301.1h0M170.8 280.4h0M175.5 283.6h0M270.0 276.9h0M261.3 278.6h0M43.2 283.3h0M151.9 263.3h0M110.5 317.7h0M155.4 311.6h0M256.7 255.8h0M151.1 304.4h0M256.8 311.7h0M205.4 253.2h0M147.0 301.5h0M154.6 312.2h0M193.7 263.7h0M240.9 272.6h0M282.4 281.1h0M267.1 267.6h0M109.1 345.0h0M165.2 287.7h0M301.2 254.8h0M90.1 259.8h0M55.7 252.2h0M146.0 312.3h0M104.3 311.3h0M291.6 266.2h0M294.7 341.3h0M158.6 284.3h0M201.3 262.2h0M41.0 274.5h0M303.3 278.0h0M265.3 258.0h0M140.2 255.8h0M158.6 279.1h0M136.8 286.9h0M94.1 311.2h0M237.4 253.9h0M283.9 285.4h0M189.2 333.6h0M175.5 305.9h0M255.3 253.1h0M108.9 332.0h0M220.2 275.3h0M213.3 254.5h0M175.0 288.4h0M67.4 262.8h0M108.8 315.2h0M83.2 257.4h0M102.4 352.6h0M269.7 296.7h0M195.0 273.5h0M222.7 295.9h0M277.7 262.7h0M54.2 249.6h0M89.1 327.1h0M104.5 319.9h0M287.7 263.2h0M179.8 283.8h0" stroke-width="1.6" stroke-opacity="0.48"/><path d="M245.4 299.5h0M36.4 263.8h0M277.7 258.2h0M216.0 267.0h0M58.4 288.3h0M248.3 249.2h0M220.7 286.1h0M196.8 269.3h0M75.7 248.7h0M245.0 282.4h0M272.0 289.9h0M67.0 254.2h0M232.4 244.1h0M273.8 342.2h0M262.2 265.9h0M61.9 300.9h0M288.2 340.9h0M229.3 285.3h0M164.0 312.4h0M273.0 246.2h0M280.0 344.4h0M275.6 257.9h0M212.6 279.1h0M183.3 296.5h0M66.3 293.9h0M209.5 259.3h0M200.9 261.4h0M101.8 254.0h0M247.3 256.4h0M265.5 275.3h0M169.5 258.2h0M187.4 258.4h0M46.0 275.8h0M168.5 310.4h0M39.7 253.3h0M161.1 287.6h0M153.4 286.3h0M299.7 271.1h0M232.5 287.9h0M168.9 306.8h0M67.0 265.7h0M197.4 267.6h0M60.0 246.8h0M284.2 282.1h0M183.3 267.3h0M279.8 246.6h0M61.5 255.3h0M62.3 279.9h0M101.3 333.5h0M184.6 264.8h0M282.0 290.9h0M153.1 254.2h0M272.1 290.1h0M58.1 299.0h0M243.4 305.6h0M37.7 247.6h0M152.4 268.6h0M268.9 287.0h0M233.6 269.3h0M46.4 270.7h0M270.5 311.8h0M76.8 248.3h0M166.0 302.3h0M229.7 296.0h0M81.3 269.5h0M302.4 261.7h0M78.0 247.0h0M233.1 248.0h0M288.7 338.9h0M234.7 270.0h0M194.5 247.8h0M278.0 340.0h0M172.7 338.3h0M97.0 317.8h0M103.4 256.4h0M221.9 251.3h0M100.9 315.4h0M170.0 249.6h0M182.7 321.9h0M221.1 260.3h0M42.8 249.3h0M37.4 265.0h0M269.6 295.1h0M243.3 269.8h0M256.7 291.8h0M168.2 294.7h0M215.7 254.1h0M178.7 321.3h0M195.3 320.3h0M98.7 310.5h0M299.5 276.9h0M286.6 255.1h0M67.0 262.0h0M160.6 276.9h0M288.4 277.2h0M43.2 285.1h0M208.7 246.7h0M199.8 263.2h0M187.1 340.7h0M147.1 310.1h0M180.9 254.8h0M186.6 316.4h0M169.0 310.4h0M187.0 255.5h0M57.9 295.3h0M105.1 331.5h0M231.7 297.3h0M248.0 290.2h0M87.1 316.4h0M189.3 260.8h0M52.3 289.0h0M104.6 349.1h0M197.8 319.9h0M84.6 332.8h0M159.2 254.2h0M179.6 309.7h0M152.6 314.8h0M101.2 316.2h0M96.1 326.0h0M219.7 263.5h0M66.0 249.8h0M218.8 251.9h0M109.0 317.2h0M61.5 288.6h0M166.0 329.5h0M29.6 264.1h0M241.6 287.5h0M252.6 249.3h0M159.9 296.5h0M267.9 259.0h0M268.0 308.9h0M175.0 250.5h0M162.5 297.2h0M154.1 248.3h0M244.9 255.8h0M37.3 268.9h0M150.1 256.3h0M156.4 265.9h0M235.4 291.0h0M264.5 263.2h0M287.6 286.7h0M219.7 267.0h0M161.8 263.2h0M159.2 263.6h0M151.3 260.7h0M220.3 270.6h0M191.3 317.5h0M51.6 248.3h0M268.5 263.9h0M192.9 310.4h0M280.4 281.2h0M284.3 339.0h0M70.8 291.5h0M142.6 303.6h0M100.9 354.0h0M105.3 326.0h0M281.9 296.7h0M172.8 314.2h0M215.7 294.1h0M64.6 288.0h0M211.7 258.3h0M160.3 310.4h0M106.5 347.2h0M102.6 344.2h0M55.3 277.0h0M172.0 311.3h0M115.1 322.8h0M257.2 312.8h0M203.3 273.3h0M206.7 278.3h0M196.9 279.3h0M179.0 316.0h0M61.0 280.4h0M168.8 312.9h0M179.2 340.2h0M181.1 303.9h0M268.8 247.3h0M91.7 266.1h0M97.6 322.0h0M290.7 280.6h0M176.6 338.8h0M240.7 247.6h0M246.4 286.7h0M245.5 301.6h0M103.4 249.3h0M38.1 257.9h0M290.7 269.3h0M140.8 257.5h0M58.5 266.7h0M114.3 327.0h0M292.1 332.8h0M191.7 330.2h0M25.1 263.9h0M153.7 301.9h0M164.1 293.5h0M208.9 262.5h0M243.1 306.2h0M160.5 280.3h0" stroke-width="1.6" stroke-opacity="0.67"/><path d="M32.3 275.0h0M279.9 346.5h0M36.7 278.1h0M265.0 305.9h0M90.9 353.2h0M227.7 274.5h0M288.5 271.3h0M172.3 306.8h0M221.2 281.1h0M92.4 333.9h0M160.7 262.0h0M250.2 296.8h0M155.8 306.6h0M100.4 353.3h0M237.6 275.0h0M224.6 279.3h0M107.5 318.8h0M297.2 284.1h0M277.5 269.4h0M284.3 339.1h0M136.2 251.7h0M249.4 305.1h0M192.0 313.3h0M89.1 269.9h0M39.1 278.3h0M248.7 280.1h0M80.6 251.9h0M80.5 324.1h0M189.1 291.8h0M138.3 300.2h0M241.2 242.8h0M174.5 337.6h0M100.9 326.6h0M52.1 282.2h0M185.5 273.7h0M256.3 311.7h0M67.9 277.6h0M291.3 289.3h0M259.7 258.0h0M93.0 354.8h0M44.0 259.6h0M190.3 263.5h0M275.6 272.2h0M96.0 310.2h0M185.1 290.5h0M190.3 286.8h0M274.3 275.9h0M187.0 310.4h0M40.2 271.8h0M251.7 267.1h0M276.8 246.9h0M260.1 285.8h0M176.0 257.8h0M93.5 349.9h0M254.5 274.6h0M152.4 251.3h0M235.9 269.7h0M218.3 273.1h0M99.7 333.0h0M70.1 285.4h0M145.7 280.7h0M266.3 289.8h0M91.2 270.4h0M66.0 253.2h0M112.4 314.9h0M198.5 316.5h0M100.5 357.6h0M76.5 280.8h0M178.1 302.1h0M266.6 267.0h0M82.5 328.7h0M192.8 261.6h0M145.9 312.0h0M226.0 260.1h0M187.1 287.0h0M178.4 290.5h0M203.8 275.0h0M59.2 257.2h0M92.7 354.2h0M84.2 324.6h0M54.4 277.1h0M44.6 275.1h0M234.7 249.0h0M29.9 268.8h0M274.5 276.3h0M186.7 259.6h0M85.8 321.5h0M61.9 276.4h0M56.6 284.3h0M86.8 331.0h0M212.3 248.5h0M263.7 287.2h0M229.2 286.7h0M235.4 302.4h0M246.5 292.3h0M82.6 266.3h0M113.0 338.6h0M222.0 263.5h0M293.0 293.1h0M250.6 267.9h0M173.7 294.2h0M146.0 270.0h0M266.9 269.4h0M93.8 353.6h0M45.6 270.6h0M273.6 279.1h0M289.7 344.0h0M58.8 274.9h0M98.5 338.1h0M186.6 308.7h0M230.6 253.7h0M188.0 266.1h0M92.3 243.2h0M272.5 296.4h0M297.1 280.2h0M192.7 301.6h0M203.2 257.2h0M266.4 300.8h0M100.6 328.3h0M93.2 325.7h0M161.8 287.8h0M219.5 285.7h0M306.7 263.3h0M192.5 320.2h0M55.9 270.0h0M239.6 276.1h0M193.0 316.5h0M142.5 288.6h0M82.3 316.2h0M229.7 265.6h0M36.9 252.8h0M231.2 296.6h0M245.4 299.4h0M170.8 269.5h0M251.5 296.3h0M191.8 266.2h0M152.7 269.5h0M235.3 262.3h0M263.3 312.1h0M175.1 252.9h0M255.6 274.7h0M184.3 336.6h0M256.3 308.3h0M220.2 278.5h0M291.9 265.1h0M221.3 247.8h0M185.6 308.3h0M195.0 303.8h0M277.9 291.3h0M212.4 262.6h0M242.4 262.8h0M265.8 309.7h0M55.3 256.1h0M263.7 281.7h0M276.8 259.2h0M163.3 273.5h0M291.1 341.9h0M197.0 301.1h0M280.4 258.8h0M211.5 264.9h0M30.4 250.0h0M264.3 255.2h0M174.9 320.5h0M159.7 309.8h0M158.3 273.0h0M252.1 271.3h0M74.7 261.3h0M143.2 303.8h0M204.3 247.5h0M265.8 260.8h0M164.3 303.2h0M296.0 289.8h0M259.9 303.0h0M164.4 284.9h0M193.4 279.3h0M111.1 329.6h0M178.1 286.1h0M184.0 334.5h0M41.3 276.8h0M148.2 300.0h0M184.0 297.9h0M256.2 307.2h0M291.4 271.1h0M144.3 252.9h0" stroke-width="1.6" stroke-opacity="0.85"/></g>
<rect x="0" y="536" width="1013" height="1" fill="#0f1a40"/>
</svg></div>

<div class="t" style="left:217.86px;width:600px;text-align:center;top:40.8px;font-size:21.39px;line-height:21.39px;color:#d9a63f;font-weight:400;font-family:'Liberation Sans', 'Noto Sans CJK SC', sans-serif;transform:scaleX(1.1624);transform-origin:center top;">2024年4月<span style="margin-left:-0.42em">《</span>世界经济展望》</div>
<div class="t" style="left:212.55999999999995px;width:600px;text-align:center;top:77.91px;font-size:58.56px;line-height:58.56px;color:#ffffff;font-weight:700;font-family:'Liberation Sans', 'Noto Sans CJK SC', sans-serif;letter-spacing:2.83px;text-indent:2.83px;transform:scaleX(1.0876);transform-origin:center top;">增长率预测</div>
<div class="t" style="left:211.39px;width:600px;text-align:center;top:148.05px;font-size:11.3px;line-height:11.3px;color:#a9b4dc;font-weight:400;font-family:'Liberation Sans', 'Noto Sans CJK SC', sans-serif;transform:scaleX(1.2202);transform-origin:center top;">(实际GDP增长率，百分比变化)</div>
<div class="t" style="left:-82.68px;width:600px;text-align:center;top:210.59px;font-size:14.81px;line-height:14.81px;color:#f3b534;font-weight:700;font-family:'Liberation Sans', 'Noto Sans CJK SC', sans-serif;letter-spacing:0.93px;text-indent:0.93px;transform:scaleX(1.1156);transform-origin:center top;">全球经济</div>
<div class="r" style="left:124.4px;top:316.6px;width:46.7px;height:106.5px;background:#ec7b8c;"></div>
<div class="t" style="left:-151.84px;width:600px;text-align:center;top:283.29px;font-size:29.77px;line-height:29.77px;color:#ffffff;font-weight:700;font-family:'DejaVu Sans', 'Liberation Sans', sans-serif;transform:scaleX(0.9444);transform-origin:center top;">3.2</div>
<div class="t" style="left:-152.5px;width:600px;text-align:center;top:437.97px;font-size:16.2px;line-height:16.2px;color:#c8cfee;font-weight:400;font-family:'DejaVu Sans', 'Liberation Sans', sans-serif;">2023</div>
<div class="r" style="left:196.1px;top:316.6px;width:47.6px;height:106.5px;background:#e5154b;"></div>
<div class="t" style="left:-80.18px;width:600px;text-align:center;top:283.29px;font-size:29.77px;line-height:29.77px;color:#ffffff;font-weight:700;font-family:'DejaVu Sans', 'Liberation Sans', sans-serif;transform:scaleX(0.9444);transform-origin:center top;">3.2</div>
<div class="t" style="left:-80.91999999999999px;width:600px;text-align:center;top:437.97px;font-size:16.2px;line-height:16.2px;color:#c8cfee;font-weight:400;font-family:'DejaVu Sans', 'Liberation Sans', sans-serif;">2024</div>
<div class="r" style="left:268.8px;top:316.6px;width:46.8px;height:106.5px;background:#8e1a33;"></div>
<div class="t" style="left:-8.379999999999995px;width:600px;text-align:center;top:283.29px;font-size:29.77px;line-height:29.77px;color:#ffffff;font-weight:700;font-family:'DejaVu Sans', 'Liberation Sans', sans-serif;transform:scaleX(0.9444);transform-origin:center top;">3.2</div>
<div class="t" style="left:-7.199999999999989px;width:600px;text-align:center;top:437.97px;font-size:16.2px;line-height:16.2px;color:#c8cfee;font-weight:400;font-family:'DejaVu Sans', 'Liberation Sans', sans-serif;">2025</div>
<div class="r" style="left:99.7px;top:421.5px;width:236.0px;height:1.6px;background:rgba(200,210,255,0.6);"></div>
<div class="t" style="left:206.06px;width:600px;text-align:center;top:261.36px;font-size:14.49px;line-height:14.49px;color:#f3b534;font-weight:700;font-family:'Liberation Sans', 'Noto Sans CJK SC', sans-serif;letter-spacing:0.91px;text-indent:0.91px;transform:scaleX(1.1171);transform-origin:center top;">发达经济体</div>
<div class="r" style="left:411.8px;top:367.7px;width:47.2px;height:55.0px;background:#93c83a;"></div>
<div class="t" style="left:134.7px;width:600px;text-align:center;top:335.05px;font-size:28.71px;line-height:28.71px;color:#ffffff;font-weight:700;font-family:'DejaVu Sans', 'Liberation Sans', sans-serif;transform:scaleX(0.9733);transform-origin:center top;">1.6</div>
<div class="t" style="left:135.0px;width:600px;text-align:center;top:438.44px;font-size:16.2px;line-height:16.2px;color:#c8cfee;font-weight:400;font-family:'DejaVu Sans', 'Liberation Sans', sans-serif;">2023</div>
<div class="r" style="left:484.9px;top:361.5px;width:46.6px;height:61.2px;background:#6cb52f;"></div>
<div class="t" style="left:208.0px;width:600px;text-align:center;top:328.89px;font-size:29.26px;line-height:29.26px;color:#ffffff;font-weight:700;font-family:'DejaVu Sans', 'Liberation Sans', sans-serif;transform:scaleX(0.9352);transform-origin:center top;">1.7</div>
<div class="t" style="left:208.22000000000003px;width:600px;text-align:center;top:438.44px;font-size:16.2px;line-height:16.2px;color:#c8cfee;font-weight:400;font-family:'DejaVu Sans', 'Liberation Sans', sans-serif;">2024</div>
<div class="r" style="left:556.8px;top:356.5px;width:46.8px;height:66.2px;background:#4f7f35;"></div>
<div class="t" style="left:279.62px;width:600px;text-align:center;top:325.07px;font-size:27.71px;line-height:27.71px;color:#ffffff;font-weight:700;font-family:'DejaVu Sans', 'Liberation Sans', sans-serif;transform:scaleX(0.9812);transform-origin:center top;">1.8</div>
<div class="t" style="left:281.1px;width:600px;text-align:center;top:438.44px;font-size:16.2px;line-height:16.2px;color:#c8cfee;font-weight:400;font-family:'DejaVu Sans', 'Liberation Sans', sans-serif;">2025</div>
<div class="r" style="left:387.6px;top:421.1px;width:235.7px;height:1.6px;background:rgba(200,210,255,0.6);"></div>
<div class="t" style="left:501.20000000000005px;width:600px;text-align:center;top:184.5px;font-size:15.26px;line-height:15.26px;color:#f3b534;font-weight:700;font-family:'Liberation Sans', 'Noto Sans CJK SC', sans-serif;letter-spacing:0.95px;text-indent:0.95px;transform:scaleX(1.0689);transform-origin:center top;">新兴市场和发展中经济体</div>
<div class="r" style="left:709px;top:276.5px;width:46.2px;height:145.1px;background:#e8a25c;"></div>
<div class="t" style="left:431.91999999999996px;width:600px;text-align:center;top:244.53px;font-size:29.38px;line-height:29.38px;color:#ffffff;font-weight:700;font-family:'DejaVu Sans', 'Liberation Sans', sans-serif;transform:scaleX(0.9386);transform-origin:center top;">4.3</div>
<div class="t" style="left:433.02px;width:600px;text-align:center;top:438.38px;font-size:16.2px;line-height:16.2px;color:#c8cfee;font-weight:400;font-family:'DejaVu Sans', 'Liberation Sans', sans-serif;">2023</div>
<div class="r" style="left:781px;top:282.3px;width:46.8px;height:139.3px;background:#e38518;"></div>
<div class="t" style="left:504.79999999999995px;width:600px;text-align:center;top:250.5px;font-size:27.64px;line-height:27.64px;color:#ffffff;font-weight:700;font-family:'DejaVu Sans', 'Liberation Sans', sans-serif;transform:scaleX(1.0113);transform-origin:center top;">4.2</div>
<div class="t" style="left:504.65999999999997px;width:600px;text-align:center;top:438.38px;font-size:16.2px;line-height:16.2px;color:#c8cfee;font-weight:400;font-family:'DejaVu Sans', 'Liberation Sans', sans-serif;">2024</div>
<div class="r" style="left:853.3px;top:282.3px;width:46.2px;height:139.3px;background:#d86a1a;"></div>
<div class="t" style="left:576.5px;width:600px;text-align:center;top:250.5px;font-size:27.64px;line-height:27.64px;color:#ffffff;font-weight:700;font-family:'DejaVu Sans', 'Liberation Sans', sans-serif;transform:scaleX(1.0113);transform-origin:center top;">4.2</div>
<div class="t" style="left:577.9px;width:600px;text-align:center;top:438.38px;font-size:16.2px;line-height:16.2px;color:#c8cfee;font-weight:400;font-family:'DejaVu Sans', 'Liberation Sans', sans-serif;">2025</div>
<div class="r" style="left:684px;top:420.0px;width:235.8px;height:1.6px;background:rgba(200,210,255,0.6);"></div>
<div class="t" style="left:34.95px;top:510.4px;font-size:14.01px;line-height:14.01px;color:#ffffff;font-weight:700;font-family:'Liberation Sans', 'Noto Sans CJK SC', sans-serif;letter-spacing:4.67px;transform:scaleX(1.1018);transform-origin:left top;">国际货币基金组织</div>
<div class="t" style="left:217.71000000000004px;width:600px;text-align:center;top:593.53px;font-size:21.68px;line-height:21.68px;color:#d9a63f;font-weight:400;font-family:'Liberation Sans', 'Noto Sans CJK SC', sans-serif;transform:scaleX(1.1475);transform-origin:center top;">2024年4月<span style="margin-left:-0.42em">《</span>世界经济展望》</div>
<div class="t" style="left:210.20999999999998px;width:600px;text-align:center;top:628.71px;font-size:39.4px;line-height:39.4px;color:#ffffff;font-weight:700;font-family:'Liberation Sans', 'Noto Sans CJK SC', sans-serif;letter-spacing:1.83px;text-indent:1.83px;transform:scaleX(1.0979);transform-origin:center top;">各地区的增长率预测</div>
<div class="t" style="left:212.03999999999996px;width:600px;text-align:center;top:677.04px;font-size:12.34px;line-height:12.34px;color:#a9b4dc;font-weight:400;font-family:'Liberation Sans', 'Noto Sans CJK SC', sans-serif;transform:scaleX(1.2086);transform-origin:center top;">(实际GDP增长率，百分比变化)</div>
<div class="t" style="left:-127.96000000000001px;width:600px;text-align:center;top:748.49px;font-size:16.02px;line-height:16.02px;color:#ffffff;font-weight:700;font-family:'Liberation Sans', 'Noto Sans CJK SC', sans-serif;letter-spacing:1.6px;text-indent:1.6px;transform:scaleX(1.3741);transform-origin:center top;">全球</div>
<div class="r" style="left:105.4px;top:828.3px;width:27.8px;height:40.2px;background:#2366be;"></div>
<div class="t" style="left:-181.12px;width:600px;text-align:center;top:804.76px;font-size:20.59px;line-height:20.59px;color:#ffffff;font-weight:700;font-family:'DejaVu Sans', 'Liberation Sans', sans-serif;transform:scaleX(1.0283);transform-origin:center top;">3.2</div>
<div class="t" style="left:-181.4px;width:600px;text-align:center;top:872.37px;font-size:10.6px;line-height:10.6px;color:#1b2350;font-weight:700;font-family:'DejaVu Sans', 'Liberation Sans', sans-serif;">2023</div>
<div class="r" style="left:156.7px;top:828.3px;width:28.3px;height:40.2px;background:#164b97;"></div>
<div class="t" style="left:-129.28px;width:600px;text-align:center;top:804.76px;font-size:20.59px;line-height:20.59px;color:#ffffff;font-weight:700;font-family:'DejaVu Sans', 'Liberation Sans', sans-serif;transform:scaleX(1.0283);transform-origin:center top;">3.2</div>
<div class="t" style="left:-130.28px;width:600px;text-align:center;top:872.37px;font-size:10.6px;line-height:10.6px;color:#1b2350;font-weight:700;font-family:'DejaVu Sans', 'Liberation Sans', sans-serif;">2024</div>
<div class="r" style="left:209.2px;top:828.3px;width:27.7px;height:40.2px;background:#12183a;"></div>
<div class="t" style="left:-75.4px;width:600px;text-align:center;top:804.76px;font-size:20.59px;line-height:20.59px;color:#ffffff;font-weight:700;font-family:'DejaVu Sans', 'Liberation Sans', sans-serif;transform:scaleX(1.0283);transform-origin:center top;">3.2</div>
<div class="t" style="left:-76.19999999999999px;width:600px;text-align:center;top:872.37px;font-size:10.6px;line-height:10.6px;color:#1b2350;font-weight:700;font-family:'DejaVu Sans', 'Liberation Sans', sans-serif;">2025</div>
<div class="r" style="left:96.6px;top:868.5px;width:151.9px;height:1.9px;background:#ffffff;"></div>
<div class="t" style="left:115.06px;width:600px;text-align:center;top:759.03px;font-size:12.05px;line-height:12.05px;color:#f3b534;font-weight:700;font-family:'Liberation Sans', 'Noto Sans CJK SC', sans-serif;letter-spacing:6.02px;text-indent:6.02px;transform:scaleX(1.0376);transform-origin:center top;">美国</div>
<div class="r" style="left:362.9px;top:805.9px;width:25.1px;height:32.3px;background:#e9a215;"></div>
<div class="t" style="left:74.51999999999998px;width:600px;text-align:center;top:788.01px;font-size:16.24px;line-height:16.24px;color:#ffffff;font-weight:700;font-family:'DejaVu Sans', 'Liberation Sans', sans-serif;">2.5</div>
<div class="t" style="left:75.69999999999999px;width:600px;text-align:center;top:840.6px;font-size:7.2px;line-height:7.2px;color:#e8ebf6;font-weight:700;font-family:'DejaVu Sans', 'Liberation Sans', sans-serif;">2023</div>
<div class="r" style="left:403.6px;top:804.3px;width:25.5px;height:33.9px;background:#e05a14;"></div>
<div class="t" style="left:116.0px;width:600px;text-align:center;top:786.0px;font-size:16.58px;line-height:16.58px;color:#ffffff;font-weight:700;font-family:'DejaVu Sans', 'Liberation Sans', sans-serif;transform:scaleX(0.9710);transform-origin:center top;">2.7</div>
<div class="t" style="left:116.25999999999999px;width:600px;text-align:center;top:840.6px;font-size:7.2px;line-height:7.2px;color:#e8ebf6;font-weight:700;font-family:'DejaVu Sans', 'Liberation Sans', sans-serif;">2024</div>
<div class="r" style="left:443.9px;top:813.7px;width:25.0px;height:24.5px;background:#d4401c;"></div>
<div class="t" style="left:156.7px;width:600px;text-align:center;top:795.8px;font-size:15.76px;line-height:15.76px;color:#ffffff;font-weight:700;font-family:'DejaVu Sans', 'Liberation Sans', sans-serif;transform:scaleX(1.0248);transform-origin:center top;">1.9</div>
<div class="t" style="left:156.2px;width:600px;text-align:center;top:840.6px;font-size:7.2px;line-height:7.2px;color:#e8ebf6;font-weight:700;font-family:'DejaVu Sans', 'Liberation Sans', sans-serif;">2025</div>
<div class="r" style="left:355.6px;top:838.2px;width:120.4px;height:2.2px;background:#ffffff;"></div>
<div class="t" style="left:300.91999999999996px;width:600px;text-align:center;top:753.51px;font-size:10.86px;line-height:10.86px;color:#f3b534;font-weight:700;font-family:'Liberation Sans', 'Noto Sans CJK SC', sans-serif;letter-spacing:0.91px;text-indent:0.91px;transform:scaleX(1.2170);transform-origin:center top;">欧元区</div>
<div class="r" style="left:547.6px;top:809.1px;width:25.4px;height:5.1px;background:#e2492d;"></div>
<div class="t" style="left:260.94000000000005px;width:600px;text-align:center;top:790.52px;font-size:17.15px;line-height:17.15px;color:#ffffff;font-weight:700;font-family:'DejaVu Sans', 'Liberation Sans', sans-serif;transform:scaleX(0.9218);transform-origin:center top;">0.4</div>
<div class="t" style="left:260.32000000000005px;width:600px;text-align:center;top:817.53px;font-size:7.2px;line-height:7.2px;color:#e8ebf6;font-weight:700;font-family:'DejaVu Sans', 'Liberation Sans', sans-serif;">2023</div>
<div class="r" style="left:588.6px;top:804.5px;width:25.3px;height:9.7px;background:#d8281f;"></div>
<div class="t" style="left:301.70000000000005px;width:600px;text-align:center;top:786.6px;font-size:15.76px;line-height:15.76px;color:#ffffff;font-weight:700;font-family:'DejaVu Sans', 'Liberation Sans', sans-serif;transform:scaleX(1.0045);transform-origin:center top;">0.8</div>
<div class="t" style="left:301.29999999999995px;width:600px;text-align:center;top:817.53px;font-size:7.2px;line-height:7.2px;color:#e8ebf6;font-weight:700;font-family:'DejaVu Sans', 'Liberation Sans', sans-serif;">2024</div>
<div class="r" style="left:628.1px;top:795.4px;width:25.4px;height:18.8px;background:#c41e22;"></div>
<div class="t" style="left:340.48px;width:600px;text-align:center;top:779.16px;font-size:15.34px;line-height:15.34px;color:#ffffff;font-weight:700;font-family:'DejaVu Sans', 'Liberation Sans', sans-serif;transform:scaleX(1.0302);transform-origin:center top;">1.5</div>
<div class="t" style="left:340.64px;width:600px;text-align:center;top:817.53px;font-size:7.2px;line-height:7.2px;color:#e8ebf6;font-weight:700;font-family:'DejaVu Sans', 'Liberation Sans', sans-serif;">2025</div>
<div class="r" style="left:541px;top:814.2px;width:119.6px;height:2.2px;background:#ffffff;"></div>
<div class="t" style="left:469.03999999999996px;width:600px;text-align:center;top:748.37px;font-size:11.3px;line-height:11.3px;color:#f3b534;font-weight:700;font-family:'Liberation Sans', 'Noto Sans CJK SC', sans-serif;letter-spacing:0.94px;text-indent:0.94px;transform:scaleX(1.1162);transform-origin:center top;">中东和中亚</div>
<div class="r" style="left:717.1px;top:819.3px;width:25.0px;height:24.5px;background:#9cc56a;"></div>
<div class="t" style="left:429.86px;width:600px;text-align:center;top:800.69px;font-size:15.97px;line-height:15.97px;color:#ffffff;font-weight:700;font-family:'DejaVu Sans', 'Liberation Sans', sans-serif;transform:scaleX(1.0022);transform-origin:center top;">2.0</div>
<div class="t" style="left:429.48px;width:600px;text-align:center;top:847.57px;font-size:7.2px;line-height:7.2px;color:#e8ebf6;font-weight:700;font-family:'DejaVu Sans', 'Liberation Sans', sans-serif;">2023</div>
<div class="r" style="left:756.4px;top:808.8px;width:25.4px;height:35.0px;background:#70b22e;"></div>
<div class="t" style="left:469.4px;width:600px;text-align:center;top:790.6px;font-size:16.0px;line-height:16.0px;color:#ffffff;font-weight:700;font-family:'DejaVu Sans', 'Liberation Sans', sans-serif;transform:scaleX(1.0048);transform-origin:center top;">2.8</div>
<div class="t" style="left:469.20000000000005px;width:600px;text-align:center;top:847.57px;font-size:7.2px;line-height:7.2px;color:#e8ebf6;font-weight:700;font-family:'DejaVu Sans', 'Liberation Sans', sans-serif;">2024</div>
<div class="r" style="left:796.7px;top:791.4px;width:25.3px;height:52.4px;background:#5e8c2e;"></div>
<div class="t" style="left:510.20000000000005px;width:600px;text-align:center;top:773.45px;font-size:17.28px;line-height:17.28px;color:#ffffff;font-weight:700;font-family:'DejaVu Sans', 'Liberation Sans', sans-serif;transform:scaleX(0.9371);transform-origin:center top;">4.2</div>
<div class="t" style="left:509.32000000000005px;width:600px;text-align:center;top:847.57px;font-size:7.2px;line-height:7.2px;color:#e8ebf6;font-weight:700;font-family:'DejaVu Sans', 'Liberation Sans', sans-serif;">2025</div>
<div class="r" style="left:709.4px;top:843.8px;width:120.0px;height:2.2px;background:#ffffff;"></div>
<div class="t" style="left:624.44px;width:600px;text-align:center;top:738.69px;font-size:11.47px;line-height:11.47px;color:#f3b534;font-weight:700;font-family:'Liberation Sans', 'Noto Sans CJK SC', sans-serif;letter-spacing:0.96px;text-indent:0.96px;transform:scaleX(1.1078);transform-origin:center top;">亚洲新兴市场和</div>
<div class="t" style="left:624.08px;width:600px;text-align:center;top:753.29px;font-size:11.47px;line-height:11.47px;color:#f3b534;font-weight:700;font-family:'Liberation Sans', 'Noto Sans CJK SC', sans-serif;letter-spacing:0.96px;text-indent:0.96px;transform:scaleX(1.1158);transform-origin:center top;">发展中经济体</div>
<div class="r" style="left:869.2px;top:797.9px;width:25.4px;height:70.4px;background:#f0bc4e;"></div>
<div class="t" style="left:582.06px;width:600px;text-align:center;top:781.16px;font-size:15.34px;line-height:15.34px;color:#ffffff;font-weight:700;font-family:'DejaVu Sans', 'Liberation Sans', sans-serif;transform:scaleX(1.0382);transform-origin:center top;">5.6</div>
<div class="t" style="left:582.52px;width:600px;text-align:center;top:871.66px;font-size:7.2px;line-height:7.2px;color:#e8ebf6;font-weight:700;font-family:'DejaVu Sans', 'Liberation Sans', sans-serif;">2023</div>
<div class="r" style="left:908.4px;top:803.2px;width:25.4px;height:65.1px;background:#eba520;"></div>
<div class="t" style="left:621.12px;width:600px;text-align:center;top:786.77px;font-size:14.99px;line-height:14.99px;color:#ffffff;font-weight:700;font-family:'DejaVu Sans', 'Liberation Sans', sans-serif;transform:scaleX(1.0526);transform-origin:center top;">5.2</div>
<div class="t" style="left:621.28px;width:600px;text-align:center;top:871.66px;font-size:7.2px;line-height:7.2px;color:#e8ebf6;font-weight:700;font-family:'DejaVu Sans', 'Liberation Sans', sans-serif;">2024</div>
<div class="r" style="left:948.3px;top:807.5px;width:25.4px;height:60.8px;background:#da8a1c;"></div>
<div class="t" style="left:661.54px;width:600px;text-align:center;top:789.54px;font-size:16.85px;line-height:16.85px;color:#ffffff;font-weight:700;font-family:'DejaVu Sans', 'Liberation Sans', sans-serif;transform:scaleX(0.9816);transform-origin:center top;">4.9</div>
<div class="t" style="left:661.0px;width:600px;text-align:center;top:871.66px;font-size:7.2px;line-height:7.2px;color:#e8ebf6;font-weight:700;font-family:'DejaVu Sans', 'Liberation Sans', sans-serif;">2025</div>
<div class="r" style="left:861.6px;top:868.3px;width:120.0px;height:2.2px;background:#ffffff;"></div>
<div class="t" style="left:195.62px;width:600px;text-align:center;top:916.81px;font-size:12.36px;line-height:12.36px;color:#f3b534;font-weight:700;font-family:'Liberation Sans', 'Noto Sans CJK SC', sans-serif;letter-spacing:1.03px;text-indent:1.03px;transform:scaleX(1.0160);transform-origin:center top;">拉丁美洲和加勒比地区</div>
<div class="r" style="left:439.9px;top:966.6px;width:25.5px;height:29.4px;background:#9b62b0;"></div>
<div class="t" style="left:151.89999999999998px;width:600px;text-align:center;top:948.0px;font-size:17.15px;line-height:17.15px;color:#ffffff;font-weight:700;font-family:'DejaVu Sans', 'Liberation Sans', sans-serif;transform:scaleX(0.9479);transform-origin:center top;">2.3</div>
<div class="t" style="left:152.2px;width:600px;text-align:center;top:999.45px;font-size:7.2px;line-height:7.2px;color:#e8ebf6;font-weight:700;font-family:'DejaVu Sans', 'Liberation Sans', sans-serif;">2023</div>
<div class="r" style="left:479.9px;top:970.4px;width:25.8px;height:25.6px;background:#7b3fa0;"></div>
<div class="t" style="left:192.83999999999997px;width:600px;text-align:center;top:953.33px;font-size:16.38px;line-height:16.38px;color:#ffffff;font-weight:700;font-family:'DejaVu Sans', 'Liberation Sans', sans-serif;transform:scaleX(1.0016);transform-origin:center top;">2.0</div>
<div class="t" style="left:192.39999999999998px;width:600px;text-align:center;top:999.45px;font-size:7.2px;line-height:7.2px;color:#e8ebf6;font-weight:700;font-family:'DejaVu Sans', 'Liberation Sans', sans-serif;">2024</div>
<div class="r" style="left:520.2px;top:964.8px;width:25.2px;height:31.2px;background:#6a2c93;"></div>
<div class="t" style="left:233.15999999999997px;width:600px;text-align:center;top:945.92px;font-size:17.15px;line-height:17.15px;color:#ffffff;font-weight:700;font-family:'DejaVu Sans', 'Liberation Sans', sans-serif;transform:scaleX(0.9452);transform-origin:center top;">2.5</div>
<div class="t" style="left:232.39999999999998px;width:600px;text-align:center;top:999.45px;font-size:7.2px;line-height:7.2px;color:#e8ebf6;font-weight:700;font-family:'DejaVu Sans', 'Liberation Sans', sans-serif;">2025</div>
<div class="r" style="left:433.2px;top:996px;width:120.0px;height:2.2px;background:#ffffff;"></div>
<div class="t" style="left:401.62px;width:600px;text-align:center;top:877.64px;font-size:11.93px;line-height:11.93px;color:#f3b534;font-weight:700;font-family:'Liberation Sans', 'Noto Sans CJK SC', sans-serif;letter-spacing:0.99px;text-indent:0.99px;transform:scaleX(1.0732);transform-origin:center top;">撒哈拉以南非洲</div>
<div class="r" style="left:648.7px;top:929.5px;width:25.3px;height:42.8px;background:#56c0d3;"></div>
<div class="t" style="left:360.9px;width:600px;text-align:center;top:910.85px;font-size:15.88px;line-height:15.88px;color:#ffffff;font-weight:700;font-family:'DejaVu Sans', 'Liberation Sans', sans-serif;transform:scaleX(1.0031);transform-origin:center top;">3.4</div>
<div class="t" style="left:361.36px;width:600px;text-align:center;top:976.04px;font-size:7.2px;line-height:7.2px;color:#e8ebf6;font-weight:700;font-family:'DejaVu Sans', 'Liberation Sans', sans-serif;">2023</div>
<div class="r" style="left:689px;top:923.8px;width:25.3px;height:48.5px;background:#1fa6b0;"></div>
<div class="t" style="left:400.98px;width:600px;text-align:center;top:907.73px;font-size:15.26px;line-height:15.26px;color:#ffffff;font-weight:700;font-family:'DejaVu Sans', 'Liberation Sans', sans-serif;transform:scaleX(1.0096);transform-origin:center top;">3.8</div>
<div class="t" style="left:401.64px;width:600px;text-align:center;top:976.04px;font-size:7.2px;line-height:7.2px;color:#e8ebf6;font-weight:700;font-family:'DejaVu Sans', 'Liberation Sans', sans-serif;">2024</div>
<div class="r" style="left:728.7px;top:921.7px;width:25.3px;height:50.6px;background:#1d84a3;"></div>
<div class="t" style="left:440.98px;width:600px;text-align:center;top:903.65px;font-size:15.96px;line-height:15.96px;color:#ffffff;font-weight:700;font-family:'DejaVu Sans', 'Liberation Sans', sans-serif;transform:scaleX(0.9906);transform-origin:center top;">4.0</div>
<div class="t" style="left:441.36px;width:600px;text-align:center;top:976.04px;font-size:7.2px;line-height:7.2px;color:#e8ebf6;font-weight:700;font-family:'DejaVu Sans', 'Liberation Sans', sans-serif;">2025</div>
<div class="r" style="left:641.2px;top:972.3px;width:120.3px;height:2.2px;background:#ffffff;"></div>
<div class="t" style="left:23.27px;top:1078.2px;font-size:15.7px;line-height:15.7px;color:#ffffff;font-weight:700;font-family:'DejaVu Sans', 'Liberation Sans', sans-serif;transform:scaleX(0.9019);transform-origin:left top;">IMF.org</div>
<div class="t" style="left:93.8px;top:1078.75px;font-size:13.57px;line-height:13.57px;color:#e8b020;font-weight:700;font-family:'DejaVu Sans', 'Liberation Sans', sans-serif;transform:scaleX(1.0350);transform-origin:left top;">#WEO</div>
<div class="t" style="left:357.14px;top:1067.52px;font-size:11.18px;line-height:11.18px;color:#b9c2e0;font-weight:400;font-family:'Liberation Sans', 'Noto Sans CJK SC', sans-serif;text-spacing-trim:space-all;">来源：IMF 2024年4月<span style="color:#7f9bd6">《世界经济展望》。</span></div>
<div class="t" style="left:357.32px;top:1081.4px;font-size:10.63px;line-height:10.63px;color:#b9c2e0;font-weight:400;font-family:'Liberation Sans', 'Noto Sans CJK SC', sans-serif;text-spacing-trim:space-all;">注释：每组国家的条形从左至右分别表示：2023年实际值，2024年预测值，以及2025年预测值。</div>
</body></html>
